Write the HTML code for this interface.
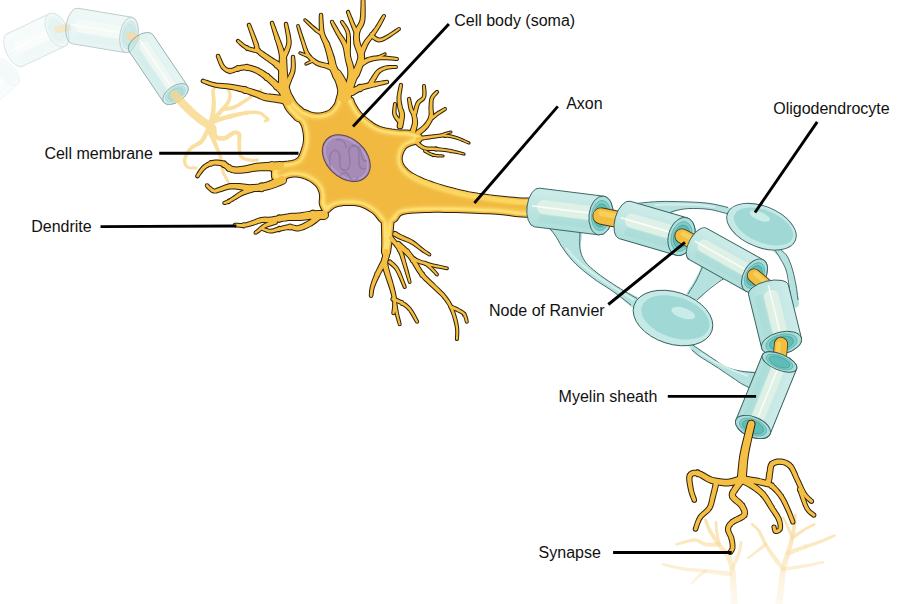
<!DOCTYPE html>
<html><head><meta charset="utf-8"><style>html,body{margin:0;padding:0;background:#fff;width:900px;height:604px;overflow:hidden}svg{display:block}text{font-family:"Liberation Sans",sans-serif}</style></head>
<body><svg width="900" height="604" viewBox="0 0 900 604" font-family="Liberation Sans, sans-serif" font-size="16" fill="#111">
<defs>
<filter id="ig" x="-5%" y="-5%" width="110%" height="110%">
<feMorphology in="SourceAlpha" operator="erode" radius="0.5" result="er"/>
<feGaussianBlur in="er" stdDeviation="1" result="b1"/>
<feGaussianBlur in="er" stdDeviation="3.2" result="b2"/>
<feComposite in="b1" in2="b2" operator="arithmetic" k1="0" k2="4.6" k3="-4.6" k4="0" result="band"/>
<feComposite in="band" in2="er" operator="in" result="edge"/>
<feFlood flood-color="#FEE070" result="c"/>
<feComposite in="c" in2="edge" operator="in" result="glow"/>
<feMerge><feMergeNode in="SourceGraphic"/><feMergeNode in="glow"/></feMerge>
</filter>
<filter id="sb" x="-5%" y="-5%" width="110%" height="110%"><feGaussianBlur stdDeviation="0.6"/></filter>
<filter id="bl" x="-5%" y="-5%" width="110%" height="110%"><feGaussianBlur stdDeviation="0.9"/></filter>
<linearGradient id="fbg" x1="0" y1="515" x2="0" y2="604" gradientUnits="userSpaceOnUse">
<stop offset="0" stop-color="#f8dc9e" stop-opacity="0.85"/><stop offset="0.5" stop-color="#f9e0aa" stop-opacity="0.6"/><stop offset="1" stop-color="#fcecd0" stop-opacity="0.35"/>
</linearGradient>
<linearGradient id="mg" x1="0" y1="-1" x2="0" y2="1" gradientUnits="objectBoundingBox">
<stop offset="0" stop-color="#cdeceb"/><stop offset="0.55" stop-color="#cbebe8"/><stop offset="1" stop-color="#b0dfdb"/>
</linearGradient>
</defs>
<g opacity="0.07"><g transform="translate(-22.0,98.0) rotate(-41.88)" opacity="1.0">
<path d="M0,-16 L38.9,-16 A8,16 0 0 1 38.9,16 L0,16 A8,16 0 0 1 0,-16Z" fill="url(#mg)" stroke="#345f5d" stroke-width="0.9"/>
<path d="M4.8,-6.7 L31.7,-6.7 L31.7,4.8 L4.8,4.8 A4.8,5.8 0 0 1 4.8,-6.7Z" fill="#e2f1e6" opacity="0.9"/>
<path d="M-4.0,-0.8 L34.1,-0.8" stroke="#ffffff" stroke-width="1.6" opacity="0.8"/>
<path d="M2.4,8.8 L34.1,8.8" stroke="#9dd6d2" stroke-width="6.4" opacity="0.35"/>
<ellipse cx="38.9" cy="0" rx="8" ry="16" fill="#a9dedb" stroke="#345f5d" stroke-width="0.9"/>
<ellipse cx="38.9" cy="0" rx="6.2" ry="12.5" fill="#7fcdc8" stroke="#4a9a96" stroke-width="0.5"/>
<ellipse cx="38.9" cy="0" rx="4.8" ry="9.6" fill="#5fbdb7" stroke="#3f8c88" stroke-width="0.5"/>

</g></g>
<g opacity="0.16"><g transform="translate(15.0,50.0) rotate(-25.46)" opacity="1.0">
<path d="M0,-18 L46.5,-18 A10,18 0 0 1 46.5,18 L0,18 A9,18 0 0 1 0,-18Z" fill="url(#mg)" stroke="#345f5d" stroke-width="0.9"/>
<path d="M5.4,-7.6 L37.5,-7.6 L37.5,5.4 L5.4,5.4 A5.4,6.5 0 0 1 5.4,-7.6Z" fill="#e2f1e6" opacity="0.9"/>
<path d="M-4.5,-0.9 L40.5,-0.9" stroke="#ffffff" stroke-width="1.6" opacity="0.8"/>
<path d="M2.7,9.9 L40.5,9.9" stroke="#9dd6d2" stroke-width="7.2" opacity="0.35"/>
<ellipse cx="46.5" cy="0" rx="10" ry="18" fill="#a9dedb" stroke="#345f5d" stroke-width="0.9"/>
<ellipse cx="46.5" cy="0" rx="7.8" ry="14.0" fill="#7fcdc8" stroke="#4a9a96" stroke-width="0.5"/>
<ellipse cx="46.5" cy="0" rx="6.0" ry="10.8" fill="#5fbdb7" stroke="#3f8c88" stroke-width="0.5"/>

</g></g>
<g opacity="0.8"><path d="M58,29.5 L67,27.5" stroke="#f3e6cc" stroke-width="7.6" stroke-linecap="round"/><path d="M58,29.5 L67,27.5" stroke="#f8e6c0" stroke-width="6" stroke-linecap="round"/></g>
<g opacity="0.32"><g transform="translate(75.0,26.0) rotate(9.46)" opacity="1.0">
<path d="M0,-18 L54.7,-18 A9,18 0 0 1 54.7,18 L0,18 A9,18 0 0 1 0,-18Z" fill="url(#mg)" stroke="#345f5d" stroke-width="0.9"/>
<path d="M5.4,-7.6 L46.6,-7.6 L46.6,5.4 L5.4,5.4 A5.4,6.5 0 0 1 5.4,-7.6Z" fill="#e2f1e6" opacity="0.9"/>
<path d="M-4.5,-0.9 L49.3,-0.9" stroke="#ffffff" stroke-width="1.6" opacity="0.8"/>
<path d="M2.7,9.9 L49.3,9.9" stroke="#9dd6d2" stroke-width="7.2" opacity="0.35"/>
<ellipse cx="54.7" cy="0" rx="9" ry="18" fill="#a9dedb" stroke="#345f5d" stroke-width="0.9"/>
<ellipse cx="54.7" cy="0" rx="7.0" ry="14.0" fill="#7fcdc8" stroke="#4a9a96" stroke-width="0.5"/>
<ellipse cx="54.7" cy="0" rx="5.4" ry="10.8" fill="#5fbdb7" stroke="#3f8c88" stroke-width="0.5"/>

</g></g>
<g opacity="0.9"><path d="M130,36 L136,38.5" stroke="#eed9b4" stroke-width="8.1" stroke-linecap="round"/><path d="M130,36 L136,38.5" stroke="#f6dcaa" stroke-width="6.5" stroke-linecap="round"/></g>
<g opacity="0.5"><g transform="translate(141.0,43.0) rotate(55.92)" opacity="1.0">
<path d="M0,-14.5 L61.6,-14.5 A8,14.5 0 0 1 61.6,14.5 L0,14.5 A8,14.5 0 0 1 0,-14.5Z" fill="url(#mg)" stroke="#345f5d" stroke-width="0.9"/>
<path d="M4.8,-6.1 L54.4,-6.1 L54.4,4.3 L4.8,4.3 A4.8,5.2 0 0 1 4.8,-6.1Z" fill="#e2f1e6" opacity="0.9"/>
<path d="M-4.0,-0.7 L56.8,-0.7" stroke="#ffffff" stroke-width="1.6" opacity="0.8"/>
<path d="M2.4,8.0 L56.8,8.0" stroke="#9dd6d2" stroke-width="5.8" opacity="0.35"/>
<ellipse cx="61.6" cy="0" rx="8" ry="14.5" fill="#a9dedb" stroke="#345f5d" stroke-width="0.9"/>
<ellipse cx="61.6" cy="0" rx="6.2" ry="11.3" fill="#7fcdc8" stroke="#4a9a96" stroke-width="0.5"/>
<ellipse cx="61.6" cy="0" rx="4.8" ry="8.7" fill="#5fbdb7" stroke="#3f8c88" stroke-width="0.5"/>

</g></g>
<g fill="#f8d889" opacity="0.8" filter="url(#sb)"><path d="M171.5,97.4L173.4,99.4L176.0,102.3L179.1,105.7L182.3,109.1L185.3,112.1L188.1,114.6L190.9,117.1L193.6,119.3L196.2,121.4L198.6,123.3L201.0,124.9L203.2,126.3L205.3,127.5L206.9,128.3L208.0,129.0A4.0,4.0 0 0 0 212.0,122.0L212.0,122.0L210.8,121.3L209.2,120.5L207.4,119.4L205.4,118.2L203.4,116.7L201.2,115.0L198.8,113.1L196.2,110.9L193.6,108.6L191.1,106.1L188.3,103.3L185.2,100.0L182.2,96.7L179.6,93.8L177.7,91.8A4.2,4.2 0 0 0 171.5,97.4ZM170.4,94.6a4.2,4.2 0 1,0 8.4,0a4.2,4.2 0 1,0 -8.4,0ZM184.1,109.1a4.1,4.1 0 1,0 8.2,0a4.1,4.1 0 1,0 -8.2,0ZM197.0,120.0a4.0,4.0 0 1,0 8.1,0a4.0,4.0 0 1,0 -8.1,0ZM206.0,125.5a4.0,4.0 0 1,0 8.0,0a4.0,4.0 0 1,0 -8.0,0Z"/><path d="M206.7,129.6L207.0,129.9L207.5,130.2L207.9,130.5L208.2,130.7L208.1,130.4L208.0,129.9L208.0,129.8L208.0,129.9L208.0,130.3L208.0,130.6A3.0,3.0 0 0 0 214.0,131.4L214.0,131.4L214.0,131.2L214.2,130.8L214.3,130.0L214.3,128.9L213.9,127.6L213.2,126.5L212.6,125.7L212.0,125.1L211.6,124.7L211.3,124.4A3.5,3.5 0 0 0 206.7,129.6ZM205.5,127.0a3.5,3.5 0 1,0 7.0,0a3.5,3.5 0 1,0 -7.0,0ZM207.8,129.0a3.2,3.2 0 1,0 6.4,0a3.2,3.2 0 1,0 -6.4,0ZM208.0,131.0a3.0,3.0 0 1,0 6.0,0a3.0,3.0 0 1,0 -6.0,0Z"/><path d="M212.5,125.7L212.8,124.5L213.3,122.8L213.8,120.8L214.4,118.6L214.8,116.5L215.1,114.3L215.4,112.0L215.6,109.8L215.7,107.6L215.8,105.6L215.9,103.9L215.8,102.4L215.8,100.9L215.7,99.5L215.6,98.1L215.4,96.5L215.1,94.9L214.9,93.5L214.7,92.2L214.7,91.3L214.9,90.4L215.4,89.4L215.9,88.4L216.5,87.5L216.9,86.8A1.6,1.6 0 0 0 214.1,85.2L214.1,85.2L213.7,85.8L213.1,86.7L212.4,87.8L211.7,89.2L211.3,90.7L211.2,92.4L211.3,93.9L211.5,95.5L211.7,97.0L211.8,98.3L211.8,99.7L211.8,101.0L211.8,102.3L211.7,103.8L211.6,105.4L211.4,107.2L211.2,109.3L210.9,111.5L210.6,113.6L210.2,115.5L209.7,117.5L209.1,119.5L208.5,121.4L207.9,123.1L207.5,124.3A2.6,2.6 0 0 0 212.5,125.7ZM207.4,125.0a2.6,2.6 0 1,0 5.2,0a2.6,2.6 0 1,0 -5.2,0ZM210.1,116.0a2.4,2.4 0 1,0 4.7,0a2.4,2.4 0 1,0 -4.7,0ZM211.6,105.5a2.1,2.1 0 1,0 4.2,0a2.1,2.1 0 1,0 -4.2,0ZM211.8,98.2a1.9,1.9 0 1,0 3.8,0a1.9,1.9 0 1,0 -3.8,0ZM211.3,91.0a1.7,1.7 0 1,0 3.5,0a1.7,1.7 0 1,0 -3.5,0ZM213.9,86.0a1.6,1.6 0 1,0 3.2,0a1.6,1.6 0 1,0 -3.2,0Z"/><path d="M212.8,123.6L214.4,121.7L216.8,119.0L219.6,115.9L222.2,112.9L224.3,110.4L225.9,108.6L227.1,107.0L228.2,105.6L229.1,104.2L229.9,102.7L230.6,101.1L231.1,99.4L231.5,97.7L231.7,96.1L231.7,94.5L231.5,92.9L230.9,91.4L230.3,90.1L229.7,89.1L229.4,88.4A1.5,1.5 0 0 0 226.6,89.6L226.6,89.6L227.0,90.4L227.5,91.4L228.0,92.6L228.3,93.7L228.5,94.7L228.4,95.8L228.2,97.1L227.8,98.4L227.3,99.8L226.7,101.1L226.0,102.3L225.2,103.4L224.1,104.6L222.9,106.0L221.3,107.8L219.1,110.1L216.4,113.0L213.5,116.0L211.0,118.6L209.2,120.4A2.4,2.4 0 0 0 212.8,123.6ZM208.6,122.0a2.4,2.4 0 1,0 4.8,0a2.4,2.4 0 1,0 -4.8,0ZM220.8,109.1a2.0,2.0 0 1,0 4.0,0a2.0,2.0 0 1,0 -4.0,0ZM226.5,101.9a1.8,1.8 0 1,0 3.6,0a1.8,1.8 0 1,0 -3.6,0ZM228.5,94.6a1.6,1.6 0 1,0 3.3,0a1.6,1.6 0 1,0 -3.3,0ZM226.5,89.0a1.5,1.5 0 1,0 3.0,0a1.5,1.5 0 1,0 -3.0,0Z"/><path d="M223.0,111.1L224.5,110.9L226.5,110.7L229.0,110.4L231.7,109.9L234.4,109.0L237.1,107.8L239.9,106.2L242.6,104.5L245.2,102.8L247.4,101.4L249.2,100.1L250.8,98.9L252.1,97.8L253.4,96.8L254.7,95.8L256.2,94.8L257.8,93.7L259.4,92.7L260.8,91.8L261.7,91.2A1.4,1.4 0 0 0 260.3,88.8L260.3,88.8L259.3,89.4L257.9,90.2L256.2,91.2L254.5,92.3L252.9,93.4L251.5,94.4L250.2,95.4L248.8,96.4L247.4,97.5L245.6,98.6L243.4,100.0L240.8,101.6L238.1,103.2L235.5,104.5L233.2,105.6L230.9,106.2L228.5,106.6L226.1,106.8L224.1,107.0L222.6,107.1A2.0,2.0 0 0 0 223.0,111.1ZM220.8,109.1a2.0,2.0 0 1,0 4.0,0a2.0,2.0 0 1,0 -4.0,0ZM232.0,107.3a1.8,1.8 0 1,0 3.7,0a1.8,1.8 0 1,0 -3.7,0ZM244.9,100.0a1.6,1.6 0 1,0 3.3,0a1.6,1.6 0 1,0 -3.3,0ZM252.3,94.6a1.5,1.5 0 1,0 3.0,0a1.5,1.5 0 1,0 -3.0,0ZM259.6,90.0a1.4,1.4 0 1,0 2.8,0a1.4,1.4 0 1,0 -2.8,0Z"/><path d="M212.1,125.2L212.9,124.8L213.9,124.2L215.1,123.6L216.5,122.9L218.2,122.2L220.2,121.5L222.5,120.8L225.0,120.0L227.8,119.3L230.6,118.5L233.7,117.7L237.0,116.8L240.4,115.9L243.7,115.2L246.7,114.6L249.5,114.3L252.3,114.1L254.8,114.1L257.1,114.2L259.0,114.4L260.2,114.8L261.2,115.3L262.0,116.0L262.8,116.8L263.7,117.6L264.7,118.3L265.5,118.9L266.2,119.5L266.6,119.8L266.5,119.5L266.8,118.8L266.5,119.0L265.8,119.2L265.1,119.5L264.5,119.7A1.4,1.4 0 0 0 265.5,122.3L265.5,122.3L265.9,122.2L266.7,121.9L267.7,121.6L268.7,121.0L269.5,119.5L269.0,118.1L268.3,117.3L267.4,116.6L266.5,115.9L265.7,115.2L264.9,114.5L264.1,113.7L263.0,112.7L261.5,111.8L259.6,111.2L257.4,110.8L254.9,110.6L252.2,110.6L249.3,110.7L246.3,111.0L243.0,111.4L239.6,112.0L236.1,112.8L232.7,113.6L229.6,114.3L226.7,115.0L223.9,115.7L221.2,116.4L218.8,117.1L216.6,117.8L214.7,118.5L213.0,119.2L211.7,119.9L210.6,120.4L209.9,120.8A2.5,2.5 0 0 0 212.1,125.2ZM208.5,123.0a2.5,2.5 0 1,0 5.0,0a2.5,2.5 0 1,0 -5.0,0ZM215.0,120.0a2.4,2.4 0 1,0 4.8,0a2.4,2.4 0 1,0 -4.8,0ZM227.9,116.4a2.2,2.2 0 1,0 4.3,0a2.2,2.2 0 1,0 -4.3,0ZM244.6,112.8a1.9,1.9 0 1,0 3.7,0a1.9,1.9 0 1,0 -3.7,0ZM257.7,112.8a1.6,1.6 0 1,0 3.3,0a1.6,1.6 0 1,0 -3.3,0ZM263.2,116.4a1.5,1.5 0 1,0 3.1,0a1.5,1.5 0 1,0 -3.1,0ZM266.5,119.5a1.5,1.5 0 1,0 2.9,0a1.5,1.5 0 1,0 -2.9,0ZM263.6,121.0a1.4,1.4 0 1,0 2.8,0a1.4,1.4 0 1,0 -2.8,0Z"/><path d="M209.7,128.6L210.4,128.6L211.1,128.7L211.4,128.7L211.5,128.6L211.4,128.5L211.6,129.2L211.7,131.0L211.9,133.3L212.4,135.8L213.7,138.1L215.8,139.6L218.0,140.4L220.4,140.8L222.7,140.8L225.2,140.5L227.5,139.5L229.7,138.1L231.7,136.6L233.3,135.4L234.5,134.8L235.4,134.7L236.2,134.6L236.7,134.7L237.0,134.9L237.3,135.3L237.5,136.4L237.5,138.3L237.4,140.6L237.2,143.2L237.3,145.7L237.5,148.0L237.6,150.4L237.9,153.0L238.5,155.4L239.6,157.6L241.4,159.2L243.6,160.2L245.8,160.9L247.9,161.3L249.8,161.7L251.7,161.9L253.5,161.9L255.2,161.8L256.5,161.7L257.5,161.6A1.5,1.5 0 0 0 257.3,158.6L257.3,158.6L256.3,158.6L255.0,158.7L253.5,158.8L251.9,158.8L250.4,158.5L248.6,158.1L246.7,157.7L244.8,157.1L243.3,156.3L242.4,155.4L241.8,154.2L241.4,152.4L241.3,150.2L241.2,147.8L241.1,145.5L241.1,143.3L241.3,140.9L241.5,138.4L241.5,136.1L241.1,133.9L240.1,132.1L238.5,131.0L236.8,130.5L235.0,130.4L233.1,130.8L231.1,131.7L229.1,133.1L227.2,134.5L225.4,135.6L224.0,136.1L222.6,136.2L220.8,136.1L219.2,135.8L217.9,135.3L217.3,134.9L217.0,134.3L216.8,132.7L216.7,130.7L216.6,128.5L216.0,126.3L214.6,124.6L212.9,123.8L211.5,123.5L210.7,123.5L210.3,123.4A2.6,2.6 0 0 0 209.7,128.6ZM207.4,126.0a2.6,2.6 0 1,0 5.2,0a2.6,2.6 0 1,0 -5.2,0ZM211.2,127.4a2.5,2.5 0 1,0 5.1,0a2.5,2.5 0 1,0 -5.1,0ZM213.1,136.5a2.4,2.4 0 1,0 4.8,0a2.4,2.4 0 1,0 -4.8,0ZM222.3,138.3a2.3,2.3 0 1,0 4.6,0a2.3,2.3 0 1,0 -4.6,0ZM231.7,132.8a2.1,2.1 0 1,0 4.3,0a2.1,2.1 0 1,0 -4.3,0ZM237.1,134.6a2.1,2.1 0 1,0 4.1,0a2.1,2.1 0 1,0 -4.1,0ZM237.3,145.6a1.9,1.9 0 1,0 3.8,0a1.9,1.9 0 1,0 -3.8,0ZM239.3,156.5a1.7,1.7 0 1,0 3.5,0a1.7,1.7 0 1,0 -3.5,0ZM248.5,160.1a1.6,1.6 0 1,0 3.2,0a1.6,1.6 0 1,0 -3.2,0ZM255.9,160.1a1.5,1.5 0 1,0 3.0,0a1.5,1.5 0 1,0 -3.0,0Z"/><path d="M206.8,126.1L206.5,126.8L206.1,127.8L205.6,129.0L205.1,130.3L204.4,131.8L203.5,133.5L202.6,135.4L201.7,137.3L200.6,139.0L199.5,140.4L198.2,141.5L196.5,142.5L194.6,143.5L192.5,144.6L190.7,145.9L189.1,147.4L187.8,149.0L186.6,150.7L185.6,152.3L184.8,153.9L184.1,155.5L183.5,157.2L183.1,158.9L182.9,160.6L183.0,162.2L183.4,163.8L184.0,165.3L185.0,166.7L186.1,167.8L187.5,168.8L189.3,169.3L191.3,169.5L193.2,169.5L194.9,169.4L196.0,169.4A1.4,1.4 0 0 0 196.0,166.6L196.0,166.6L194.9,166.6L193.2,166.6L191.5,166.5L189.9,166.4L188.9,166.0L188.1,165.5L187.4,164.7L186.9,163.8L186.4,162.8L186.2,161.8L186.2,160.8L186.4,159.6L186.8,158.2L187.3,156.9L188.0,155.5L188.8,154.1L189.7,152.7L190.7,151.4L191.9,150.0L193.1,148.9L194.6,147.9L196.4,147.0L198.4,146.1L200.5,144.9L202.5,143.4L204.1,141.5L205.4,139.5L206.6,137.4L207.6,135.5L208.4,133.8L209.2,132.3L209.9,130.9L210.5,129.6L210.9,128.6L211.2,127.9A2.4,2.4 0 0 0 206.8,126.1ZM206.6,127.0a2.4,2.4 0 1,0 4.8,0a2.4,2.4 0 1,0 -4.8,0ZM204.1,132.8a2.3,2.3 0 1,0 4.6,0a2.3,2.3 0 1,0 -4.6,0ZM198.9,141.9a2.1,2.1 0 1,0 4.2,0a2.1,2.1 0 1,0 -4.2,0ZM190.0,147.4a1.9,1.9 0 1,0 3.9,0a1.9,1.9 0 1,0 -3.9,0ZM184.6,154.7a1.8,1.8 0 1,0 3.5,0a1.8,1.8 0 1,0 -3.5,0ZM183.0,162.0a1.6,1.6 0 1,0 3.3,0a1.6,1.6 0 1,0 -3.3,0ZM186.7,167.4a1.5,1.5 0 1,0 3.1,0a1.5,1.5 0 1,0 -3.1,0ZM194.6,168.0a1.4,1.4 0 1,0 2.8,0a1.4,1.4 0 1,0 -2.8,0Z"/><path d="M208.0,134.0L208.6,135.1L209.4,136.6L210.4,138.4L211.3,140.2L212.1,141.9L212.8,143.4L213.5,145.0L214.2,146.6L214.9,148.2L215.6,149.9L216.4,151.7L217.2,153.4L218.0,155.0L218.7,156.8L219.3,158.7L219.7,160.9L220.0,163.4L220.2,166.1L220.6,168.9L221.3,171.6L222.3,174.2L223.7,176.8L225.0,179.2L226.2,181.3L227.1,182.7A1.4,1.4 0 0 0 229.5,181.3L229.5,181.3L228.7,179.8L227.6,177.8L226.3,175.4L225.2,173.0L224.3,170.6L223.8,168.3L223.6,165.8L223.4,163.1L223.1,160.4L222.7,157.9L222.1,155.7L221.4,153.7L220.6,151.8L219.9,150.1L219.2,148.5L218.5,146.8L217.9,145.1L217.3,143.5L216.6,141.8L215.9,140.1L215.1,138.3L214.1,136.4L213.3,134.6L212.5,133.1L212.0,132.0A2.2,2.2 0 0 0 208.0,134.0ZM207.8,133.0a2.2,2.2 0 1,0 4.4,0a2.2,2.2 0 1,0 -4.4,0ZM211.9,141.0a2.1,2.1 0 1,0 4.1,0a2.1,2.1 0 1,0 -4.1,0ZM215.5,149.2a1.9,1.9 0 1,0 3.9,0a1.9,1.9 0 1,0 -3.9,0ZM219.2,158.3a1.8,1.8 0 1,0 3.6,0a1.8,1.8 0 1,0 -3.6,0ZM221.2,171.1a1.6,1.6 0 1,0 3.2,0a1.6,1.6 0 1,0 -3.2,0ZM226.9,182.0a1.4,1.4 0 1,0 2.8,0a1.4,1.4 0 1,0 -2.8,0Z"/></g>
<g fill="url(#fbg)" opacity="1" filter="url(#sb)"><path d="M738.0,605.8L737.8,602.8L737.4,598.5L737.1,593.5L736.8,588.5L736.4,584.2L736.2,580.7L736.0,577.5L735.8,574.5L735.5,571.4L735.0,568.4L734.3,565.4L733.5,562.6L732.5,559.8L731.4,557.1L730.0,554.4L728.3,551.8L726.4,549.5L724.4,547.4L722.5,545.3L720.7,543.1L718.8,540.6L716.8,537.9L714.9,535.3L713.1,532.6L711.6,530.2L710.4,527.8L709.3,525.3L708.4,523.0L707.7,520.9L707.1,519.5A1.6,1.6 0 0 0 704.1,520.5L704.1,520.5L704.6,522.0L705.2,524.1L706.1,526.6L707.1,529.3L708.4,532.0L709.9,534.7L711.6,537.5L713.4,540.3L715.3,543.1L717.1,545.7L719.0,548.2L720.9,550.5L722.7,552.6L724.3,554.7L725.6,556.8L726.7,559.1L727.6,561.5L728.3,564.1L728.9,566.7L729.4,569.4L729.8,572.1L729.9,574.8L730.0,577.8L730.1,581.0L730.2,584.6L730.3,588.8L730.5,593.8L730.6,598.8L730.7,603.1L730.8,606.2A3.6,3.6 0 0 0 738.0,605.8ZM730.8,606.0a3.6,3.6 0 1,0 7.2,0a3.6,3.6 0 1,0 -7.2,0ZM730.2,584.4a3.1,3.1 0 1,0 6.3,0a3.1,3.1 0 1,0 -6.3,0ZM729.4,568.9a2.8,2.8 0 1,0 5.6,0a2.8,2.8 0 1,0 -5.6,0ZM725.3,555.6a2.5,2.5 0 1,0 5.0,0a2.5,2.5 0 1,0 -5.0,0ZM716.7,544.4a2.2,2.2 0 1,0 4.4,0a2.2,2.2 0 1,0 -4.4,0ZM708.1,531.1a1.9,1.9 0 1,0 3.7,0a1.9,1.9 0 1,0 -3.7,0ZM704.0,520.0a1.6,1.6 0 1,0 3.2,0a1.6,1.6 0 1,0 -3.2,0Z"/><path d="M734.0,569.7L734.9,567.5L736.3,564.3L737.8,560.7L739.3,557.0L740.4,553.8L741.1,551.0L741.7,548.3L742.0,545.8L742.2,543.8L742.4,542.4A1.3,1.3 0 0 0 739.8,542.0L739.8,542.0L739.5,543.4L739.2,545.4L738.8,547.7L738.2,550.2L737.4,552.8L736.2,555.8L734.6,559.3L732.9,562.8L731.4,565.9L730.4,568.1A2.0,2.0 0 0 0 734.0,569.7ZM730.2,568.9a2.0,2.0 0 1,0 4.0,0a2.0,2.0 0 1,0 -4.0,0ZM737.3,553.3a1.6,1.6 0 1,0 3.2,0a1.6,1.6 0 1,0 -3.2,0ZM739.8,542.2a1.3,1.3 0 1,0 2.6,0a1.3,1.3 0 1,0 -2.6,0Z"/><path d="M718.8,542.2L717.0,542.3L714.3,542.5L711.4,542.7L708.4,542.7L706.0,542.5L704.1,541.9L702.2,540.9L700.0,539.8L697.5,538.7L694.4,538.3L690.7,538.8L686.6,539.9L682.4,541.1L678.8,542.3L676.3,543.2A1.3,1.3 0 0 0 677.1,545.6L677.1,545.6L679.6,545.0L683.2,543.9L687.3,542.8L691.3,542.0L694.4,541.7L696.6,542.1L698.4,542.9L700.4,544.1L702.6,545.4L705.2,546.3L708.2,546.7L711.4,546.8L714.5,546.7L717.2,546.6L719.0,546.6A2.2,2.2 0 0 0 718.8,542.2ZM716.7,544.4a2.2,2.2 0 1,0 4.4,0a2.2,2.2 0 1,0 -4.4,0ZM703.7,544.4a1.9,1.9 0 1,0 3.9,0a1.9,1.9 0 1,0 -3.9,0ZM692.7,540.0a1.7,1.7 0 1,0 3.4,0a1.7,1.7 0 1,0 -3.4,0ZM675.4,544.4a1.3,1.3 0 1,0 2.6,0a1.3,1.3 0 1,0 -2.6,0Z"/><path d="M730.3,571.6L726.9,571.3L722.2,570.8L716.6,570.2L711.0,569.6L705.8,569.1L701.1,568.7L696.6,568.4L692.1,568.1L687.8,567.8L683.6,567.3L679.1,566.5L674.5,565.6L670.1,564.6L666.3,563.7L663.6,563.1A1.3,1.3 0 0 0 663.0,565.7L663.0,565.7L665.7,566.4L669.4,567.4L673.8,568.5L678.5,569.6L683.0,570.5L687.4,571.2L691.8,571.7L696.3,572.1L700.8,572.6L705.4,573.1L710.5,573.7L716.1,574.5L721.6,575.2L726.4,575.9L729.7,576.4A2.4,2.4 0 0 0 730.3,571.6ZM727.6,574.0a2.4,2.4 0 1,0 4.8,0a2.4,2.4 0 1,0 -4.8,0ZM703.6,571.1a2.0,2.0 0 1,0 4.0,0a2.0,2.0 0 1,0 -4.0,0ZM681.7,568.9a1.6,1.6 0 1,0 3.3,0a1.6,1.6 0 1,0 -3.3,0ZM662.0,564.4a1.3,1.3 0 1,0 2.6,0a1.3,1.3 0 1,0 -2.6,0Z"/><path d="M704.6,569.8L703.6,570.7L702.1,571.8L700.4,573.2L698.7,574.6L697.1,576.0L695.7,577.4L694.3,578.8L693.0,580.2L692.0,581.4L691.2,582.2A1.1,1.1 0 0 0 692.8,583.8L692.8,583.8L693.6,583.0L694.8,581.9L696.1,580.6L697.5,579.2L698.9,578.0L700.4,576.8L702.2,575.5L703.9,574.2L705.5,573.1L706.6,572.4A1.6,1.6 0 0 0 704.6,569.8ZM704.0,571.1a1.6,1.6 0 1,0 3.2,0a1.6,1.6 0 1,0 -3.2,0ZM696.7,577.0a1.3,1.3 0 1,0 2.7,0a1.3,1.3 0 1,0 -2.7,0ZM690.9,583.0a1.1,1.1 0 1,0 2.2,0a1.1,1.1 0 1,0 -2.2,0Z"/><path d="M720.7,544.1L720.3,542.2L719.7,539.6L719.1,536.5L718.6,533.5L718.1,530.9L717.8,528.7L717.6,526.6L717.5,524.7L717.3,523.1L717.2,521.9A1.2,1.2 0 0 0 714.8,522.1L714.8,522.1L714.8,523.2L714.9,524.9L714.9,526.8L715.1,529.0L715.3,531.3L715.6,533.9L716.0,537.0L716.5,540.1L716.9,542.8L717.1,544.7A1.8,1.8 0 0 0 720.7,544.1ZM717.1,544.4a1.8,1.8 0 1,0 3.6,0a1.8,1.8 0 1,0 -3.6,0ZM715.3,531.1a1.4,1.4 0 1,0 2.9,0a1.4,1.4 0 1,0 -2.9,0ZM714.8,522.0a1.2,1.2 0 1,0 2.4,0a1.2,1.2 0 1,0 -2.4,0Z"/><path d="M782.5,606.4L782.7,603.7L783.0,600.0L783.4,595.6L783.9,591.1L784.3,587.1L784.6,583.3L784.9,579.7L785.2,576.1L785.6,572.7L786.0,569.5L786.7,566.3L787.5,563.3L788.4,560.2L789.3,557.1L790.1,554.0L791.0,550.8L791.9,547.7L792.8,544.5L793.6,541.3L794.2,538.3L794.8,535.3L795.3,532.4L795.6,529.7L795.9,527.0L796.2,524.6L796.4,522.3L796.5,520.0L796.6,518.0L796.6,516.3L796.6,515.1A1.6,1.6 0 0 0 793.4,514.9L793.4,514.9L793.3,516.1L793.2,517.8L793.1,519.8L792.9,522.0L792.6,524.2L792.3,526.5L791.8,529.1L791.4,531.8L790.8,534.5L790.2,537.3L789.4,540.2L788.5,543.2L787.5,546.3L786.4,549.5L785.5,552.6L784.5,555.6L783.4,558.6L782.4,561.7L781.4,565.0L780.6,568.3L779.9,571.9L779.3,575.4L778.9,579.1L778.4,582.7L777.9,586.3L777.4,590.4L776.8,594.9L776.2,599.2L775.7,603.0L775.3,605.6A3.6,3.6 0 0 0 782.5,606.4ZM775.3,606.0a3.6,3.6 0 1,0 7.2,0a3.6,3.6 0 1,0 -7.2,0ZM777.9,586.7a3.2,3.2 0 1,0 6.4,0a3.2,3.2 0 1,0 -6.4,0ZM780.5,568.9a2.8,2.8 0 1,0 5.6,0a2.8,2.8 0 1,0 -5.6,0ZM785.4,553.3a2.4,2.4 0 1,0 4.9,0a2.4,2.4 0 1,0 -4.9,0ZM790.1,537.8a2.1,2.1 0 1,0 4.2,0a2.1,2.1 0 1,0 -4.2,0ZM792.6,524.4a1.8,1.8 0 1,0 3.6,0a1.8,1.8 0 1,0 -3.6,0ZM793.4,515.0a1.6,1.6 0 1,0 3.2,0a1.6,1.6 0 1,0 -3.2,0Z"/><path d="M785.2,567.4L783.9,565.9L782.1,563.9L780.1,561.5L778.0,559.0L776.1,556.6L774.3,554.1L772.4,551.5L770.6,548.8L768.8,546.1L767.2,543.5L765.7,540.9L764.3,538.1L762.9,535.3L761.6,532.6L760.1,530.3L758.6,528.3L756.9,526.6L755.3,525.2L754.0,524.2L753.1,523.4A1.3,1.3 0 0 0 751.3,525.4L751.3,525.4L752.2,526.2L753.5,527.3L754.9,528.6L756.4,530.2L757.7,531.9L758.8,534.1L760.0,536.6L761.3,539.5L762.6,542.4L764.0,545.3L765.6,548.1L767.4,550.9L769.1,553.7L770.9,556.4L772.7,559.0L774.6,561.7L776.6,564.3L778.6,566.8L780.3,568.9L781.4,570.4A2.4,2.4 0 0 0 785.2,567.4ZM780.9,568.9a2.4,2.4 0 1,0 4.8,0a2.4,2.4 0 1,0 -4.8,0ZM772.3,557.8a2.1,2.1 0 1,0 4.2,0a2.1,2.1 0 1,0 -4.2,0ZM763.8,544.4a1.8,1.8 0 1,0 3.6,0a1.8,1.8 0 1,0 -3.6,0ZM757.4,531.1a1.5,1.5 0 1,0 3.0,0a1.5,1.5 0 1,0 -3.0,0ZM750.9,524.4a1.3,1.3 0 1,0 2.6,0a1.3,1.3 0 1,0 -2.6,0Z"/><path d="M764.6,543.1L763.0,544.5L760.8,546.4L758.2,548.5L755.7,550.6L753.6,552.3L752.0,553.6L750.5,554.7L749.2,555.7L748.1,556.5L747.4,557.1A1.1,1.1 0 0 0 748.6,558.9L748.6,558.9L749.5,558.4L750.6,557.6L751.9,556.7L753.5,555.6L755.2,554.3L757.3,552.7L759.9,550.7L762.6,548.7L765.0,546.9L766.6,545.7A1.6,1.6 0 0 0 764.6,543.1ZM764.0,544.4a1.6,1.6 0 1,0 3.2,0a1.6,1.6 0 1,0 -3.2,0ZM753.1,553.3a1.3,1.3 0 1,0 2.6,0a1.3,1.3 0 1,0 -2.6,0ZM746.9,558.0a1.1,1.1 0 1,0 2.2,0a1.1,1.1 0 1,0 -2.2,0Z"/><path d="M788.6,555.4L791.0,554.4L794.6,553.0L798.6,551.4L802.7,549.8L806.2,548.5L809.1,547.4L811.7,546.5L814.2,545.7L816.7,544.8L819.5,543.7L822.7,542.3L826.3,540.8L829.8,539.2L832.8,537.8L834.9,536.8A1.3,1.3 0 0 0 833.9,534.4L833.9,534.4L831.7,535.3L828.6,536.6L825.1,538.0L821.5,539.5L818.3,540.7L815.6,541.6L813.1,542.4L810.6,543.2L807.9,544.0L805.0,544.9L801.4,546.2L797.3,547.6L793.1,549.1L789.5,550.4L787.0,551.2A2.2,2.2 0 0 0 788.6,555.4ZM785.6,553.3a2.2,2.2 0 1,0 4.4,0a2.2,2.2 0 1,0 -4.4,0ZM803.7,546.7a1.9,1.9 0 1,0 3.7,0a1.9,1.9 0 1,0 -3.7,0ZM817.3,542.2a1.6,1.6 0 1,0 3.2,0a1.6,1.6 0 1,0 -3.2,0ZM833.1,535.6a1.3,1.3 0 1,0 2.6,0a1.3,1.3 0 1,0 -2.6,0Z"/><path d="M793.2,539.3L795.1,537.9L797.7,536.0L800.8,533.9L803.8,531.8L806.3,530.1L808.5,528.9L810.5,527.8L812.3,526.8L813.8,526.1L814.9,525.5A1.2,1.2 0 0 0 813.9,523.3L813.9,523.3L812.7,523.8L811.2,524.5L809.3,525.4L807.1,526.4L804.9,527.7L802.2,529.3L799.1,531.3L795.9,533.3L793.1,535.1L791.2,536.3A1.8,1.8 0 0 0 793.2,539.3ZM790.4,537.8a1.8,1.8 0 1,0 3.6,0a1.8,1.8 0 1,0 -3.6,0ZM804.2,528.9a1.4,1.4 0 1,0 2.9,0a1.4,1.4 0 1,0 -2.9,0ZM813.2,524.4a1.2,1.2 0 1,0 2.4,0a1.2,1.2 0 1,0 -2.4,0Z"/><path d="M783.5,570.9L785.9,570.6L789.1,570.1L793.0,569.6L797.2,569.0L801.4,568.3L805.9,567.4L811.0,566.3L816.1,565.1L820.5,564.1L823.5,563.4A1.2,1.2 0 0 0 823.1,561.0L823.1,561.0L819.9,561.6L815.5,562.4L810.4,563.4L805.3,564.3L800.8,565.1L796.7,565.6L792.6,566.1L788.7,566.4L785.4,566.7L783.1,566.9A2.0,2.0 0 0 0 783.5,570.9ZM781.3,568.9a2.0,2.0 0 1,0 4.0,0a2.0,2.0 0 1,0 -4.0,0ZM799.5,566.7a1.6,1.6 0 1,0 3.3,0a1.6,1.6 0 1,0 -3.3,0ZM822.1,562.2a1.2,1.2 0 1,0 2.4,0a1.2,1.2 0 1,0 -2.4,0Z"/><path d="M793.7,537.2L793.0,535.7L792.2,533.5L791.1,531.0L790.0,528.4L789.0,526.2L788.0,524.1L786.9,522.0L785.8,520.1L784.9,518.4L784.3,517.3A1.1,1.1 0 0 0 782.3,518.3L782.3,518.3L782.9,519.5L783.7,521.2L784.7,523.1L785.7,525.2L786.6,527.2L787.5,529.5L788.4,532.0L789.4,534.6L790.2,536.8L790.7,538.4A1.6,1.6 0 0 0 793.7,537.2ZM790.6,537.8a1.6,1.6 0 1,0 3.2,0a1.6,1.6 0 1,0 -3.2,0ZM786.5,526.7a1.3,1.3 0 1,0 2.7,0a1.3,1.3 0 1,0 -2.7,0ZM782.2,517.8a1.1,1.1 0 1,0 2.2,0a1.1,1.1 0 1,0 -2.2,0Z"/></g>
<path d="M301.0,152.0 L301.7,150.0 L302.4,147.7 L303.2,145.2 L303.7,142.6 L304.0,140.0 L304.0,137.3 L303.8,134.4 L303.3,131.4 L302.7,128.6 L302.0,126.0 L300.8,123.7 L299.3,121.5 L297.7,119.5 L296.4,117.7 L296.0,116.0 L296.6,114.4 L297.8,112.9 L299.5,111.6 L301.3,110.6 L303.0,110.0 L304.5,110.0 L306.1,110.5 L307.8,111.2 L309.4,112.0 L311.0,112.5 L312.6,112.9 L314.1,113.2 L315.7,113.5 L317.3,113.6 L319.0,113.5 L320.9,113.2 L323.0,112.8 L325.1,112.2 L327.2,111.5 L329.0,110.5 L330.6,109.3 L332.0,107.8 L333.3,106.1 L334.6,104.5 L336.0,103.0 L337.5,101.6 L339.1,100.2 L340.8,98.8 L342.4,97.7 L344.0,97.0 L345.7,96.7 L347.4,96.7 L349.2,96.9 L350.7,97.4 L352.0,98.0 L352.9,98.8 L353.4,99.9 L353.8,101.1 L354.3,102.5 L355.0,104.0 L356.0,105.6 L357.0,107.4 L358.2,109.3 L359.6,111.2 L361.0,113.0 L362.6,114.7 L364.3,116.4 L366.2,118.0 L368.1,119.5 L370.0,121.0 L371.9,122.4 L373.7,123.7 L375.6,124.9 L377.7,126.0 L380.0,127.0 L382.7,127.8 L385.6,128.5 L388.8,129.1 L391.9,129.6 L395.0,130.0 L398.1,130.3 L401.2,130.4 L404.3,130.5 L407.3,130.6 L410.0,131.0 L412.6,131.6 L415.3,132.2 L417.7,133.0 L419.6,134.0 L421.0,135.0 L421.8,136.2 L422.0,137.7 L421.8,139.2 L421.2,140.7 L420.0,142.0 L418.0,143.1 L415.3,144.0 L412.2,144.8 L409.3,145.8 L407.0,147.0 L405.4,148.6 L404.1,150.4 L403.2,152.3 L402.5,154.2 L402.0,156.0 L401.7,157.7 L401.7,159.3 L402.0,160.9 L402.4,162.5 L403.0,164.0 L403.8,165.5 L404.8,166.9 L406.1,168.3 L407.5,169.7 L409.0,171.0 L410.7,172.3 L412.5,173.5 L414.4,174.6 L416.6,175.8 L419.0,177.0 L421.6,178.2 L424.4,179.4 L427.5,180.6 L430.7,181.8 L434.0,183.0 L437.5,184.1 L441.3,185.3 L445.1,186.4 L449.1,187.5 L453.0,188.5 L456.8,189.5 L460.6,190.4 L464.4,191.3 L468.5,192.2 L473.0,193.0 L478.0,193.8 L483.5,194.5 L489.2,195.3 L494.8,195.9 L500.0,196.5 L504.8,197.0 L509.4,197.4 L513.9,197.8 L518.1,198.2 L522.0,198.5 L525.8,198.6 L529.6,198.5 L533.0,198.5 L535.9,198.8 L538.0,200.0 L539.3,202.4 L539.9,205.7 L539.9,209.3 L539.3,212.6 L538.0,215.0 L535.9,216.2 L533.0,216.8 L529.6,216.8 L525.8,216.7 L522.0,216.5 L518.0,216.2 L513.5,215.7 L508.9,215.1 L504.4,214.5 L500.0,214.0 L496.0,213.7 L492.3,213.5 L488.6,213.3 L484.6,213.2 L480.0,213.0 L474.6,212.8 L468.5,212.6 L462.1,212.3 L455.8,212.1 L450.0,212.0 L444.6,211.9 L439.5,211.8 L434.5,211.8 L429.7,211.9 L425.0,212.0 L420.2,212.2 L415.3,212.4 L410.6,212.7 L406.4,213.2 L403.0,214.0 L400.7,215.1 L399.2,216.6 L398.2,218.2 L397.2,219.8 L396.0,221.0 L394.4,221.9 L392.8,222.7 L391.2,223.4 L389.6,223.8 L388.0,224.0 L386.6,224.0 L385.2,223.9 L383.8,223.5 L382.4,222.9 L381.0,222.0 L379.5,220.6 L378.1,218.8 L376.6,216.8 L374.9,214.8 L373.0,213.0 L370.7,211.4 L368.2,209.8 L365.5,208.3 L362.7,207.0 L360.0,206.0 L357.2,205.4 L354.3,205.0 L351.4,204.9 L348.6,204.9 L346.0,205.0 L343.6,205.1 L341.3,205.4 L339.1,205.8 L337.0,206.3 L335.0,207.0 L333.0,208.2 L331.1,209.8 L329.3,211.4 L327.6,212.6 L326.0,213.0 L324.5,212.3 L323.1,210.9 L321.8,209.0 L320.8,207.0 L320.0,205.0 L319.7,203.1 L319.7,201.0 L319.9,199.0 L320.1,196.9 L320.0,195.0 L319.7,193.2 L319.2,191.6 L318.6,190.0 L317.9,188.4 L317.0,187.0 L315.9,185.6 L314.6,184.4 L313.2,183.2 L311.7,182.0 L310.0,181.0 L308.2,180.0 L306.2,179.1 L304.1,178.2 L302.0,177.5 L300.0,177.0 L298.0,176.7 L296.0,176.5 L293.9,176.5 L291.9,176.7 L290.0,177.0 L288.1,177.6 L286.3,178.6 L284.5,179.6 L282.7,180.5 L281.0,181.0 L279.2,181.1 L277.4,180.9 L275.6,180.4 L274.1,179.8 L273.0,179.0 L272.3,177.9 L272.0,176.5 L271.8,174.9 L271.9,173.4 L272.0,172.0 L272.1,170.9 L272.3,169.8 L272.6,168.9 L273.2,167.9 L274.0,167.0 L275.2,166.0 L276.7,165.0 L278.4,164.1 L280.2,163.2 L282.0,162.5 L283.9,162.0 L286.0,161.8 L288.2,161.6 L290.2,161.3 L292.0,161.0 L293.5,160.5 L294.8,160.1 L296.0,159.5 L297.1,158.8 L298.0,158.0 L298.8,157.1 L299.4,156.1 L299.9,155.0 L300.4,153.6Z" fill="#2e210b" stroke="#2e210b" stroke-width="2.00" stroke-linejoin="round"/>
<g fill="#2e210b"><path d="M305.2,109.5L304.0,108.4L302.3,107.0L300.5,105.5L298.8,104.0L297.6,102.7L296.6,101.5L295.5,99.8L294.5,98.0L293.5,96.3L292.8,95.0A6.5,6.5 0 0 0 281.2,101.0L281.2,101.0L281.7,102.2L282.5,104.0L283.6,106.3L284.8,108.8L286.4,111.3L288.3,113.6L290.3,115.8L292.2,117.8L293.8,119.4L294.8,120.5A7.6,7.6 0 0 0 305.2,109.5ZM292.4,115.0a7.6,7.6 0 1,0 15.2,0a7.6,7.6 0 1,0 -15.2,0ZM285.0,107.0a7.0,7.0 0 1,0 14.0,0a7.0,7.0 0 1,0 -14.0,0ZM280.5,98.0a6.5,6.5 0 1,0 13.0,0a6.5,6.5 0 1,0 -13.0,0Z"/><path d="M293.6,98.1L293.1,96.7L292.3,94.7L291.5,92.4L290.7,90.3L290.1,88.5L289.8,87.3L289.5,86.5L289.4,85.8L289.2,85.0L289.0,83.6L288.7,81.6L288.5,79.3L288.3,76.8L288.0,74.2L287.9,71.9L287.7,69.8L287.6,67.7L287.5,65.6L287.4,63.7L287.3,62.0L287.3,60.4L287.2,59.0L287.1,57.8L287.1,56.8L287.0,56.0A4.0,4.0 0 0 0 279.0,56.0L279.0,56.0L278.9,56.8L278.9,57.8L278.8,59.0L278.7,60.4L278.7,62.0L278.6,63.7L278.4,65.6L278.3,67.7L278.2,69.8L278.1,72.1L278.1,74.5L278.0,77.1L278.0,79.8L278.0,82.3L278.0,84.4L278.1,86.1L278.2,87.4L278.3,88.7L278.5,90.0L278.9,91.5L279.3,93.5L279.9,95.9L280.5,98.4L281.1,100.4L281.4,101.9A6.4,6.4 0 0 0 293.6,98.1ZM281.1,100.0a6.4,6.4 0 1,0 12.8,0a6.4,6.4 0 1,0 -12.8,0ZM278.7,90.0a5.8,5.8 0 1,0 11.7,0a5.8,5.8 0 1,0 -11.7,0ZM278.0,84.0a5.5,5.5 0 1,0 11.0,0a5.5,5.5 0 1,0 -11.0,0ZM278.1,72.0a4.9,4.9 0 1,0 9.7,0a4.9,4.9 0 1,0 -9.7,0ZM278.7,62.0a4.3,4.3 0 1,0 8.6,0a4.3,4.3 0 1,0 -8.6,0ZM279.0,56.0a4.0,4.0 0 1,0 8.0,0a4.0,4.0 0 1,0 -8.0,0Z"/><path d="M286.7,95.5L285.3,95.3L283.4,95.1L281.2,94.8L278.9,94.5L276.6,94.2L274.3,94.0L272.0,93.8L269.8,93.6L267.7,93.4L265.9,93.1L264.5,92.7L263.2,92.3L261.9,91.8L260.2,91.1L258.3,90.4L256.1,89.7L253.7,89.0L251.2,88.2L248.6,87.4L246.0,86.7L243.4,86.0L240.9,85.5L238.2,84.9L235.5,84.4L232.5,83.9L229.1,83.6L225.5,83.3L221.9,83.1L218.5,82.8L215.5,82.4L212.8,81.8L210.1,81.0L207.6,80.1L205.4,79.4L203.8,78.8A2.3,2.3 0 0 0 202.2,83.2L202.2,83.2L203.7,83.8L205.8,84.7L208.4,85.7L211.4,86.7L214.5,87.6L217.8,88.2L221.4,88.7L225.0,89.1L228.4,89.6L231.5,90.1L234.3,90.6L236.8,91.2L239.3,91.9L241.7,92.6L244.0,93.3L246.5,94.1L248.9,95.0L251.3,95.9L253.6,96.8L255.7,97.6L257.4,98.3L258.8,98.9L260.3,99.6L262.0,100.3L264.1,100.9L266.3,101.4L268.7,101.8L271.1,102.2L273.3,102.5L275.4,102.8L277.6,103.2L279.9,103.6L282.1,103.9L284.0,104.3L285.3,104.5A4.6,4.6 0 0 0 286.7,95.5ZM281.4,100.0a4.6,4.6 0 1,0 9.2,0a4.6,4.6 0 1,0 -9.2,0ZM271.7,98.5a4.3,4.3 0 1,0 8.7,0a4.3,4.3 0 1,0 -8.7,0ZM261.0,97.0a4.0,4.0 0 1,0 8.1,0a4.0,4.0 0 1,0 -8.1,0ZM253.2,94.0a3.8,3.8 0 1,0 7.6,0a3.8,3.8 0 1,0 -7.6,0ZM241.5,90.0a3.5,3.5 0 1,0 6.9,0a3.5,3.5 0 1,0 -6.9,0ZM228.9,87.0a3.1,3.1 0 1,0 6.2,0a3.1,3.1 0 1,0 -6.2,0ZM212.4,85.0a2.6,2.6 0 1,0 5.3,0a2.6,2.6 0 1,0 -5.3,0ZM200.7,81.0a2.3,2.3 0 1,0 4.6,0a2.3,2.3 0 1,0 -4.6,0Z"/><path d="M287.0,90.1L286.1,89.2L284.8,87.9L283.2,86.4L281.5,84.8L279.7,83.1L277.9,81.4L275.8,79.6L273.7,77.7L271.5,75.8L269.3,74.1L267.1,72.6L265.0,71.1L262.9,69.8L260.7,68.5L258.5,67.4L256.2,66.5L254.0,65.7L251.8,65.1L249.5,64.6L247.3,64.4L245.1,64.3L243.0,64.5L241.0,64.8L239.1,65.2L237.3,65.6L235.3,66.3L233.5,67.1L232.1,67.7L231.0,68.1L230.1,68.2L229.2,68.1L228.1,67.8L227.1,67.2L226.0,66.4L225.1,65.5L224.0,63.9L222.9,61.6L221.8,59.1L220.8,56.7L220.1,55.1A2.3,2.3 0 0 0 215.9,56.9L215.9,56.9L216.5,58.5L217.3,60.8L218.4,63.6L219.6,66.3L220.9,68.5L222.5,70.3L224.1,71.6L225.9,72.7L227.8,73.4L229.9,73.8L232.1,73.6L234.1,73.1L235.8,72.3L237.3,71.7L238.7,71.4L240.3,71.1L242.0,70.8L243.6,70.6L245.2,70.5L246.7,70.6L248.3,70.9L250.1,71.4L251.9,72.0L253.7,72.7L255.5,73.6L257.3,74.5L259.1,75.7L261.0,77.0L262.9,78.4L264.7,79.9L266.6,81.5L268.6,83.3L270.6,85.2L272.5,87.1L274.3,88.9L275.9,90.5L277.5,92.1L278.9,93.7L280.1,95.0L281.0,95.9A4.2,4.2 0 0 0 287.0,90.1ZM279.8,93.0a4.2,4.2 0 1,0 8.4,0a4.2,4.2 0 1,0 -8.4,0ZM273.0,86.0a4.0,4.0 0 1,0 7.9,0a4.0,4.0 0 1,0 -7.9,0ZM263.3,77.0a3.7,3.7 0 1,0 7.3,0a3.7,3.7 0 1,0 -7.3,0ZM253.6,70.5a3.4,3.4 0 1,0 6.8,0a3.4,3.4 0 1,0 -6.8,0ZM243.8,67.5a3.2,3.2 0 1,0 6.3,0a3.2,3.2 0 1,0 -6.3,0ZM235.0,68.5a3.0,3.0 0 1,0 5.9,0a3.0,3.0 0 1,0 -5.9,0ZM227.2,71.0a2.8,2.8 0 1,0 5.5,0a2.8,2.8 0 1,0 -5.5,0ZM220.4,67.0a2.6,2.6 0 1,0 5.2,0a2.6,2.6 0 1,0 -5.2,0ZM215.7,56.0a2.3,2.3 0 1,0 4.6,0a2.3,2.3 0 1,0 -4.6,0Z"/><path d="M285.9,68.5L285.1,67.7L284.0,66.5L282.7,65.0L281.1,63.4L279.3,61.8L277.3,60.3L275.2,58.9L273.0,57.5L270.9,56.2L268.9,54.9L266.9,53.5L264.8,52.1L262.9,50.8L261.3,49.7L260.2,48.6L259.8,48.0L259.7,47.9L259.6,47.1L259.3,45.5L258.6,43.1L257.3,39.8L255.6,35.5L253.8,31.0L252.2,27.0L251.1,24.2A2.2,2.2 0 0 0 246.9,25.8L246.9,25.8L247.9,28.6L249.3,32.7L250.9,37.3L252.3,41.6L253.4,44.9L253.9,46.7L254.0,47.9L254.1,49.1L254.7,50.7L255.8,52.4L257.3,54.1L259.2,55.7L261.2,57.2L263.2,58.7L265.1,60.1L267.1,61.6L269.3,63.1L271.3,64.6L273.2,65.9L274.7,67.2L276.0,68.5L277.3,69.9L278.4,71.3L279.4,72.5L280.1,73.5A3.8,3.8 0 0 0 285.9,68.5ZM279.2,71.0a3.8,3.8 0 1,0 7.6,0a3.8,3.8 0 1,0 -7.6,0ZM273.4,64.5a3.6,3.6 0 1,0 7.1,0a3.6,3.6 0 1,0 -7.1,0ZM263.8,57.5a3.2,3.2 0 1,0 6.5,0a3.2,3.2 0 1,0 -6.5,0ZM255.1,50.5a2.9,2.9 0 1,0 5.9,0a2.9,2.9 0 1,0 -5.9,0ZM253.3,44.0a2.7,2.7 0 1,0 5.5,0a2.7,2.7 0 1,0 -5.5,0ZM246.8,25.0a2.2,2.2 0 1,0 4.4,0a2.2,2.2 0 1,0 -4.4,0Z"/><path d="M258.6,48.5L257.0,48.2L254.8,47.8L252.4,47.3L250.0,46.6L248.1,45.9L246.2,44.8L244.2,43.4L242.3,41.8L240.6,40.4L239.4,39.4A2.1,2.1 0 0 0 236.6,42.6L236.6,42.6L237.8,43.6L239.4,45.2L241.4,46.9L243.6,48.6L245.9,50.1L248.5,51.2L251.2,52.0L253.8,52.7L255.9,53.1L257.4,53.5A2.6,2.6 0 0 0 258.6,48.5ZM255.4,51.0a2.6,2.6 0 1,0 5.2,0a2.6,2.6 0 1,0 -5.2,0ZM244.7,48.0a2.4,2.4 0 1,0 4.7,0a2.4,2.4 0 1,0 -4.7,0ZM235.9,41.0a2.1,2.1 0 1,0 4.2,0a2.1,2.1 0 1,0 -4.2,0Z"/><path d="M286.5,59.4L286.2,58.1L285.8,56.2L285.4,54.0L284.8,51.6L284.1,49.2L283.3,46.8L282.5,44.5L281.6,42.1L280.6,39.7L279.6,37.1L278.5,34.1L277.2,30.7L276.0,27.3L274.9,24.4L274.1,22.3A2.2,2.2 0 0 0 269.9,23.7L269.9,23.7L270.5,25.8L271.4,28.8L272.4,32.3L273.5,35.8L274.4,38.9L275.2,41.6L276.0,44.1L276.7,46.5L277.3,48.7L277.9,50.8L278.3,53.0L278.7,55.3L279.0,57.4L279.3,59.3L279.5,60.6A3.6,3.6 0 0 0 286.5,59.4ZM279.4,60.0a3.6,3.6 0 1,0 7.2,0a3.6,3.6 0 1,0 -7.2,0ZM277.8,50.0a3.2,3.2 0 1,0 6.5,0a3.2,3.2 0 1,0 -6.5,0ZM274.2,38.0a2.8,2.8 0 1,0 5.5,0a2.8,2.8 0 1,0 -5.5,0ZM269.8,23.0a2.2,2.2 0 1,0 4.4,0a2.2,2.2 0 1,0 -4.4,0Z"/><path d="M285.8,59.5L286.3,58.4L287.1,56.9L288.1,55.0L289.0,53.0L289.7,51.1L290.3,49.4L290.9,47.7L291.4,45.8L291.7,43.6L291.7,40.9L291.2,37.5L290.5,33.5L289.6,29.5L288.7,26.0L288.2,23.6A2.2,2.2 0 0 0 283.8,24.4L283.8,24.4L284.2,26.9L284.9,30.4L285.6,34.4L286.1,38.2L286.3,41.1L286.2,43.1L285.9,44.6L285.5,46.0L284.9,47.4L284.3,48.9L283.5,50.6L282.6,52.3L281.7,53.9L280.8,55.4L280.2,56.5A3.2,3.2 0 0 0 285.8,59.5ZM279.8,58.0a3.2,3.2 0 1,0 6.4,0a3.2,3.2 0 1,0 -6.4,0ZM284.1,50.0a2.9,2.9 0 1,0 5.9,0a2.9,2.9 0 1,0 -5.9,0ZM286.3,41.0a2.7,2.7 0 1,0 5.4,0a2.7,2.7 0 1,0 -5.4,0ZM283.8,24.0a2.2,2.2 0 1,0 4.4,0a2.2,2.2 0 1,0 -4.4,0Z"/><path d="M288.2,91.3L288.6,89.9L289.3,87.9L290.2,85.7L291.0,83.3L291.8,81.2L292.5,79.3L293.4,77.4L294.3,75.3L295.1,73.0L295.6,70.4L295.8,67.5L295.8,64.4L295.6,61.3L295.4,58.7L295.2,56.9A2.2,2.2 0 0 0 290.8,57.1L290.8,57.1L290.8,58.9L290.8,61.5L290.8,64.4L290.7,67.3L290.4,69.6L289.9,71.4L289.1,73.1L288.2,74.9L287.2,76.8L286.2,78.8L285.3,81.0L284.3,83.3L283.3,85.5L282.5,87.4L281.8,88.7A3.4,3.4 0 0 0 288.2,91.3ZM281.6,90.0a3.4,3.4 0 1,0 6.8,0a3.4,3.4 0 1,0 -6.8,0ZM286.0,80.0a3.0,3.0 0 1,0 6.1,0a3.0,3.0 0 1,0 -6.1,0ZM290.3,70.0a2.7,2.7 0 1,0 5.3,0a2.7,2.7 0 1,0 -5.3,0ZM290.8,57.0a2.2,2.2 0 1,0 4.4,0a2.2,2.2 0 1,0 -4.4,0Z"/><path d="M350.1,107.5L350.3,105.2L350.5,103.0L350.7,100.8L350.9,98.5L351.1,96.3A7.2,7.2 0 0 0 336.9,93.7L336.9,93.7L336.3,95.9L335.7,98.0L335.1,100.2L334.5,102.4L333.9,104.5A8.2,8.2 0 0 0 350.1,107.5ZM333.8,106.0a8.2,8.2 0 1,0 16.4,0a8.2,8.2 0 1,0 -16.4,0ZM336.8,95.0a7.2,7.2 0 1,0 14.4,0a7.2,7.2 0 1,0 -14.4,0Z"/><path d="M351.0,96.7L350.8,95.9L350.7,94.5L350.5,92.8L350.2,90.8L349.8,88.8L349.2,86.9L348.6,85.1L347.9,83.3L347.1,81.6L346.3,79.8L345.3,77.9L344.2,76.0L343.1,74.2L342.1,72.7L341.4,71.7A5.0,5.0 0 0 0 332.6,76.3L332.6,76.3L333.0,77.5L333.7,79.1L334.5,80.9L335.2,82.6L335.7,84.2L336.1,85.7L336.5,87.2L336.8,88.6L337.1,90.0L337.2,91.2L337.2,92.3L337.2,93.6L337.2,95.0L337.1,96.3L337.0,97.3A7.0,7.0 0 0 0 351.0,96.7ZM337.0,97.0a7.0,7.0 0 1,0 14.0,0a7.0,7.0 0 1,0 -14.0,0ZM337.1,90.0a6.4,6.4 0 1,0 12.8,0a6.4,6.4 0 1,0 -12.8,0ZM335.3,82.0a5.7,5.7 0 1,0 11.5,0a5.7,5.7 0 1,0 -11.5,0ZM332.0,74.0a5.0,5.0 0 1,0 10.0,0a5.0,5.0 0 1,0 -10.0,0Z"/><path d="M341.2,74.0L340.5,72.8L339.6,71.1L338.6,69.2L337.7,67.3L337.0,65.7L336.5,64.3L336.2,62.8L335.8,61.2L335.4,59.2L334.8,57.0L334.0,54.6L333.1,52.0L332.2,49.3L331.2,46.5L330.1,43.8L329.0,41.3L327.7,39.0L326.6,36.9L325.6,34.8L324.8,32.4L324.3,29.2L323.9,25.2L323.6,21.1L323.4,17.5L323.2,14.9A2.2,2.2 0 0 0 318.8,15.1L318.8,15.1L318.7,17.6L318.7,21.3L318.7,25.5L318.8,29.8L319.2,33.6L319.9,36.7L321.0,39.5L322.0,41.8L323.0,44.0L323.9,46.2L324.6,48.7L325.4,51.4L326.1,54.1L326.7,56.7L327.2,59.0L327.6,60.9L327.9,62.6L328.1,64.4L328.5,66.3L329.0,68.3L329.8,70.6L330.7,72.8L331.6,75.0L332.3,76.7L332.8,78.0A4.6,4.6 0 0 0 341.2,74.0ZM332.4,76.0a4.6,4.6 0 1,0 9.2,0a4.6,4.6 0 1,0 -9.2,0ZM328.8,67.0a4.2,4.2 0 1,0 8.5,0a4.2,4.2 0 1,0 -8.5,0ZM327.1,58.0a3.9,3.9 0 1,0 7.8,0a3.9,3.9 0 1,0 -7.8,0ZM323.6,45.0a3.4,3.4 0 1,0 6.7,0a3.4,3.4 0 1,0 -6.7,0ZM319.1,33.0a2.9,2.9 0 1,0 5.8,0a2.9,2.9 0 1,0 -5.8,0ZM318.8,15.0a2.2,2.2 0 1,0 4.4,0a2.2,2.2 0 1,0 -4.4,0Z"/><path d="M335.3,66.2L334.4,65.8L333.1,65.2L331.6,64.6L329.8,63.9L327.9,63.2L325.9,62.7L323.8,62.2L321.8,61.8L320.0,61.3L318.3,60.6L316.6,59.6L314.8,58.3L313.0,56.9L311.5,55.3L310.1,53.6L308.9,51.7L308.0,49.5L307.0,46.9L306.1,44.2L305.1,41.3L304.0,38.1L302.8,34.4L301.6,30.8L300.6,27.7L299.8,25.4A1.9,1.9 0 0 0 296.2,26.6L296.2,26.6L296.8,28.8L297.7,32.0L298.8,35.7L299.9,39.4L300.9,42.7L301.8,45.6L302.6,48.4L303.5,51.2L304.5,53.8L305.9,56.4L307.6,58.7L309.5,60.7L311.5,62.5L313.6,64.0L315.7,65.4L318.0,66.5L320.3,67.3L322.5,67.8L324.5,68.3L326.1,68.8L327.6,69.4L329.2,70.1L330.6,70.8L331.8,71.4L332.7,71.8A3.1,3.1 0 0 0 335.3,66.2ZM330.9,69.0a3.1,3.1 0 1,0 6.2,0a3.1,3.1 0 1,0 -6.2,0ZM324.1,66.0a2.9,2.9 0 1,0 5.9,0a2.9,2.9 0 1,0 -5.9,0ZM314.3,63.0a2.7,2.7 0 1,0 5.5,0a2.7,2.7 0 1,0 -5.5,0ZM305.5,55.0a2.5,2.5 0 1,0 5.0,0a2.5,2.5 0 1,0 -5.0,0ZM300.8,42.0a2.2,2.2 0 1,0 4.5,0a2.2,2.2 0 1,0 -4.5,0ZM296.1,26.0a1.9,1.9 0 1,0 3.8,0a1.9,1.9 0 1,0 -3.8,0Z"/><path d="M323.2,31.9L322.5,31.5L321.5,31.0L320.3,30.3L318.9,29.4L317.4,28.3L315.4,26.6L312.8,24.4L310.2,22.1L307.9,20.1L306.2,18.7A1.8,1.8 0 0 0 303.8,21.3L303.8,21.3L305.3,22.8L307.5,25.0L310.1,27.5L312.5,29.8L314.6,31.7L316.3,33.1L317.8,34.1L319.1,35.0L320.1,35.6L320.8,36.1A2.4,2.4 0 0 0 323.2,31.9ZM319.6,34.0a2.4,2.4 0 1,0 4.8,0a2.4,2.4 0 1,0 -4.8,0ZM313.8,30.0a2.2,2.2 0 1,0 4.4,0a2.2,2.2 0 1,0 -4.4,0ZM303.2,20.0a1.8,1.8 0 1,0 3.6,0a1.8,1.8 0 1,0 -3.6,0Z"/><path d="M310.8,55.1L308.8,54.3L306.7,53.6L304.7,52.9L302.7,52.1L300.6,51.4A1.7,1.7 0 0 0 299.4,54.6L299.4,54.6L301.3,55.5L303.3,56.3L305.3,57.2L307.2,58.1L309.2,58.9A2.1,2.1 0 0 0 310.8,55.1ZM307.9,57.0a2.1,2.1 0 1,0 4.2,0a2.1,2.1 0 1,0 -4.2,0ZM298.3,53.0a1.7,1.7 0 1,0 3.4,0a1.7,1.7 0 1,0 -3.4,0Z"/><path d="M311.1,59.2L309.9,59.9L308.8,60.5L307.6,61.2L306.4,61.8L305.2,62.5A1.7,1.7 0 0 0 306.8,65.5L306.8,65.5L308.0,65.0L309.2,64.4L310.4,63.9L311.7,63.3L312.9,62.8A2.0,2.0 0 0 0 311.1,59.2ZM310.0,61.0a2.0,2.0 0 1,0 4.0,0a2.0,2.0 0 1,0 -4.0,0ZM304.3,64.0a1.7,1.7 0 1,0 3.4,0a1.7,1.7 0 1,0 -3.4,0Z"/><path d="M350.4,95.5L350.9,93.5L351.8,90.7L352.9,87.3L353.9,83.9L354.5,80.9L354.9,78.4L355.2,76.2L355.2,74.0L355.1,71.8L354.8,69.5L354.3,67.0L353.6,64.5L352.8,62.0L352.0,59.6L351.3,57.2L350.8,54.8L350.2,52.2L349.6,49.5L348.8,46.7L347.8,43.9L346.4,41.2L344.9,38.6L343.3,36.2L341.7,33.9L340.2,31.7L338.8,29.3L337.4,26.8L336.0,24.4L334.8,22.4L333.9,21.0A2.2,2.2 0 0 0 330.1,23.0L330.1,23.0L330.8,24.6L331.8,26.7L333.1,29.2L334.4,31.8L335.8,34.3L337.1,36.7L338.6,39.2L340.0,41.6L341.2,43.9L342.2,46.1L342.9,48.4L343.4,50.8L343.8,53.4L344.2,56.1L344.7,58.8L345.3,61.4L345.9,64.0L346.5,66.3L347.0,68.5L347.2,70.5L347.3,72.3L347.3,73.9L347.2,75.5L346.9,77.1L346.5,79.1L345.7,81.6L344.7,84.6L343.5,87.8L342.4,90.5L341.6,92.5A4.6,4.6 0 0 0 350.4,95.5ZM341.4,94.0a4.6,4.6 0 1,0 9.2,0a4.6,4.6 0 1,0 -9.2,0ZM346.4,80.0a4.1,4.1 0 1,0 8.3,0a4.1,4.1 0 1,0 -8.3,0ZM347.2,70.0a3.8,3.8 0 1,0 7.7,0a3.8,3.8 0 1,0 -7.7,0ZM344.6,58.0a3.4,3.4 0 1,0 6.9,0a3.4,3.4 0 1,0 -6.9,0ZM342.0,45.0a3.0,3.0 0 1,0 6.1,0a3.0,3.0 0 1,0 -6.1,0ZM335.4,33.0a2.6,2.6 0 1,0 5.2,0a2.6,2.6 0 1,0 -5.2,0ZM329.8,22.0a2.2,2.2 0 1,0 4.4,0a2.2,2.2 0 1,0 -4.4,0Z"/><path d="M350.8,55.1L350.8,52.7L350.9,49.1L351.0,45.1L351.0,41.1L351.0,37.9L350.8,35.6L350.6,33.8L350.2,32.2L349.8,30.7L349.1,29.1L348.1,27.2L346.9,25.2L345.6,23.4L344.5,21.9L343.7,20.8A2.1,2.1 0 0 0 340.3,23.2L340.3,23.2L341.0,24.3L342.0,25.9L343.1,27.6L344.2,29.4L344.9,30.9L345.4,32.2L345.7,33.3L345.8,34.5L346.0,36.0L346.0,38.1L346.0,41.1L345.8,44.9L345.6,48.9L345.4,52.4L345.2,54.9A2.8,2.8 0 0 0 350.8,55.1ZM345.2,55.0a2.8,2.8 0 1,0 5.6,0a2.8,2.8 0 1,0 -5.6,0ZM346.0,38.0a2.5,2.5 0 1,0 4.9,0a2.5,2.5 0 1,0 -4.9,0ZM344.7,30.0a2.3,2.3 0 1,0 4.6,0a2.3,2.3 0 1,0 -4.6,0ZM339.9,22.0a2.1,2.1 0 1,0 4.2,0a2.1,2.1 0 1,0 -4.2,0Z"/><path d="M351.8,97.4L352.4,95.1L353.3,91.7L354.4,87.9L355.4,84.3L356.3,81.7L356.9,80.1L357.5,79.1L358.1,78.1L359.0,76.7L359.9,74.9L360.8,72.9L361.7,70.8L362.5,68.5L363.3,66.3L363.9,64.2L364.4,62.4L364.8,60.7L365.0,58.8L365.1,56.7L364.8,54.3L364.1,51.7L363.1,49.1L362.0,46.6L361.1,44.3L360.5,42.3L360.1,40.3L359.9,38.3L359.8,36.4L359.9,34.5L360.2,32.9L360.7,31.3L361.5,29.6L362.7,27.7L363.9,25.4L364.9,22.8L365.4,20.2L365.6,17.5L365.7,14.9L365.7,12.4L365.7,10.1L365.7,7.6L365.6,5.0L365.6,2.5L365.5,0.4L365.4,-1.0A2.4,2.4 0 0 0 360.6,-1.0L360.6,-1.0L360.6,0.5L360.5,2.6L360.5,5.0L360.4,7.5L360.3,9.9L360.2,12.3L360.1,14.7L359.9,17.1L359.6,19.3L359.1,21.2L358.4,22.8L357.4,24.5L356.1,26.4L354.8,28.6L353.8,31.1L353.3,33.7L353.1,36.2L353.0,38.6L353.2,41.1L353.5,43.7L354.2,46.5L355.1,49.2L356.1,51.8L356.8,54.0L357.2,55.7L357.2,56.9L357.2,58.0L356.9,59.0L356.6,60.3L356.1,61.8L355.5,63.6L354.7,65.5L353.8,67.5L352.9,69.4L352.1,71.1L351.4,72.2L350.8,73.1L349.9,74.3L348.8,76.0L347.7,78.3L346.6,81.4L345.3,85.1L344.1,88.9L343.0,92.3L342.2,94.6A5.0,5.0 0 0 0 351.8,97.4ZM342.0,96.0a5.0,5.0 0 1,0 10.0,0a5.0,5.0 0 1,0 -10.0,0ZM347.4,80.0a4.6,4.6 0 1,0 9.1,0a4.6,4.6 0 1,0 -9.1,0ZM351.6,73.0a4.4,4.4 0 1,0 8.7,0a4.4,4.4 0 1,0 -8.7,0ZM355.9,63.0a4.1,4.1 0 1,0 8.2,0a4.1,4.1 0 1,0 -8.2,0ZM357.1,55.0a3.9,3.9 0 1,0 7.8,0a3.9,3.9 0 1,0 -7.8,0ZM353.4,43.0a3.6,3.6 0 1,0 7.1,0a3.6,3.6 0 1,0 -7.1,0ZM353.7,32.0a3.3,3.3 0 1,0 6.6,0a3.3,3.3 0 1,0 -6.6,0ZM359.0,22.0a3.0,3.0 0 1,0 6.0,0a3.0,3.0 0 1,0 -6.0,0ZM360.3,10.0a2.7,2.7 0 1,0 5.4,0a2.7,2.7 0 1,0 -5.4,0ZM360.6,-1.0a2.4,2.4 0 1,0 4.8,0a2.4,2.4 0 1,0 -4.8,0Z"/><path d="M359.5,32.8L359.0,31.7L358.2,30.1L357.3,28.2L356.3,26.2L355.3,24.0L354.2,21.6L353.0,18.6L351.8,15.7L350.7,13.1L350.0,11.3A2.1,2.1 0 0 0 346.0,12.7L346.0,12.7L346.7,14.6L347.6,17.3L348.6,20.3L349.7,23.3L350.7,26.0L351.6,28.2L352.5,30.4L353.3,32.4L354.0,34.0L354.5,35.2A2.8,2.8 0 0 0 359.5,32.8ZM354.2,34.0a2.8,2.8 0 1,0 5.6,0a2.8,2.8 0 1,0 -5.6,0ZM350.5,25.0a2.5,2.5 0 1,0 5.0,0a2.5,2.5 0 1,0 -5.0,0ZM345.9,12.0a2.1,2.1 0 1,0 4.2,0a2.1,2.1 0 1,0 -4.2,0Z"/><path d="M364.1,55.3L364.7,53.8L365.6,51.5L366.6,49.0L367.7,46.6L368.6,44.5L369.6,42.9L370.7,41.3L371.9,39.8L373.0,38.2L374.2,36.7L375.2,35.2L376.1,34.0L377.0,32.6L378.0,31.1L379.1,29.3L380.5,27.0L382.0,24.2L383.6,21.3L384.9,18.8L385.8,17.0A2.1,2.1 0 0 0 382.2,15.0L382.2,15.0L381.1,16.6L379.6,19.1L378.0,21.8L376.3,24.5L374.9,26.7L373.8,28.3L372.8,29.6L371.8,30.8L370.9,32.0L369.8,33.3L368.6,34.7L367.4,36.2L366.1,37.7L364.7,39.5L363.4,41.5L362.1,43.8L360.8,46.4L359.6,49.0L358.6,51.2L357.9,52.7A3.4,3.4 0 0 0 364.1,55.3ZM357.6,54.0a3.4,3.4 0 1,0 6.8,0a3.4,3.4 0 1,0 -6.8,0ZM363.0,43.0a3.0,3.0 0 1,0 6.1,0a3.0,3.0 0 1,0 -6.1,0ZM369.2,35.0a2.8,2.8 0 1,0 5.5,0a2.8,2.8 0 1,0 -5.5,0ZM374.5,28.0a2.5,2.5 0 1,0 5.0,0a2.5,2.5 0 1,0 -5.0,0ZM381.9,16.0a2.1,2.1 0 1,0 4.2,0a2.1,2.1 0 1,0 -4.2,0Z"/><path d="M370.5,38.1L371.4,38.7L372.8,39.7L374.5,40.9L376.5,41.9L378.7,42.4L380.8,42.3L382.7,41.8L384.5,41.0L386.2,40.1L388.1,39.0L390.5,37.5L393.3,35.6L396.1,33.6L398.5,31.9L400.1,30.6A2.0,2.0 0 0 0 397.9,27.4L397.9,27.4L396.1,28.5L393.7,30.1L390.9,32.0L388.1,33.7L385.9,35.0L384.0,36.0L382.5,36.8L381.2,37.3L380.1,37.5L379.3,37.6L378.3,37.3L377.1,36.6L375.7,35.6L374.5,34.6L373.5,33.9A2.6,2.6 0 0 0 370.5,38.1ZM369.4,36.0a2.6,2.6 0 1,0 5.2,0a2.6,2.6 0 1,0 -5.2,0ZM376.6,40.0a2.4,2.4 0 1,0 4.9,0a2.4,2.4 0 1,0 -4.9,0ZM384.7,37.0a2.3,2.3 0 1,0 4.6,0a2.3,2.3 0 1,0 -4.6,0ZM397.0,29.0a2.0,2.0 0 1,0 4.0,0a2.0,2.0 0 1,0 -4.0,0Z"/><path d="M362.7,66.7L363.6,66.1L364.9,65.2L366.3,64.3L367.7,63.4L369.1,62.7L370.5,62.2L372.1,61.7L373.8,61.3L375.5,60.9L377.3,60.6L379.1,60.4L380.9,60.3L382.9,60.3L384.9,60.3L386.9,60.3L389.0,60.4L391.3,60.6L393.5,60.7L395.4,60.9L396.8,61.0A2.0,2.0 0 0 0 397.2,57.0L397.2,57.0L395.9,56.8L394.0,56.5L391.7,56.2L389.3,55.9L387.1,55.7L385.1,55.5L383.0,55.4L380.9,55.3L378.8,55.3L376.7,55.4L374.7,55.6L372.7,55.8L370.7,56.2L368.8,56.7L366.9,57.3L365.0,58.1L363.2,59.0L361.5,60.0L360.2,60.8L359.3,61.3A3.2,3.2 0 0 0 362.7,66.7ZM357.8,64.0a3.2,3.2 0 1,0 6.4,0a3.2,3.2 0 1,0 -6.4,0ZM365.1,60.0a2.9,2.9 0 1,0 5.9,0a2.9,2.9 0 1,0 -5.9,0ZM374.4,58.0a2.6,2.6 0 1,0 5.3,0a2.6,2.6 0 1,0 -5.3,0ZM384.7,58.0a2.3,2.3 0 1,0 4.6,0a2.3,2.3 0 1,0 -4.6,0ZM395.0,59.0a2.0,2.0 0 1,0 4.0,0a2.0,2.0 0 1,0 -4.0,0Z"/><path d="M377.9,59.8L379.5,58.9L381.0,58.1L382.6,57.2L384.2,56.4L385.8,55.5A1.7,1.7 0 0 0 384.2,52.5L384.2,52.5L382.6,53.2L381.0,54.0L379.4,54.7L377.7,55.5L376.1,56.2A2.0,2.0 0 0 0 377.9,59.8ZM375.0,58.0a2.0,2.0 0 1,0 4.0,0a2.0,2.0 0 1,0 -4.0,0ZM383.3,54.0a1.7,1.7 0 1,0 3.4,0a1.7,1.7 0 1,0 -3.4,0Z"/><path d="M353.9,95.5L354.9,94.9L356.4,94.0L358.2,93.0L359.9,92.0L361.4,91.3L362.6,90.8L363.7,90.3L364.9,89.9L366.2,89.6L367.7,89.1L369.4,88.6L371.4,88.1L373.4,87.6L375.5,87.2L377.5,86.6L379.7,86.1L382.0,85.6L384.2,85.0L386.1,84.5L387.4,84.2A2.2,2.2 0 0 0 386.6,79.8L386.6,79.8L385.2,80.0L383.2,80.3L381.0,80.7L378.6,81.0L376.5,81.4L374.4,81.6L372.3,82.0L370.2,82.3L368.2,82.6L366.3,82.9L364.7,83.2L363.2,83.5L361.8,83.8L360.3,84.2L358.6,84.7L356.8,85.4L354.8,86.3L352.9,87.2L351.3,88.0L350.1,88.5A4.0,4.0 0 0 0 353.9,95.5ZM348.0,92.0a4.0,4.0 0 1,0 8.0,0a4.0,4.0 0 1,0 -8.0,0ZM356.4,88.0a3.6,3.6 0 1,0 7.1,0a3.6,3.6 0 1,0 -7.1,0ZM363.8,86.0a3.2,3.2 0 1,0 6.4,0a3.2,3.2 0 1,0 -6.4,0ZM374.3,84.0a2.7,2.7 0 1,0 5.4,0a2.7,2.7 0 1,0 -5.4,0ZM384.8,82.0a2.2,2.2 0 1,0 4.4,0a2.2,2.2 0 1,0 -4.4,0Z"/><path d="M372.8,86.6L373.3,85.6L374.0,84.2L374.8,82.6L375.6,81.0L376.5,79.5L377.3,78.0L378.2,76.5L379.0,75.1L379.8,74.0L380.7,73.0L381.7,72.2L383.0,71.5L384.4,70.8L386.0,70.2L387.5,69.8L389.1,69.4L391.1,69.2L393.0,69.1L394.8,69.1L396.0,69.0A2.0,2.0 0 0 0 396.0,65.0L396.0,65.0L394.7,65.0L393.0,64.9L390.9,64.9L388.6,65.0L386.5,65.2L384.6,65.7L382.7,66.2L380.9,66.9L379.1,67.8L377.3,69.0L375.8,70.4L374.5,72.0L373.4,73.6L372.4,75.1L371.5,76.5L370.5,78.0L369.5,79.6L368.6,81.2L367.8,82.5L367.2,83.4A3.2,3.2 0 0 0 372.8,86.6ZM366.8,85.0a3.2,3.2 0 1,0 6.4,0a3.2,3.2 0 1,0 -6.4,0ZM371.1,78.0a2.9,2.9 0 1,0 5.8,0a2.9,2.9 0 1,0 -5.8,0ZM376.4,71.0a2.6,2.6 0 1,0 5.2,0a2.6,2.6 0 1,0 -5.2,0ZM384.7,67.5a2.3,2.3 0 1,0 4.6,0a2.3,2.3 0 1,0 -4.6,0ZM394.0,67.0a2.0,2.0 0 1,0 4.0,0a2.0,2.0 0 1,0 -4.0,0Z"/><path d="M403.3,126.7L403.6,125.2L404.0,123.0L404.5,120.3L404.9,117.6L405.1,115.0L404.8,112.7L404.3,110.8L403.7,109.3L403.1,107.9L402.7,106.4L402.4,104.7L402.0,102.9L401.7,101.0L401.5,99.1L401.5,97.1L401.6,94.8L402.0,92.2L402.4,89.5L402.8,87.1L403.1,85.4A2.1,2.1 0 0 0 398.9,84.6L398.9,84.6L398.5,86.2L398.0,88.6L397.4,91.4L396.9,94.2L396.5,96.9L396.5,99.2L396.5,101.5L396.7,103.6L397.0,105.6L397.3,107.6L397.7,109.5L398.2,111.1L398.6,112.5L398.9,113.7L398.9,115.0L398.7,116.8L398.3,119.1L397.7,121.5L397.1,123.7L396.7,125.3A3.4,3.4 0 0 0 403.3,126.7ZM396.6,126.0a3.4,3.4 0 1,0 6.8,0a3.4,3.4 0 1,0 -6.8,0ZM398.9,115.0a3.1,3.1 0 1,0 6.1,0a3.1,3.1 0 1,0 -6.1,0ZM397.2,107.0a2.8,2.8 0 1,0 5.6,0a2.8,2.8 0 1,0 -5.6,0ZM396.5,97.0a2.5,2.5 0 1,0 5.0,0a2.5,2.5 0 1,0 -5.0,0ZM398.9,85.0a2.1,2.1 0 1,0 4.2,0a2.1,2.1 0 1,0 -4.2,0Z"/><path d="M401.1,119.4L400.3,118.5L399.2,117.3L398.2,116.0L397.3,114.6L396.8,113.5L396.5,112.0L396.6,109.9L396.7,107.7L396.9,105.7L397.0,104.2A2.0,2.0 0 0 0 393.0,103.8L393.0,103.8L392.8,105.2L392.5,107.2L392.2,109.6L392.0,112.1L392.2,114.5L393.0,116.8L394.1,118.7L395.3,120.4L396.3,121.7L396.9,122.6A2.6,2.6 0 0 0 401.1,119.4ZM396.4,121.0a2.6,2.6 0 1,0 5.2,0a2.6,2.6 0 1,0 -5.2,0ZM392.2,114.0a2.3,2.3 0 1,0 4.7,0a2.3,2.3 0 1,0 -4.7,0ZM393.0,104.0a2.0,2.0 0 1,0 4.0,0a2.0,2.0 0 1,0 -4.0,0Z"/><path d="M416.3,132.0L416.5,130.9L416.9,129.3L417.4,127.4L417.8,125.3L418.1,123.2L418.0,121.3L417.8,119.4L417.5,117.6L417.1,115.9L416.6,114.2L416.0,112.6L415.2,111.3L414.5,110.3L413.9,109.3L413.4,108.2L412.9,106.6L412.3,104.4L411.8,102.1L411.4,100.0L411.1,98.6A2.1,2.1 0 0 0 406.9,99.4L406.9,99.4L407.1,100.8L407.4,102.9L407.7,105.3L408.1,107.6L408.6,109.8L409.3,111.5L410.0,112.9L410.6,114.0L411.1,114.9L411.4,115.8L411.6,117.1L411.8,118.5L412.0,120.0L412.0,121.4L411.9,122.8L411.7,124.1L411.2,125.8L410.7,127.4L410.1,128.9L409.7,130.0A3.4,3.4 0 0 0 416.3,132.0ZM409.6,131.0a3.4,3.4 0 1,0 6.8,0a3.4,3.4 0 1,0 -6.8,0ZM411.9,123.0a3.1,3.1 0 1,0 6.2,0a3.1,3.1 0 1,0 -6.2,0ZM411.2,115.0a2.8,2.8 0 1,0 5.5,0a2.8,2.8 0 1,0 -5.5,0ZM408.5,109.0a2.5,2.5 0 1,0 5.0,0a2.5,2.5 0 1,0 -5.0,0ZM406.9,99.0a2.1,2.1 0 1,0 4.2,0a2.1,2.1 0 1,0 -4.2,0Z"/><path d="M417.5,113.6L417.8,112.2L418.3,110.1L418.8,107.9L419.4,105.8L420.1,104.2L420.8,103.3L421.9,102.4L423.3,101.4L424.9,99.9L426.1,97.7L426.6,95.1L426.6,92.4L426.4,89.7L426.1,87.4L426.0,85.9A2.0,2.0 0 0 0 422.0,86.1L422.0,86.1L422.1,87.7L422.2,90.0L422.3,92.5L422.2,94.7L421.9,96.3L421.4,97.0L420.5,97.8L419.1,98.7L417.4,99.9L415.9,101.8L414.9,104.1L414.1,106.5L413.4,108.9L412.9,111.0L412.5,112.4A2.6,2.6 0 0 0 417.5,113.6ZM412.4,113.0a2.6,2.6 0 1,0 5.2,0a2.6,2.6 0 1,0 -5.2,0ZM415.6,103.0a2.4,2.4 0 1,0 4.8,0a2.4,2.4 0 1,0 -4.8,0ZM421.8,97.0a2.2,2.2 0 1,0 4.4,0a2.2,2.2 0 1,0 -4.4,0ZM422.0,86.0a2.0,2.0 0 1,0 4.0,0a2.0,2.0 0 1,0 -4.0,0Z"/><path d="M420.1,135.6L421.2,134.6L422.8,133.3L424.7,131.7L426.6,129.9L428.3,128.0L429.7,126.1L430.9,124.1L432.1,122.1L433.0,119.9L433.7,117.7L434.0,115.3L434.0,112.9L433.8,110.8L433.6,108.8L433.5,107.0L433.5,105.2L433.6,103.3L433.6,101.6L433.8,100.1L434.1,98.9L434.7,97.8L435.6,96.6L436.7,95.4L437.8,94.3L438.5,93.5A2.1,2.1 0 0 0 435.5,90.5L435.5,90.5L434.7,91.3L433.6,92.3L432.3,93.6L431.0,95.3L429.9,97.1L429.2,99.1L428.9,101.1L428.7,103.1L428.6,105.0L428.5,107.0L428.4,109.1L428.6,111.2L428.6,113.1L428.6,114.8L428.3,116.3L427.7,117.9L426.9,119.4L426.0,121.0L424.9,122.6L423.7,124.0L422.3,125.4L420.6,126.9L418.8,128.3L417.1,129.5L415.9,130.4A3.3,3.3 0 0 0 420.1,135.6ZM414.7,133.0a3.3,3.3 0 1,0 6.6,0a3.3,3.3 0 1,0 -6.6,0ZM423.0,126.0a3.0,3.0 0 1,0 6.1,0a3.0,3.0 0 1,0 -6.1,0ZM428.2,117.0a2.8,2.8 0 1,0 5.5,0a2.8,2.8 0 1,0 -5.5,0ZM428.5,107.0a2.5,2.5 0 1,0 5.0,0a2.5,2.5 0 1,0 -5.0,0ZM429.7,98.0a2.3,2.3 0 1,0 4.6,0a2.3,2.3 0 1,0 -4.6,0ZM434.9,92.0a2.1,2.1 0 1,0 4.2,0a2.1,2.1 0 1,0 -4.2,0Z"/><path d="M433.5,119.8L434.2,119.3L435.0,118.5L436.0,117.7L437.1,116.7L438.3,115.8L439.7,114.8L441.5,113.7L443.3,112.5L444.9,111.4L446.0,110.7A2.0,2.0 0 0 0 444.0,107.3L444.0,107.3L442.8,107.9L441.1,108.9L439.2,110.0L437.4,111.1L435.7,112.2L434.4,113.1L433.1,114.1L432.0,114.9L431.1,115.7L430.5,116.2A2.4,2.4 0 0 0 433.5,119.8ZM429.6,118.0a2.4,2.4 0 1,0 4.8,0a2.4,2.4 0 1,0 -4.8,0ZM434.8,114.0a2.2,2.2 0 1,0 4.5,0a2.2,2.2 0 1,0 -4.5,0ZM443.0,109.0a2.0,2.0 0 1,0 4.0,0a2.0,2.0 0 1,0 -4.0,0Z"/><path d="M417.4,141.6L418.2,141.4L419.2,141.2L420.4,141.0L421.8,140.7L423.4,140.5L425.2,140.1L427.4,139.8L429.7,139.4L432.0,139.1L434.3,138.8L436.5,138.4L438.6,138.1L440.7,137.8L442.8,137.6L444.9,137.6L447.1,137.7L449.4,138.1L451.7,138.5L454.1,139.1L456.4,139.8L458.9,140.6L461.7,141.7L464.4,142.8L466.7,143.8L468.4,144.5A1.6,1.6 0 0 0 469.6,141.5L469.6,141.5L468.0,140.8L465.8,139.7L463.1,138.5L460.2,137.2L457.6,136.2L455.1,135.5L452.6,134.8L450.1,134.2L447.6,133.7L445.1,133.4L442.7,133.4L440.3,133.5L438.1,133.7L435.9,134.0L433.7,134.2L431.4,134.5L429.0,134.7L426.7,135.0L424.5,135.3L422.6,135.5L421.0,135.8L419.5,136.0L418.3,136.2L417.3,136.3L416.6,136.4A2.6,2.6 0 0 0 417.4,141.6ZM414.4,139.0a2.6,2.6 0 1,0 5.2,0a2.6,2.6 0 1,0 -5.2,0ZM420.5,138.0a2.5,2.5 0 1,0 5.0,0a2.5,2.5 0 1,0 -5.0,0ZM431.7,136.5a2.3,2.3 0 1,0 4.6,0a2.3,2.3 0 1,0 -4.6,0ZM442.9,135.5a2.1,2.1 0 1,0 4.1,0a2.1,2.1 0 1,0 -4.1,0ZM455.2,138.0a1.8,1.8 0 1,0 3.7,0a1.8,1.8 0 1,0 -3.7,0ZM467.4,143.0a1.6,1.6 0 1,0 3.2,0a1.6,1.6 0 1,0 -3.2,0Z"/><path d="M440.9,137.6L441.4,137.3L442.0,136.9L442.8,136.4L443.6,136.0L444.6,135.6L445.8,135.1L447.4,134.7L449.0,134.2L450.4,133.8L451.4,133.4A1.5,1.5 0 0 0 450.6,130.6L450.6,130.6L449.6,130.8L448.1,131.1L446.5,131.6L444.8,132.0L443.4,132.4L442.2,132.9L441.2,133.4L440.3,133.8L439.6,134.2L439.1,134.4A1.8,1.8 0 0 0 440.9,137.6ZM438.2,136.0a1.8,1.8 0 1,0 3.6,0a1.8,1.8 0 1,0 -3.6,0ZM442.3,134.0a1.7,1.7 0 1,0 3.4,0a1.7,1.7 0 1,0 -3.4,0ZM449.5,132.0a1.5,1.5 0 1,0 3.0,0a1.5,1.5 0 1,0 -3.0,0Z"/><path d="M414.3,144.0L415.3,144.8L416.8,146.1L418.6,147.6L420.8,149.1L423.2,150.3L425.7,150.8L428.2,151.0L430.7,151.0L433.2,151.0L435.8,151.2L438.6,151.4L441.6,151.7L444.7,152.0L447.8,152.4L450.7,152.8L453.6,153.4L456.6,154.0L459.4,154.6L461.9,155.2L463.6,155.6A1.6,1.6 0 0 0 464.4,152.4L464.4,152.4L462.7,152.0L460.2,151.3L457.4,150.6L454.3,149.8L451.3,149.2L448.4,148.6L445.3,148.1L442.1,147.7L439.1,147.2L436.2,146.8L433.4,146.6L430.8,146.5L428.5,146.4L426.5,146.2L424.8,145.7L423.3,144.9L421.7,143.7L420.1,142.3L418.7,141.0L417.7,140.0A2.6,2.6 0 0 0 414.3,144.0ZM413.4,142.0a2.6,2.6 0 1,0 5.2,0a2.6,2.6 0 1,0 -5.2,0ZM421.6,148.0a2.4,2.4 0 1,0 4.8,0a2.4,2.4 0 1,0 -4.8,0ZM433.8,149.0a2.2,2.2 0 1,0 4.3,0a2.2,2.2 0 1,0 -4.3,0ZM449.1,151.0a1.9,1.9 0 1,0 3.7,0a1.9,1.9 0 1,0 -3.7,0ZM462.4,154.0a1.6,1.6 0 1,0 3.2,0a1.6,1.6 0 1,0 -3.2,0Z"/><path d="M424.1,152.7L425.1,153.2L426.6,154.1L428.4,155.0L430.4,156.0L432.5,156.7L434.8,157.1L437.2,157.4L439.5,157.5L441.5,157.5L442.9,157.6A1.6,1.6 0 0 0 443.1,154.4L443.1,154.4L441.7,154.3L439.7,154.2L437.5,154.0L435.3,153.7L433.5,153.3L431.8,152.7L430.1,151.8L428.4,150.9L427.0,150.0L425.9,149.3A1.9,1.9 0 0 0 424.1,152.7ZM423.1,151.0a1.9,1.9 0 1,0 3.8,0a1.9,1.9 0 1,0 -3.8,0ZM431.2,155.0a1.8,1.8 0 1,0 3.5,0a1.8,1.8 0 1,0 -3.5,0ZM441.4,156.0a1.6,1.6 0 1,0 3.2,0a1.6,1.6 0 1,0 -3.2,0Z"/><path d="M279.7,161.0L278.8,161.1L277.5,161.2L275.8,161.3L273.9,161.5L271.8,161.6L269.2,161.8L266.2,162.0L262.9,162.2L259.6,162.5L256.5,162.8L253.7,163.3L251.0,163.9L248.6,164.5L246.5,165.1L244.4,165.5L242.4,165.8L240.3,166.1L238.4,166.3L236.7,166.4L235.3,166.4L234.2,166.3L233.3,166.1L232.5,165.8L231.6,165.4L230.7,165.0L230.0,164.6L229.2,164.0L228.2,163.1L227.0,162.2L225.5,161.3L224.0,160.7L222.6,160.3L221.2,159.9L219.7,159.7L218.2,159.6L216.7,159.6L215.2,159.6L213.5,159.8L211.8,160.1L210.1,160.7L208.4,161.4L206.6,162.3L204.9,163.4L203.2,164.6L201.6,166.0L200.1,167.8L198.6,169.8L197.3,171.8L196.3,173.5L195.6,174.7A2.3,2.3 0 0 0 199.4,177.3L199.4,177.3L200.2,176.1L201.4,174.5L202.7,172.7L204.0,171.0L205.2,169.8L206.4,168.8L207.8,167.9L209.2,167.2L210.6,166.6L211.9,166.1L213.1,165.8L214.2,165.7L215.4,165.6L216.6,165.7L217.8,165.8L218.9,165.9L219.9,166.1L220.8,166.4L221.7,166.7L222.5,167.1L223.1,167.5L223.8,168.2L224.8,169.0L225.9,170.1L227.3,171.0L228.5,171.7L229.8,172.3L231.2,172.9L232.8,173.3L234.7,173.6L236.7,173.8L238.8,173.8L241.0,173.7L243.2,173.5L245.6,173.3L248.0,173.0L250.4,172.5L252.8,172.1L255.1,171.7L257.5,171.4L260.2,171.2L263.3,171.2L266.5,171.2L269.6,171.2L272.2,171.2L274.4,171.1L276.3,171.0L278.0,171.0L279.3,171.0L280.3,171.0A5.0,5.0 0 0 0 279.7,161.0ZM275.0,166.0a5.0,5.0 0 1,0 10.0,0a5.0,5.0 0 1,0 -10.0,0ZM267.2,166.4a4.8,4.8 0 1,0 9.5,0a4.8,4.8 0 1,0 -9.5,0ZM252.7,167.1a4.3,4.3 0 1,0 8.6,0a4.3,4.3 0 1,0 -8.6,0ZM241.1,169.4a3.9,3.9 0 1,0 7.9,0a3.9,3.9 0 1,0 -7.9,0ZM231.4,170.0a3.6,3.6 0 1,0 7.3,0a3.6,3.6 0 1,0 -7.3,0ZM225.5,168.0a3.5,3.5 0 1,0 6.9,0a3.5,3.5 0 1,0 -6.9,0ZM220.7,164.2a3.3,3.3 0 1,0 6.5,0a3.3,3.3 0 1,0 -6.5,0ZM214.9,162.7a3.1,3.1 0 1,0 6.2,0a3.1,3.1 0 1,0 -6.2,0ZM208.1,163.4a2.9,2.9 0 1,0 5.7,0a2.9,2.9 0 1,0 -5.7,0ZM200.8,167.9a2.6,2.6 0 1,0 5.2,0a2.6,2.6 0 1,0 -5.2,0ZM195.2,176.0a2.3,2.3 0 1,0 4.6,0a2.3,2.3 0 1,0 -4.6,0Z"/><path d="M280.0,175.4L278.6,176.1L276.8,177.0L274.6,178.1L272.4,179.1L270.4,180.0L268.5,180.7L266.6,181.4L264.6,182.1L262.7,182.6L260.8,183.1L258.7,183.5L256.5,183.8L254.2,184.0L251.9,184.1L249.8,184.2L247.8,184.1L245.9,183.8L243.8,183.5L241.6,183.2L239.3,183.0L237.2,182.9L235.0,182.9L232.9,182.9L230.7,183.1L228.5,183.4L226.3,184.0L224.2,184.7L222.3,185.5L220.6,186.2L219.1,186.8L217.7,187.3L216.4,187.8L215.5,188.2L214.8,188.4L214.4,188.4L214.0,188.3L213.4,188.0L212.6,187.4L211.8,186.8L211.0,186.2L210.4,185.7L209.9,185.2L209.5,184.8L209.1,184.3L208.7,184.0A2.3,2.3 0 0 0 205.3,187.0L205.3,187.0L205.5,187.3L205.9,187.8L206.4,188.5L207.1,189.2L207.8,189.8L208.6,190.5L209.4,191.3L210.5,192.2L211.9,193.0L213.6,193.6L215.3,193.6L216.8,193.4L218.2,193.0L219.5,192.6L220.9,192.2L222.6,191.7L224.4,191.0L226.2,190.4L227.9,189.9L229.5,189.6L231.2,189.5L232.9,189.5L234.8,189.6L236.7,189.8L238.7,190.0L240.6,190.3L242.5,190.7L244.6,191.1L246.9,191.6L249.4,191.8L251.9,192.0L254.5,192.0L257.1,191.9L259.7,191.8L262.2,191.5L264.6,191.1L267.0,190.6L269.3,190.0L271.4,189.3L273.6,188.6L276.0,187.8L278.4,186.8L280.7,185.9L282.7,185.1L284.0,184.6A5.0,5.0 0 0 0 280.0,175.4ZM277.0,180.0a5.0,5.0 0 1,0 10.0,0a5.0,5.0 0 1,0 -10.0,0ZM267.4,184.3a4.6,4.6 0 1,0 9.3,0a4.6,4.6 0 1,0 -9.3,0ZM257.2,187.3a4.3,4.3 0 1,0 8.5,0a4.3,4.3 0 1,0 -8.5,0ZM245.8,188.0a3.8,3.8 0 1,0 7.7,0a3.8,3.8 0 1,0 -7.7,0ZM235.5,186.5a3.5,3.5 0 1,0 7.0,0a3.5,3.5 0 1,0 -7.0,0ZM225.9,186.5a3.1,3.1 0 1,0 6.3,0a3.1,3.1 0 1,0 -6.3,0ZM217.2,189.5a2.8,2.8 0 1,0 5.6,0a2.8,2.8 0 1,0 -5.6,0ZM211.4,191.0a2.6,2.6 0 1,0 5.2,0a2.6,2.6 0 1,0 -5.2,0ZM207.0,188.0a2.4,2.4 0 1,0 4.8,0a2.4,2.4 0 1,0 -4.8,0ZM204.7,185.5a2.3,2.3 0 1,0 4.6,0a2.3,2.3 0 1,0 -4.6,0Z"/><path d="M250.9,186.5L249.6,187.0L247.6,187.8L245.3,188.7L242.9,189.7L240.8,190.6L239.0,191.7L237.4,192.7L235.9,193.7L234.6,194.7L233.3,195.6L232.1,196.4L230.8,197.3L229.7,198.1L228.6,198.8L227.7,199.4L226.8,199.8L225.9,200.2L225.0,200.5L224.2,200.8L223.7,201.0A2.1,2.1 0 0 0 224.9,205.0L224.9,205.0L225.5,204.9L226.3,204.6L227.3,204.3L228.5,203.9L229.7,203.4L230.9,202.8L232.2,202.1L233.4,201.4L234.7,200.6L236.1,199.8L237.5,199.0L238.9,198.1L240.3,197.3L241.7,196.5L243.2,195.8L245.1,195.0L247.3,194.3L249.6,193.6L251.6,192.9L253.1,192.5A3.2,3.2 0 0 0 250.9,186.5ZM248.8,189.5a3.2,3.2 0 1,0 6.4,0a3.2,3.2 0 1,0 -6.4,0ZM239.2,193.2a2.8,2.8 0 1,0 5.6,0a2.8,2.8 0 1,0 -5.6,0ZM232.2,197.7a2.5,2.5 0 1,0 5.0,0a2.5,2.5 0 1,0 -5.0,0ZM226.4,201.4a2.3,2.3 0 1,0 4.5,0a2.3,2.3 0 1,0 -4.5,0ZM222.2,203.0a2.1,2.1 0 1,0 4.2,0a2.1,2.1 0 1,0 -4.2,0Z"/><path d="M324.1,210.0L322.7,210.0L320.6,210.1L318.1,210.1L315.4,210.2L312.7,210.3L309.9,210.7L307.2,211.2L304.4,211.7L301.9,212.1L299.6,212.4L297.7,212.6L295.8,212.7L293.9,212.8L291.8,212.8L289.7,213.0L287.4,213.4L285.1,213.8L282.9,214.2L280.8,214.6L278.8,215.0L276.9,215.4L275.1,215.7L273.4,216.1L271.8,216.4L270.3,216.6L268.7,216.7L267.1,216.7L265.2,216.6L263.2,216.7L261.0,216.9L258.9,217.5L256.9,218.2L255.1,219.0L253.4,219.7L251.7,220.3L250.0,220.9L248.3,221.5L246.6,222.0L245.0,222.5L243.4,222.8L241.8,222.9L239.9,222.9L238.0,222.8L236.4,222.7L235.2,222.7A2.3,2.3 0 0 0 234.8,227.3L234.8,227.3L236.0,227.4L237.7,227.6L239.7,227.8L241.8,227.9L244.0,227.8L246.0,227.6L247.9,227.2L249.8,226.7L251.6,226.2L253.5,225.7L255.4,225.1L257.2,224.5L259.0,223.8L260.6,223.4L262.0,223.1L263.4,223.0L265.0,223.1L266.7,223.2L268.7,223.4L270.7,223.4L272.7,223.2L274.6,223.0L276.4,222.7L278.1,222.5L280.0,222.2L282.0,221.9L284.2,221.6L286.3,221.4L288.4,221.1L290.3,221.0L292.1,220.9L293.9,221.0L295.8,221.0L298.0,221.0L300.4,221.0L303.0,220.7L305.7,220.4L308.4,220.1L311.0,219.8L313.3,219.7L315.6,219.6L318.0,219.7L320.4,219.8L322.4,219.9L323.9,220.0A5.0,5.0 0 0 0 324.1,210.0ZM319.0,215.0a5.0,5.0 0 1,0 10.0,0a5.0,5.0 0 1,0 -10.0,0ZM308.3,215.0a4.7,4.7 0 1,0 9.3,0a4.7,4.7 0 1,0 -9.3,0ZM295.7,216.7a4.3,4.3 0 1,0 8.6,0a4.3,4.3 0 1,0 -8.6,0ZM286.0,217.0a4.0,4.0 0 1,0 8.0,0a4.0,4.0 0 1,0 -8.0,0ZM275.7,218.6a3.7,3.7 0 1,0 7.3,0a3.7,3.7 0 1,0 -7.3,0ZM267.1,220.0a3.4,3.4 0 1,0 6.8,0a3.4,3.4 0 1,0 -6.8,0ZM258.4,220.0a3.1,3.1 0 1,0 6.2,0a3.1,3.1 0 1,0 -6.2,0ZM249.8,223.0a2.8,2.8 0 1,0 5.7,0a2.8,2.8 0 1,0 -5.7,0ZM241.1,225.3a2.6,2.6 0 1,0 5.1,0a2.6,2.6 0 1,0 -5.1,0ZM232.7,225.0a2.3,2.3 0 1,0 4.6,0a2.3,2.3 0 1,0 -4.6,0Z"/><path d="M274.0,219.2L272.5,219.8L270.4,220.6L267.9,221.6L265.5,222.7L263.3,223.7L261.6,224.8L260.2,226.0L259.0,227.1L258.0,228.0L257.2,228.7L256.4,229.3L255.8,229.9L255.2,230.3L254.7,230.7L254.4,231.0A2.1,2.1 0 0 0 256.8,234.4L256.8,234.4L257.2,234.2L257.7,233.8L258.3,233.4L259.1,232.9L260.0,232.3L261.0,231.5L262.1,230.6L263.2,229.8L264.4,229.0L265.7,228.3L267.5,227.5L269.8,226.7L272.3,225.9L274.5,225.3L276.0,224.8A3.0,3.0 0 0 0 274.0,219.2ZM272.0,222.0a3.0,3.0 0 1,0 6.0,0a3.0,3.0 0 1,0 -6.0,0ZM262.0,226.0a2.5,2.5 0 1,0 5.1,0a2.5,2.5 0 1,0 -5.1,0ZM256.4,230.5a2.2,2.2 0 1,0 4.5,0a2.2,2.2 0 1,0 -4.5,0ZM253.5,232.7a2.1,2.1 0 1,0 4.2,0a2.1,2.1 0 1,0 -4.2,0Z"/><path d="M315.5,214.1L314.5,215.1L313.1,216.3L311.6,217.7L309.9,219.1L308.2,220.3L306.2,221.4L304.0,222.6L301.7,223.7L299.5,224.6L297.8,225.2L296.7,225.3L295.6,225.1L294.2,224.7L292.3,224.2L290.0,224.0L287.6,224.3L285.3,224.8L283.0,225.3L280.8,225.9L278.8,226.4L276.8,227.0L274.9,227.6L273.2,228.2L271.8,228.6L270.5,228.8L269.2,228.7L267.7,228.3L266.2,227.8L264.8,227.3L263.8,226.9A2.2,2.2 0 0 0 262.2,231.1L262.2,231.1L263.2,231.5L264.6,232.1L266.3,232.8L268.3,233.3L270.5,233.6L272.6,233.5L274.5,233.0L276.4,232.5L278.2,232.0L280.0,231.6L282.1,231.2L284.2,230.7L286.4,230.3L288.4,230.1L290.0,230.0L291.2,230.1L292.4,230.5L294.1,231.1L296.3,231.5L298.8,231.4L301.5,230.8L304.2,229.9L306.9,228.8L309.4,227.5L311.8,226.3L314.0,224.9L316.1,223.4L318.0,221.9L319.4,220.7L320.5,219.9A3.8,3.8 0 0 0 315.5,214.1ZM314.2,217.0a3.8,3.8 0 1,0 7.6,0a3.8,3.8 0 1,0 -7.6,0ZM306.5,223.3a3.5,3.5 0 1,0 7.0,0a3.5,3.5 0 1,0 -7.0,0ZM295.1,228.3a3.2,3.2 0 1,0 6.4,0a3.2,3.2 0 1,0 -6.4,0ZM287.0,227.0a3.0,3.0 0 1,0 5.9,0a3.0,3.0 0 1,0 -5.9,0ZM276.7,229.0a2.7,2.7 0 1,0 5.3,0a2.7,2.7 0 1,0 -5.3,0ZM268.1,231.2a2.4,2.4 0 1,0 4.8,0a2.4,2.4 0 1,0 -4.8,0ZM260.8,229.0a2.2,2.2 0 1,0 4.4,0a2.2,2.2 0 1,0 -4.4,0Z"/><path d="M380.5,211.7L380.6,213.6L380.7,216.3L380.8,219.5L380.8,222.7L380.9,225.8L381.0,228.6L381.1,231.5L381.1,234.3L381.2,237.1L381.3,239.7L381.2,242.3L381.2,245.1L381.1,247.7L381.0,249.9L381.0,251.6A5.0,5.0 0 0 0 391.0,252.4L391.0,252.4L391.3,250.9L391.6,248.6L392.0,246.0L392.4,243.1L392.7,240.3L393.1,237.6L393.3,234.8L393.6,231.9L393.9,229.0L394.1,226.2L394.4,223.2L394.7,220.0L395.0,216.8L395.3,214.2L395.5,212.3A7.5,7.5 0 0 0 380.5,211.7ZM380.5,212.0a7.5,7.5 0 1,0 15.0,0a7.5,7.5 0 1,0 -15.0,0ZM380.9,226.0a6.6,6.6 0 1,0 13.3,0a6.6,6.6 0 1,0 -13.3,0ZM381.2,240.0a5.8,5.8 0 1,0 11.5,0a5.8,5.8 0 1,0 -11.5,0ZM381.0,252.0a5.0,5.0 0 1,0 10.0,0a5.0,5.0 0 1,0 -10.0,0Z"/><path d="M382.1,251.8L382.1,252.8L382.1,254.1L382.1,255.5L381.9,257.0L381.4,258.7L380.5,261.0L379.1,263.8L377.5,267.0L375.9,270.2L374.5,273.2L373.4,276.0L372.3,278.7L371.4,281.3L370.6,283.8L369.9,286.2L369.4,288.5L369.1,290.7L368.9,292.7L368.9,294.3L368.8,295.4A2.3,2.3 0 0 0 373.4,295.8L373.4,295.8L373.6,294.7L373.8,293.2L374.0,291.4L374.4,289.5L374.9,287.6L375.7,285.6L376.6,283.3L377.6,280.9L378.8,278.4L380.1,275.8L381.5,273.1L383.3,270.1L385.1,267.0L386.8,264.1L388.2,261.3L389.0,258.7L389.5,256.4L389.7,254.5L389.8,253.1L389.9,252.2A3.9,3.9 0 0 0 382.1,251.8ZM382.1,252.0a3.9,3.9 0 1,0 7.8,0a3.9,3.9 0 1,0 -7.8,0ZM381.2,260.0a3.6,3.6 0 1,0 7.2,0a3.6,3.6 0 1,0 -7.2,0ZM374.2,274.5a3.1,3.1 0 1,0 6.1,0a3.1,3.1 0 1,0 -6.1,0ZM369.8,286.9a2.6,2.6 0 1,0 5.2,0a2.6,2.6 0 1,0 -5.2,0ZM368.8,295.6a2.3,2.3 0 1,0 4.6,0a2.3,2.3 0 1,0 -4.6,0Z"/><path d="M382.4,255.0L382.3,255.8L381.8,257.2L381.3,259.3L381.2,262.2L381.6,265.6L382.8,270.0L384.5,275.2L386.4,280.7L388.2,285.9L389.6,290.2L390.5,293.4L391.2,295.9L391.7,298.0L392.0,300.0L392.2,302.0L392.2,304.3L392.1,306.7L391.8,309.1L391.5,311.2L391.3,312.7A2.2,2.2 0 0 0 395.7,313.3L395.7,313.3L396.0,311.9L396.4,309.8L396.8,307.3L397.1,304.5L397.2,301.8L397.1,299.4L396.8,297.1L396.4,294.7L395.8,292.0L395.0,288.6L393.8,284.2L392.3,278.8L390.6,273.3L389.2,268.2L388.4,264.4L388.2,262.0L388.4,260.4L388.7,259.3L389.2,258.1L389.6,257.0A3.7,3.7 0 0 0 382.4,255.0ZM382.3,256.0a3.7,3.7 0 1,0 7.4,0a3.7,3.7 0 1,0 -7.4,0ZM381.5,265.0a3.5,3.5 0 1,0 6.9,0a3.5,3.5 0 1,0 -6.9,0ZM389.5,289.4a2.8,2.8 0 1,0 5.6,0a2.8,2.8 0 1,0 -5.6,0ZM392.2,301.9a2.5,2.5 0 1,0 5.0,0a2.5,2.5 0 1,0 -5.0,0ZM391.3,313.0a2.2,2.2 0 1,0 4.4,0a2.2,2.2 0 1,0 -4.4,0Z"/><path d="M392.0,301.4L393.3,301.9L395.1,302.6L397.1,303.3L399.0,304.2L400.8,305.1L402.3,306.1L403.8,307.0L405.2,308.0L406.5,309.2L407.9,310.7L409.4,312.8L411.1,315.5L412.8,318.4L414.2,321.0L415.3,322.7A2.1,2.1 0 0 0 418.9,320.7L418.9,320.7L418.0,318.9L416.6,316.3L415.0,313.3L413.2,310.3L411.5,307.9L409.9,306.0L408.2,304.4L406.6,303.1L404.9,302.0L403.2,300.9L401.2,299.8L399.1,298.7L397.0,297.8L395.2,297.1L394.0,296.6A2.6,2.6 0 0 0 392.0,301.4ZM390.4,299.0a2.6,2.6 0 1,0 5.2,0a2.6,2.6 0 1,0 -5.2,0ZM399.5,303.0a2.5,2.5 0 1,0 4.9,0a2.5,2.5 0 1,0 -4.9,0ZM407.4,309.3a2.3,2.3 0 1,0 4.6,0a2.3,2.3 0 1,0 -4.6,0ZM415.0,321.7a2.1,2.1 0 1,0 4.2,0a2.1,2.1 0 1,0 -4.2,0Z"/><path d="M392.6,304.5L392.9,305.8L393.3,307.7L393.8,309.9L394.3,312.3L394.9,314.5L395.4,316.7L396.1,319.1L396.8,321.4L397.4,323.3L397.8,324.7A2.0,2.0 0 0 0 401.6,323.7L401.6,323.7L401.3,322.3L400.8,320.3L400.2,318.0L399.6,315.7L399.1,313.5L398.7,311.4L398.3,309.1L397.9,306.8L397.6,304.9L397.4,303.5A2.4,2.4 0 0 0 392.6,304.5ZM392.6,304.0a2.4,2.4 0 1,0 4.8,0a2.4,2.4 0 1,0 -4.8,0ZM394.8,314.0a2.2,2.2 0 1,0 4.4,0a2.2,2.2 0 1,0 -4.4,0ZM397.7,324.2a2.0,2.0 0 1,0 4.0,0a2.0,2.0 0 1,0 -4.0,0Z"/><path d="M388.1,264.0L389.2,264.8L390.6,265.9L392.2,267.2L393.7,268.8L395.2,270.7L396.7,273.6L398.5,277.5L400.2,281.5L401.7,285.1L402.8,287.7A2.0,2.0 0 0 0 406.6,286.1L406.6,286.1L405.6,283.6L404.2,279.9L402.6,275.7L400.9,271.6L399.2,268.3L397.5,265.7L395.6,263.7L393.8,262.1L392.4,260.9L391.5,260.0A2.6,2.6 0 0 0 388.1,264.0ZM387.2,262.0a2.6,2.6 0 1,0 5.2,0a2.6,2.6 0 1,0 -5.2,0ZM394.8,269.5a2.4,2.4 0 1,0 4.8,0a2.4,2.4 0 1,0 -4.8,0ZM402.7,286.9a2.0,2.0 0 1,0 4.0,0a2.0,2.0 0 1,0 -4.0,0Z"/><path d="M388.7,239.9L390.0,241.4L391.8,243.5L393.8,245.9L395.8,248.5L397.3,250.9L398.5,253.4L399.6,256.1L400.5,259.0L401.5,262.1L402.5,265.3L403.6,268.8L404.9,272.8L406.1,276.7L407.1,280.1L407.9,282.5A1.9,1.9 0 0 0 411.5,281.5L411.5,281.5L410.9,279.1L410.0,275.6L409.0,271.6L407.9,267.6L406.9,263.9L406.0,260.7L405.2,257.6L404.4,254.5L403.3,251.5L402.1,248.5L400.3,245.5L398.3,242.5L396.3,239.9L394.5,237.7L393.3,236.1A3.0,3.0 0 0 0 388.7,239.9ZM388.0,238.0a3.0,3.0 0 1,0 6.0,0a3.0,3.0 0 1,0 -6.0,0ZM397.0,249.7a2.7,2.7 0 1,0 5.3,0a2.7,2.7 0 1,0 -5.3,0ZM402.4,264.6a2.3,2.3 0 1,0 4.6,0a2.3,2.3 0 1,0 -4.6,0ZM407.8,282.0a1.9,1.9 0 1,0 3.8,0a1.9,1.9 0 1,0 -3.8,0Z"/><path d="M393.5,236.6L394.3,237.0L395.3,237.5L396.6,238.2L398.1,238.9L399.8,239.7L401.8,240.6L404.1,241.4L406.5,242.3L408.7,243.3L410.8,244.3L412.8,245.6L414.9,247.0L416.9,248.5L418.9,250.1L420.8,251.4L422.7,252.7L424.5,253.8L426.1,254.8L427.5,255.6L428.5,256.2A1.9,1.9 0 0 0 430.5,253.0L430.5,253.0L429.6,252.3L428.3,251.4L426.7,250.4L425.0,249.2L423.4,248.0L421.6,246.6L419.8,245.0L417.7,243.3L415.6,241.6L413.4,240.1L411.0,238.7L408.5,237.5L406.1,236.5L404.0,235.5L402.2,234.7L400.7,233.9L399.3,233.1L398.1,232.4L397.2,231.8L396.5,231.4A3.0,3.0 0 0 0 393.5,236.6ZM392.0,234.0a3.0,3.0 0 1,0 6.0,0a3.0,3.0 0 1,0 -6.0,0ZM398.2,237.2a2.8,2.8 0 1,0 5.6,0a2.8,2.8 0 1,0 -5.6,0ZM409.6,242.2a2.5,2.5 0 1,0 5.0,0a2.5,2.5 0 1,0 -5.0,0ZM420.0,249.7a2.1,2.1 0 1,0 4.3,0a2.1,2.1 0 1,0 -4.3,0ZM427.6,254.6a1.9,1.9 0 1,0 3.8,0a1.9,1.9 0 1,0 -3.8,0Z"/><path d="M398.0,248.0L398.6,248.6L399.4,249.4L400.5,250.4L401.7,251.6L403.1,252.9L404.6,254.4L406.4,256.2L408.4,258.1L410.8,260.1L413.4,261.7L416.3,263.1L419.3,264.2L422.5,265.1L425.7,265.9L429.0,266.7L432.6,267.6L436.7,268.4L440.7,269.1L444.1,269.7L446.5,270.2A1.9,1.9 0 0 0 447.3,266.4L447.3,266.4L444.9,265.9L441.5,265.2L437.5,264.3L433.6,263.4L430.0,262.5L426.9,261.6L423.8,260.7L420.8,259.7L418.1,258.6L415.8,257.5L413.8,256.1L411.9,254.4L410.1,252.5L408.4,250.7L406.9,249.1L405.5,247.8L404.4,246.6L403.4,245.6L402.6,244.7L402.0,244.0A2.8,2.8 0 0 0 398.0,248.0ZM397.2,246.0a2.8,2.8 0 1,0 5.6,0a2.8,2.8 0 1,0 -5.6,0ZM402.3,251.0a2.7,2.7 0 1,0 5.4,0a2.7,2.7 0 1,0 -5.4,0ZM412.1,259.6a2.5,2.5 0 1,0 4.9,0a2.5,2.5 0 1,0 -4.9,0ZM427.3,264.6a2.2,2.2 0 1,0 4.4,0a2.2,2.2 0 1,0 -4.4,0ZM445.0,268.3a1.9,1.9 0 1,0 3.8,0a1.9,1.9 0 1,0 -3.8,0Z"/><path d="M423.6,264.8L424.4,265.4L425.6,266.3L426.9,267.3L428.3,268.4L429.5,269.5L430.8,270.7L432.2,272.2L433.6,273.6L434.7,274.9L435.6,275.8A1.9,1.9 0 0 0 438.4,273.2L438.4,273.2L437.6,272.3L436.5,271.0L435.2,269.4L433.8,267.9L432.5,266.5L431.1,265.2L429.7,264.0L428.4,262.8L427.2,261.9L426.4,261.2A2.3,2.3 0 0 0 423.6,264.8ZM422.7,263.0a2.3,2.3 0 1,0 4.6,0a2.3,2.3 0 1,0 -4.6,0ZM428.9,268.0a2.1,2.1 0 1,0 4.2,0a2.1,2.1 0 1,0 -4.2,0ZM435.1,274.5a1.9,1.9 0 1,0 3.8,0a1.9,1.9 0 1,0 -3.8,0Z"/><path d="M395.9,246.5L397.2,247.6L399.0,249.1L401.1,250.8L403.1,252.6L404.7,254.2L406.0,255.5L407.0,256.8L408.0,258.1L409.1,259.7L410.4,261.7L412.0,264.1L413.8,267.1L415.7,270.2L417.8,273.4L419.8,276.2L421.9,278.6L423.9,280.7L425.9,282.6L428.0,284.4L430.1,286.4L432.6,288.8L435.3,291.2L437.9,293.7L440.4,296.1L442.6,298.5L444.3,300.8L445.9,302.9L447.3,305.1L448.5,307.5L449.7,310.2L451.0,313.3L452.2,316.8L453.2,320.4L454.1,323.9L454.8,327.0L455.1,329.8L455.2,332.6L455.1,335.2L455.0,337.4L454.9,339.0A2.0,2.0 0 0 0 458.9,339.2L458.9,339.2L459.0,337.6L459.2,335.4L459.3,332.6L459.3,329.6L459.0,326.4L458.4,323.0L457.5,319.3L456.5,315.5L455.3,311.8L454.1,308.4L452.8,305.5L451.5,302.8L450.0,300.3L448.3,297.8L446.4,295.3L444.1,292.6L441.5,290.0L438.9,287.4L436.2,284.9L433.9,282.6L431.7,280.4L429.7,278.5L427.8,276.7L426.1,274.9L424.4,272.8L422.6,270.2L420.8,267.2L418.9,264.0L417.2,261.0L415.6,258.3L414.2,256.3L413.1,254.5L411.9,253.0L410.7,251.5L409.3,249.8L407.4,247.9L405.3,246.0L403.2,244.2L401.4,242.6L400.1,241.5A3.3,3.3 0 0 0 395.9,246.5ZM394.7,244.0a3.3,3.3 0 1,0 6.6,0a3.3,3.3 0 1,0 -6.6,0ZM403.8,252.0a3.2,3.2 0 1,0 6.3,0a3.2,3.2 0 1,0 -6.3,0ZM409.9,260.0a3.1,3.1 0 1,0 6.1,0a3.1,3.1 0 1,0 -6.1,0ZM419.2,274.5a2.9,2.9 0 1,0 5.7,0a2.9,2.9 0 1,0 -5.7,0ZM429.3,284.5a2.7,2.7 0 1,0 5.4,0a2.7,2.7 0 1,0 -5.4,0ZM442.0,296.9a2.5,2.5 0 1,0 5.0,0a2.5,2.5 0 1,0 -5.0,0ZM449.6,309.3a2.3,2.3 0 1,0 4.7,0a2.3,2.3 0 1,0 -4.7,0ZM454.8,326.7a2.1,2.1 0 1,0 4.3,0a2.1,2.1 0 1,0 -4.3,0ZM454.9,339.1a2.0,2.0 0 1,0 4.0,0a2.0,2.0 0 1,0 -4.0,0Z"/><path d="M450.1,309.3L451.1,309.7L452.4,310.2L454.0,310.8L455.5,311.4L456.9,312.1L458.3,312.8L459.6,313.4L460.8,314.1L461.8,314.9L462.5,315.6L463.1,316.6L463.7,318.0L464.2,319.6L464.5,321.1L464.9,322.2A2.0,2.0 0 0 0 468.7,321.2L468.7,321.2L468.5,320.2L468.2,318.6L467.7,316.8L467.0,314.8L466.1,313.0L464.8,311.6L463.4,310.5L461.9,309.5L460.5,308.7L459.1,307.9L457.5,307.1L455.8,306.3L454.2,305.7L452.9,305.1L451.9,304.7A2.5,2.5 0 0 0 450.1,309.3ZM448.5,307.0a2.5,2.5 0 1,0 5.0,0a2.5,2.5 0 1,0 -5.0,0ZM455.7,310.0a2.3,2.3 0 1,0 4.7,0a2.3,2.3 0 1,0 -4.7,0ZM462.1,314.3a2.2,2.2 0 1,0 4.3,0a2.2,2.2 0 1,0 -4.3,0ZM464.8,321.7a2.0,2.0 0 1,0 4.0,0a2.0,2.0 0 1,0 -4.0,0Z"/></g>
<g fill="#F1B93F" filter="url(#ig)"><path d="M301.0,152.0 L301.7,150.0 L302.4,147.7 L303.2,145.2 L303.7,142.6 L304.0,140.0 L304.0,137.3 L303.8,134.4 L303.3,131.4 L302.7,128.6 L302.0,126.0 L300.8,123.7 L299.3,121.5 L297.7,119.5 L296.4,117.7 L296.0,116.0 L296.6,114.4 L297.8,112.9 L299.5,111.6 L301.3,110.6 L303.0,110.0 L304.5,110.0 L306.1,110.5 L307.8,111.2 L309.4,112.0 L311.0,112.5 L312.6,112.9 L314.1,113.2 L315.7,113.5 L317.3,113.6 L319.0,113.5 L320.9,113.2 L323.0,112.8 L325.1,112.2 L327.2,111.5 L329.0,110.5 L330.6,109.3 L332.0,107.8 L333.3,106.1 L334.6,104.5 L336.0,103.0 L337.5,101.6 L339.1,100.2 L340.8,98.8 L342.4,97.7 L344.0,97.0 L345.7,96.7 L347.4,96.7 L349.2,96.9 L350.7,97.4 L352.0,98.0 L352.9,98.8 L353.4,99.9 L353.8,101.1 L354.3,102.5 L355.0,104.0 L356.0,105.6 L357.0,107.4 L358.2,109.3 L359.6,111.2 L361.0,113.0 L362.6,114.7 L364.3,116.4 L366.2,118.0 L368.1,119.5 L370.0,121.0 L371.9,122.4 L373.7,123.7 L375.6,124.9 L377.7,126.0 L380.0,127.0 L382.7,127.8 L385.6,128.5 L388.8,129.1 L391.9,129.6 L395.0,130.0 L398.1,130.3 L401.2,130.4 L404.3,130.5 L407.3,130.6 L410.0,131.0 L412.6,131.6 L415.3,132.2 L417.7,133.0 L419.6,134.0 L421.0,135.0 L421.8,136.2 L422.0,137.7 L421.8,139.2 L421.2,140.7 L420.0,142.0 L418.0,143.1 L415.3,144.0 L412.2,144.8 L409.3,145.8 L407.0,147.0 L405.4,148.6 L404.1,150.4 L403.2,152.3 L402.5,154.2 L402.0,156.0 L401.7,157.7 L401.7,159.3 L402.0,160.9 L402.4,162.5 L403.0,164.0 L403.8,165.5 L404.8,166.9 L406.1,168.3 L407.5,169.7 L409.0,171.0 L410.7,172.3 L412.5,173.5 L414.4,174.6 L416.6,175.8 L419.0,177.0 L421.6,178.2 L424.4,179.4 L427.5,180.6 L430.7,181.8 L434.0,183.0 L437.5,184.1 L441.3,185.3 L445.1,186.4 L449.1,187.5 L453.0,188.5 L456.8,189.5 L460.6,190.4 L464.4,191.3 L468.5,192.2 L473.0,193.0 L478.0,193.8 L483.5,194.5 L489.2,195.3 L494.8,195.9 L500.0,196.5 L504.8,197.0 L509.4,197.4 L513.9,197.8 L518.1,198.2 L522.0,198.5 L525.8,198.6 L529.6,198.5 L533.0,198.5 L535.9,198.8 L538.0,200.0 L539.3,202.4 L539.9,205.7 L539.9,209.3 L539.3,212.6 L538.0,215.0 L535.9,216.2 L533.0,216.8 L529.6,216.8 L525.8,216.7 L522.0,216.5 L518.0,216.2 L513.5,215.7 L508.9,215.1 L504.4,214.5 L500.0,214.0 L496.0,213.7 L492.3,213.5 L488.6,213.3 L484.6,213.2 L480.0,213.0 L474.6,212.8 L468.5,212.6 L462.1,212.3 L455.8,212.1 L450.0,212.0 L444.6,211.9 L439.5,211.8 L434.5,211.8 L429.7,211.9 L425.0,212.0 L420.2,212.2 L415.3,212.4 L410.6,212.7 L406.4,213.2 L403.0,214.0 L400.7,215.1 L399.2,216.6 L398.2,218.2 L397.2,219.8 L396.0,221.0 L394.4,221.9 L392.8,222.7 L391.2,223.4 L389.6,223.8 L388.0,224.0 L386.6,224.0 L385.2,223.9 L383.8,223.5 L382.4,222.9 L381.0,222.0 L379.5,220.6 L378.1,218.8 L376.6,216.8 L374.9,214.8 L373.0,213.0 L370.7,211.4 L368.2,209.8 L365.5,208.3 L362.7,207.0 L360.0,206.0 L357.2,205.4 L354.3,205.0 L351.4,204.9 L348.6,204.9 L346.0,205.0 L343.6,205.1 L341.3,205.4 L339.1,205.8 L337.0,206.3 L335.0,207.0 L333.0,208.2 L331.1,209.8 L329.3,211.4 L327.6,212.6 L326.0,213.0 L324.5,212.3 L323.1,210.9 L321.8,209.0 L320.8,207.0 L320.0,205.0 L319.7,203.1 L319.7,201.0 L319.9,199.0 L320.1,196.9 L320.0,195.0 L319.7,193.2 L319.2,191.6 L318.6,190.0 L317.9,188.4 L317.0,187.0 L315.9,185.6 L314.6,184.4 L313.2,183.2 L311.7,182.0 L310.0,181.0 L308.2,180.0 L306.2,179.1 L304.1,178.2 L302.0,177.5 L300.0,177.0 L298.0,176.7 L296.0,176.5 L293.9,176.5 L291.9,176.7 L290.0,177.0 L288.1,177.6 L286.3,178.6 L284.5,179.6 L282.7,180.5 L281.0,181.0 L279.2,181.1 L277.4,180.9 L275.6,180.4 L274.1,179.8 L273.0,179.0 L272.3,177.9 L272.0,176.5 L271.8,174.9 L271.9,173.4 L272.0,172.0 L272.1,170.9 L272.3,169.8 L272.6,168.9 L273.2,167.9 L274.0,167.0 L275.2,166.0 L276.7,165.0 L278.4,164.1 L280.2,163.2 L282.0,162.5 L283.9,162.0 L286.0,161.8 L288.2,161.6 L290.2,161.3 L292.0,161.0 L293.5,160.5 L294.8,160.1 L296.0,159.5 L297.1,158.8 L298.0,158.0 L298.8,157.1 L299.4,156.1 L299.9,155.0 L300.4,153.6Z"/><path d="M304.5,110.2L303.3,109.2L301.6,107.8L299.8,106.2L298.1,104.6L296.8,103.3L295.8,102.0L294.7,100.3L293.6,98.4L292.6,96.7L291.9,95.5A5.5,5.5 0 0 0 282.1,100.5L282.1,100.5L282.6,101.7L283.4,103.6L284.4,105.8L285.7,108.2L287.2,110.7L289.0,113.0L291.0,115.1L292.9,117.1L294.4,118.7L295.5,119.8A6.6,6.6 0 0 0 304.5,110.2ZM293.4,115.0a6.6,6.6 0 1,0 13.2,0a6.6,6.6 0 1,0 -13.2,0ZM286.0,107.0a6.0,6.0 0 1,0 12.0,0a6.0,6.0 0 1,0 -12.0,0ZM281.5,98.0a5.5,5.5 0 1,0 11.0,0a5.5,5.5 0 1,0 -11.0,0Z"/><path d="M349.1,107.3L349.3,105.1L349.5,102.8L349.7,100.6L349.9,98.3L350.1,96.1A6.2,6.2 0 0 0 337.9,93.9L337.9,93.9L337.3,96.1L336.7,98.2L336.1,100.4L335.5,102.5L334.9,104.7A7.2,7.2 0 0 0 349.1,107.3ZM334.8,106.0a7.2,7.2 0 1,0 14.4,0a7.2,7.2 0 1,0 -14.4,0ZM337.8,95.0a6.2,6.2 0 1,0 12.4,0a6.2,6.2 0 1,0 -12.4,0Z"/><path d="M381.5,211.8L381.6,213.7L381.7,216.4L381.8,219.5L381.8,222.8L381.9,225.8L382.0,228.7L382.1,231.5L382.1,234.4L382.2,237.1L382.3,239.7L382.2,242.4L382.2,245.1L382.1,247.8L382.0,250.0L382.0,251.6A4.0,4.0 0 0 0 390.0,252.4L390.0,252.4L390.3,250.8L390.6,248.5L391.0,245.9L391.4,243.1L391.7,240.3L392.1,237.5L392.3,234.7L392.6,231.9L392.9,229.0L393.1,226.2L393.4,223.2L393.7,219.9L394.0,216.8L394.3,214.1L394.5,212.2A6.5,6.5 0 0 0 381.5,211.8ZM381.5,212.0a6.5,6.5 0 1,0 13.0,0a6.5,6.5 0 1,0 -13.0,0ZM381.9,226.0a5.6,5.6 0 1,0 11.3,0a5.6,5.6 0 1,0 -11.3,0ZM382.2,240.0a4.8,4.8 0 1,0 9.5,0a4.8,4.8 0 1,0 -9.5,0ZM382.0,252.0a4.0,4.0 0 1,0 8.0,0a4.0,4.0 0 1,0 -8.0,0Z"/></g>
<g fill="#F4BF42"><path d="M292.7,98.4L292.1,97.0L291.4,95.0L290.5,92.7L289.8,90.5L289.2,88.8L288.8,87.5L288.5,86.7L288.4,86.0L288.2,85.1L288.0,83.7L287.7,81.7L287.5,79.3L287.3,76.8L287.1,74.3L286.9,71.9L286.7,69.8L286.6,67.7L286.5,65.6L286.4,63.7L286.3,62.0L286.3,60.4L286.2,59.0L286.1,57.8L286.1,56.8L286.0,56.0A3.0,3.0 0 0 0 280.0,56.0L280.0,56.0L279.9,56.8L279.9,57.8L279.8,59.0L279.7,60.4L279.7,62.0L279.6,63.7L279.4,65.6L279.3,67.7L279.2,69.8L279.1,72.1L279.1,74.5L279.0,77.1L279.0,79.7L279.0,82.2L279.0,84.3L279.1,86.0L279.2,87.3L279.3,88.5L279.5,89.7L279.8,91.2L280.3,93.3L280.9,95.7L281.5,98.1L282.0,100.1L282.3,101.6A5.4,5.4 0 0 0 292.7,98.4ZM282.1,100.0a5.4,5.4 0 1,0 10.8,0a5.4,5.4 0 1,0 -10.8,0ZM279.7,90.0a4.8,4.8 0 1,0 9.7,0a4.8,4.8 0 1,0 -9.7,0ZM279.0,84.0a4.5,4.5 0 1,0 9.0,0a4.5,4.5 0 1,0 -9.0,0ZM279.1,72.0a3.9,3.9 0 1,0 7.7,0a3.9,3.9 0 1,0 -7.7,0ZM279.7,62.0a3.3,3.3 0 1,0 6.6,0a3.3,3.3 0 1,0 -6.6,0ZM280.0,56.0a3.0,3.0 0 1,0 6.0,0a3.0,3.0 0 1,0 -6.0,0Z"/><path d="M286.5,96.4L285.2,96.3L283.3,96.1L281.1,95.8L278.7,95.5L276.4,95.2L274.2,95.0L271.9,94.8L269.6,94.6L267.5,94.3L265.7,94.1L264.2,93.7L262.9,93.2L261.5,92.7L259.9,92.0L258.0,91.4L255.8,90.7L253.4,89.9L250.9,89.1L248.3,88.3L245.7,87.6L243.1,87.0L240.6,86.4L238.0,85.9L235.3,85.4L232.3,84.9L229.0,84.6L225.4,84.3L221.8,84.1L218.4,83.8L215.3,83.4L212.5,82.8L209.8,81.9L207.2,81.1L205.0,80.3L203.5,79.8A1.3,1.3 0 0 0 202.5,82.2L202.5,82.2L204.1,82.9L206.2,83.8L208.8,84.8L211.7,85.8L214.7,86.6L217.9,87.2L221.5,87.7L225.1,88.1L228.5,88.6L231.7,89.1L234.5,89.7L237.0,90.3L239.5,90.9L241.9,91.6L244.3,92.4L246.8,93.2L249.2,94.0L251.7,94.9L254.0,95.8L256.0,96.6L257.7,97.3L259.2,98.0L260.7,98.7L262.4,99.4L264.3,99.9L266.5,100.4L268.8,100.8L271.2,101.2L273.4,101.5L275.6,101.8L277.7,102.2L280.0,102.6L282.2,103.0L284.1,103.3L285.5,103.6A3.6,3.6 0 0 0 286.5,96.4ZM282.4,100.0a3.6,3.6 0 1,0 7.2,0a3.6,3.6 0 1,0 -7.2,0ZM272.7,98.5a3.3,3.3 0 1,0 6.7,0a3.3,3.3 0 1,0 -6.7,0ZM262.0,97.0a3.0,3.0 0 1,0 6.1,0a3.0,3.0 0 1,0 -6.1,0ZM254.2,94.0a2.8,2.8 0 1,0 5.6,0a2.8,2.8 0 1,0 -5.6,0ZM242.5,90.0a2.5,2.5 0 1,0 4.9,0a2.5,2.5 0 1,0 -4.9,0ZM229.9,87.0a2.1,2.1 0 1,0 4.2,0a2.1,2.1 0 1,0 -4.2,0ZM213.4,85.0a1.6,1.6 0 1,0 3.3,0a1.6,1.6 0 1,0 -3.3,0ZM201.7,81.0a1.3,1.3 0 1,0 2.6,0a1.3,1.3 0 1,0 -2.6,0Z"/><path d="M286.3,90.8L285.4,89.9L284.1,88.6L282.5,87.1L280.8,85.5L279.1,83.8L277.2,82.2L275.2,80.3L273.0,78.4L270.8,76.6L268.7,74.9L266.6,73.4L264.5,71.9L262.3,70.6L260.2,69.4L258.0,68.3L255.9,67.4L253.7,66.7L251.5,66.1L249.3,65.6L247.2,65.4L245.1,65.3L243.1,65.5L241.1,65.8L239.3,66.2L237.5,66.6L235.7,67.2L233.9,68.0L232.4,68.7L231.2,69.1L230.1,69.2L229.0,69.1L227.7,68.7L226.5,68.0L225.4,67.2L224.3,66.1L223.1,64.4L222.0,62.0L220.9,59.4L219.9,57.1L219.2,55.5A1.3,1.3 0 0 0 216.8,56.5L216.8,56.5L217.4,58.1L218.2,60.5L219.3,63.2L220.5,65.8L221.7,67.9L223.2,69.5L224.7,70.8L226.3,71.7L228.1,72.4L229.9,72.8L231.9,72.7L233.7,72.1L235.4,71.4L237.0,70.8L238.5,70.4L240.1,70.1L241.8,69.8L243.5,69.6L245.1,69.5L246.8,69.6L248.5,70.0L250.3,70.4L252.2,71.0L254.1,71.8L256.0,72.7L257.8,73.7L259.7,74.8L261.5,76.2L263.4,77.6L265.3,79.1L267.3,80.8L269.3,82.6L271.3,84.5L273.2,86.4L274.9,88.2L276.6,89.8L278.2,91.4L279.6,93.0L280.8,94.3L281.7,95.2A3.2,3.2 0 0 0 286.3,90.8ZM280.8,93.0a3.2,3.2 0 1,0 6.4,0a3.2,3.2 0 1,0 -6.4,0ZM274.0,86.0a3.0,3.0 0 1,0 5.9,0a3.0,3.0 0 1,0 -5.9,0ZM264.3,77.0a2.7,2.7 0 1,0 5.3,0a2.7,2.7 0 1,0 -5.3,0ZM254.6,70.5a2.4,2.4 0 1,0 4.8,0a2.4,2.4 0 1,0 -4.8,0ZM244.8,67.5a2.2,2.2 0 1,0 4.3,0a2.2,2.2 0 1,0 -4.3,0ZM236.0,68.5a2.0,2.0 0 1,0 3.9,0a2.0,2.0 0 1,0 -3.9,0ZM228.2,71.0a1.8,1.8 0 1,0 3.5,0a1.8,1.8 0 1,0 -3.5,0ZM221.4,67.0a1.6,1.6 0 1,0 3.2,0a1.6,1.6 0 1,0 -3.2,0ZM216.7,56.0a1.3,1.3 0 1,0 2.6,0a1.3,1.3 0 1,0 -2.6,0Z"/><path d="M285.1,69.2L284.4,68.4L283.3,67.1L281.9,65.7L280.4,64.1L278.7,62.5L276.7,61.1L274.6,59.7L272.4,58.4L270.3,57.0L268.3,55.7L266.3,54.3L264.2,53.0L262.3,51.6L260.7,50.4L259.5,49.3L258.9,48.5L258.7,48.1L258.6,47.2L258.3,45.7L257.7,43.4L256.3,40.1L254.7,35.9L252.9,31.3L251.3,27.3L250.1,24.6A1.2,1.2 0 0 0 247.9,25.4L247.9,25.4L248.8,28.2L250.2,32.3L251.8,36.9L253.3,41.3L254.3,44.6L254.9,46.5L255.0,47.7L255.1,48.9L255.6,50.2L256.5,51.7L258.0,53.3L259.8,54.9L261.8,56.4L263.8,57.9L265.7,59.3L267.7,60.8L269.8,62.3L271.9,63.7L273.8,65.1L275.3,66.5L276.7,67.8L278.0,69.2L279.2,70.6L280.1,71.9L280.9,72.8A2.8,2.8 0 0 0 285.1,69.2ZM280.2,71.0a2.8,2.8 0 1,0 5.6,0a2.8,2.8 0 1,0 -5.6,0ZM274.4,64.5a2.6,2.6 0 1,0 5.1,0a2.6,2.6 0 1,0 -5.1,0ZM264.8,57.5a2.2,2.2 0 1,0 4.5,0a2.2,2.2 0 1,0 -4.5,0ZM256.1,50.5a1.9,1.9 0 1,0 3.9,0a1.9,1.9 0 1,0 -3.9,0ZM254.3,44.0a1.7,1.7 0 1,0 3.5,0a1.7,1.7 0 1,0 -3.5,0ZM247.8,25.0a1.2,1.2 0 1,0 2.4,0a1.2,1.2 0 1,0 -2.4,0Z"/><path d="M258.4,49.4L256.8,49.1L254.6,48.7L252.1,48.2L249.7,47.6L247.6,46.8L245.7,45.7L243.6,44.2L241.6,42.6L239.9,41.1L238.7,40.2A1.1,1.1 0 0 0 237.3,41.8L237.3,41.8L238.4,42.9L240.1,44.4L242.0,46.1L244.2,47.8L246.4,49.2L248.8,50.2L251.4,51.0L254.0,51.7L256.1,52.2L257.6,52.6A1.6,1.6 0 0 0 258.4,49.4ZM256.4,51.0a1.6,1.6 0 1,0 3.2,0a1.6,1.6 0 1,0 -3.2,0ZM245.7,48.0a1.4,1.4 0 1,0 2.7,0a1.4,1.4 0 1,0 -2.7,0ZM236.9,41.0a1.1,1.1 0 1,0 2.2,0a1.1,1.1 0 1,0 -2.2,0Z"/><path d="M285.6,59.5L285.2,58.2L284.9,56.4L284.4,54.2L283.8,51.8L283.2,49.4L282.4,47.1L281.5,44.8L280.6,42.5L279.7,40.0L278.7,37.4L277.6,34.4L276.3,31.0L275.0,27.6L273.9,24.7L273.1,22.6A1.2,1.2 0 0 0 270.9,23.4L270.9,23.4L271.4,25.5L272.3,28.5L273.4,32.0L274.4,35.5L275.3,38.6L276.1,41.2L276.9,43.8L277.7,46.1L278.3,48.4L278.8,50.6L279.3,52.8L279.7,55.1L280.0,57.2L280.3,59.1L280.4,60.5A2.6,2.6 0 0 0 285.6,59.5ZM280.4,60.0a2.6,2.6 0 1,0 5.2,0a2.6,2.6 0 1,0 -5.2,0ZM278.8,50.0a2.2,2.2 0 1,0 4.5,0a2.2,2.2 0 1,0 -4.5,0ZM275.2,38.0a1.8,1.8 0 1,0 3.5,0a1.8,1.8 0 1,0 -3.5,0ZM270.8,23.0a1.2,1.2 0 1,0 2.4,0a1.2,1.2 0 1,0 -2.4,0Z"/><path d="M284.9,59.0L285.5,58.0L286.3,56.4L287.2,54.6L288.1,52.6L288.8,50.7L289.4,49.1L289.9,47.4L290.4,45.6L290.7,43.5L290.7,40.9L290.2,37.6L289.5,33.7L288.6,29.7L287.8,26.2L287.2,23.8A1.2,1.2 0 0 0 284.8,24.2L284.8,24.2L285.2,26.7L285.9,30.2L286.5,34.2L287.1,38.1L287.3,41.1L287.2,43.2L286.9,44.8L286.4,46.3L285.8,47.7L285.2,49.3L284.4,51.0L283.5,52.7L282.6,54.4L281.7,55.9L281.1,57.0A2.2,2.2 0 0 0 284.9,59.0ZM280.8,58.0a2.2,2.2 0 1,0 4.4,0a2.2,2.2 0 1,0 -4.4,0ZM285.1,50.0a1.9,1.9 0 1,0 3.9,0a1.9,1.9 0 1,0 -3.9,0ZM287.3,41.0a1.7,1.7 0 1,0 3.4,0a1.7,1.7 0 1,0 -3.4,0ZM284.8,24.0a1.2,1.2 0 1,0 2.4,0a1.2,1.2 0 1,0 -2.4,0Z"/><path d="M287.2,90.9L287.7,89.5L288.4,87.6L289.2,85.3L290.1,82.9L290.9,80.8L291.6,78.9L292.5,77.0L293.3,74.9L294.1,72.7L294.6,70.3L294.8,67.5L294.8,64.4L294.6,61.4L294.4,58.8L294.2,57.0A1.2,1.2 0 0 0 291.8,57.0L291.8,57.0L291.8,58.9L291.8,61.5L291.8,64.4L291.7,67.3L291.4,69.7L290.8,71.7L290.0,73.5L289.1,75.3L288.1,77.2L287.1,79.2L286.2,81.4L285.2,83.7L284.2,85.9L283.4,87.8L282.8,89.1A2.4,2.4 0 0 0 287.2,90.9ZM282.6,90.0a2.4,2.4 0 1,0 4.8,0a2.4,2.4 0 1,0 -4.8,0ZM287.0,80.0a2.0,2.0 0 1,0 4.1,0a2.0,2.0 0 1,0 -4.1,0ZM291.3,70.0a1.7,1.7 0 1,0 3.3,0a1.7,1.7 0 1,0 -3.3,0ZM291.8,57.0a1.2,1.2 0 1,0 2.4,0a1.2,1.2 0 1,0 -2.4,0Z"/><path d="M350.0,96.8L349.8,95.9L349.7,94.6L349.5,92.9L349.2,90.9L348.8,89.0L348.3,87.2L347.7,85.4L347.0,83.7L346.2,81.9L345.4,80.2L344.4,78.3L343.3,76.4L342.2,74.6L341.2,73.2L340.5,72.1A4.0,4.0 0 0 0 333.5,75.9L333.5,75.9L333.9,77.0L334.6,78.6L335.4,80.4L336.1,82.2L336.6,83.8L337.1,85.3L337.5,86.8L337.8,88.3L338.0,89.7L338.2,91.0L338.2,92.2L338.2,93.6L338.2,94.9L338.1,96.2L338.0,97.2A6.0,6.0 0 0 0 350.0,96.8ZM338.0,97.0a6.0,6.0 0 1,0 12.0,0a6.0,6.0 0 1,0 -12.0,0ZM338.1,90.0a5.4,5.4 0 1,0 10.8,0a5.4,5.4 0 1,0 -10.8,0ZM336.3,82.0a4.7,4.7 0 1,0 9.5,0a4.7,4.7 0 1,0 -9.5,0ZM333.0,74.0a4.0,4.0 0 1,0 8.0,0a4.0,4.0 0 1,0 -8.0,0Z"/><path d="M340.3,74.5L339.6,73.3L338.7,71.6L337.7,69.6L336.8,67.7L336.1,66.0L335.6,64.5L335.2,63.0L334.8,61.3L334.4,59.4L333.8,57.3L333.0,54.9L332.2,52.3L331.2,49.6L330.2,46.8L329.2,44.2L328.1,41.7L326.8,39.4L325.6,37.3L324.6,35.1L323.8,32.6L323.3,29.3L322.9,25.3L322.6,21.2L322.4,17.5L322.2,15.0A1.2,1.2 0 0 0 319.8,15.0L319.8,15.0L319.7,17.6L319.7,21.2L319.7,25.4L319.8,29.7L320.2,33.4L320.9,36.4L321.9,39.0L322.9,41.4L323.9,43.6L324.8,45.8L325.6,48.4L326.3,51.1L327.0,53.8L327.7,56.4L328.2,58.7L328.6,60.7L328.9,62.4L329.1,64.2L329.4,66.0L329.9,68.0L330.7,70.2L331.6,72.4L332.5,74.5L333.2,76.3L333.7,77.5A3.6,3.6 0 0 0 340.3,74.5ZM333.4,76.0a3.6,3.6 0 1,0 7.2,0a3.6,3.6 0 1,0 -7.2,0ZM329.8,67.0a3.2,3.2 0 1,0 6.5,0a3.2,3.2 0 1,0 -6.5,0ZM328.1,58.0a2.9,2.9 0 1,0 5.8,0a2.9,2.9 0 1,0 -5.8,0ZM324.6,45.0a2.4,2.4 0 1,0 4.7,0a2.4,2.4 0 1,0 -4.7,0ZM320.1,33.0a1.9,1.9 0 1,0 3.8,0a1.9,1.9 0 1,0 -3.8,0ZM319.8,15.0a1.2,1.2 0 1,0 2.4,0a1.2,1.2 0 1,0 -2.4,0Z"/><path d="M334.9,67.1L334.0,66.7L332.7,66.2L331.2,65.5L329.4,64.8L327.6,64.1L325.6,63.6L323.6,63.2L321.5,62.8L319.6,62.3L317.8,61.5L316.0,60.4L314.2,59.1L312.4,57.6L310.7,56.0L309.3,54.2L308.0,52.1L307.0,49.8L306.1,47.2L305.2,44.5L304.2,41.6L303.0,38.4L301.8,34.7L300.6,31.1L299.6,27.9L298.9,25.7A0.9,0.9 0 0 0 297.1,26.3L297.1,26.3L297.8,28.5L298.7,31.7L299.7,35.4L300.8,39.1L301.8,42.4L302.7,45.3L303.5,48.1L304.4,50.8L305.4,53.4L306.7,55.8L308.3,58.0L310.2,60.0L312.1,61.7L314.1,63.2L316.2,64.5L318.3,65.6L320.6,66.3L322.8,66.9L324.7,67.3L326.4,67.9L328.0,68.5L329.6,69.2L331.0,69.9L332.2,70.5L333.1,70.9A2.1,2.1 0 0 0 334.9,67.1ZM331.9,69.0a2.1,2.1 0 1,0 4.2,0a2.1,2.1 0 1,0 -4.2,0ZM325.1,66.0a1.9,1.9 0 1,0 3.9,0a1.9,1.9 0 1,0 -3.9,0ZM315.3,63.0a1.7,1.7 0 1,0 3.5,0a1.7,1.7 0 1,0 -3.5,0ZM306.5,55.0a1.5,1.5 0 1,0 3.0,0a1.5,1.5 0 1,0 -3.0,0ZM301.8,42.0a1.2,1.2 0 1,0 2.5,0a1.2,1.2 0 1,0 -2.5,0ZM297.1,26.0a0.9,0.9 0 1,0 1.8,0a0.9,0.9 0 1,0 -1.8,0Z"/><path d="M322.7,32.8L322.0,32.4L321.0,31.8L319.7,31.1L318.3,30.2L316.8,29.1L314.7,27.4L312.1,25.2L309.5,22.9L307.2,20.8L305.5,19.4A0.8,0.8 0 0 0 304.5,20.6L304.5,20.6L306.0,22.1L308.2,24.3L310.7,26.7L313.2,29.1L315.2,30.9L316.9,32.3L318.3,33.3L319.6,34.1L320.6,34.7L321.3,35.2A1.4,1.4 0 0 0 322.7,32.8ZM320.6,34.0a1.4,1.4 0 1,0 2.8,0a1.4,1.4 0 1,0 -2.8,0ZM314.8,30.0a1.2,1.2 0 1,0 2.4,0a1.2,1.2 0 1,0 -2.4,0ZM304.2,20.0a0.8,0.8 0 1,0 1.6,0a0.8,0.8 0 1,0 -1.6,0Z"/><path d="M310.4,56.0L308.4,55.3L306.3,54.5L304.3,53.8L302.3,53.1L300.3,52.4A0.7,0.7 0 0 0 299.7,53.6L299.7,53.6L301.7,54.5L303.7,55.4L305.7,56.3L307.6,57.1L309.6,58.0A1.1,1.1 0 0 0 310.4,56.0ZM308.9,57.0a1.1,1.1 0 1,0 2.2,0a1.1,1.1 0 1,0 -2.2,0ZM299.3,53.0a0.7,0.7 0 1,0 1.4,0a0.7,0.7 0 1,0 -1.4,0Z"/><path d="M311.6,60.1L310.4,60.8L309.2,61.4L308.0,62.1L306.9,62.7L305.7,63.4A0.7,0.7 0 0 0 306.3,64.6L306.3,64.6L307.5,64.1L308.8,63.5L310.0,63.0L311.2,62.4L312.4,61.9A1.0,1.0 0 0 0 311.6,60.1ZM311.0,61.0a1.0,1.0 0 1,0 2.0,0a1.0,1.0 0 1,0 -2.0,0ZM305.3,64.0a0.7,0.7 0 1,0 1.4,0a0.7,0.7 0 1,0 -1.4,0Z"/><path d="M349.4,95.2L350.0,93.2L350.9,90.3L351.9,87.0L352.9,83.7L353.6,80.7L354.0,78.3L354.2,76.1L354.2,74.0L354.1,71.9L353.8,69.6L353.3,67.2L352.6,64.7L351.9,62.3L351.1,59.8L350.4,57.4L349.8,55.0L349.2,52.4L348.6,49.7L347.9,47.0L346.9,44.2L345.6,41.6L344.0,39.1L342.4,36.7L340.8,34.4L339.4,32.2L338.0,29.8L336.5,27.3L335.1,24.9L333.9,22.9L333.1,21.4A1.2,1.2 0 0 0 330.9,22.6L330.9,22.6L331.7,24.1L332.7,26.2L334.0,28.7L335.3,31.3L336.6,33.8L338.0,36.2L339.4,38.6L340.9,41.0L342.1,43.4L343.1,45.8L343.8,48.1L344.3,50.6L344.8,53.2L345.1,55.9L345.6,58.6L346.2,61.2L346.9,63.7L347.5,66.1L347.9,68.3L348.2,70.4L348.3,72.2L348.3,73.9L348.2,75.5L347.9,77.3L347.4,79.3L346.7,81.9L345.6,84.9L344.4,88.1L343.4,90.9L342.6,92.8A3.6,3.6 0 0 0 349.4,95.2ZM342.4,94.0a3.6,3.6 0 1,0 7.2,0a3.6,3.6 0 1,0 -7.2,0ZM347.4,80.0a3.1,3.1 0 1,0 6.3,0a3.1,3.1 0 1,0 -6.3,0ZM348.2,70.0a2.8,2.8 0 1,0 5.7,0a2.8,2.8 0 1,0 -5.7,0ZM345.6,58.0a2.4,2.4 0 1,0 4.9,0a2.4,2.4 0 1,0 -4.9,0ZM343.0,45.0a2.0,2.0 0 1,0 4.1,0a2.0,2.0 0 1,0 -4.1,0ZM336.4,33.0a1.6,1.6 0 1,0 3.2,0a1.6,1.6 0 1,0 -3.2,0ZM330.8,22.0a1.2,1.2 0 1,0 2.4,0a1.2,1.2 0 1,0 -2.4,0Z"/><path d="M349.8,55.1L349.8,52.6L349.9,49.1L350.0,45.0L350.0,41.1L350.0,38.0L349.8,35.7L349.6,34.0L349.3,32.4L348.8,31.0L348.2,29.5L347.2,27.7L346.0,25.8L344.8,24.0L343.7,22.4L342.9,21.4A1.1,1.1 0 0 0 341.1,22.6L341.1,22.6L341.8,23.7L342.8,25.3L344.0,27.1L345.0,28.9L345.8,30.5L346.3,31.9L346.6,33.1L346.8,34.3L347.0,35.9L347.0,38.0L347.0,41.1L346.8,44.9L346.6,48.9L346.4,52.5L346.2,54.9A1.8,1.8 0 0 0 349.8,55.1ZM346.2,55.0a1.8,1.8 0 1,0 3.6,0a1.8,1.8 0 1,0 -3.6,0ZM347.0,38.0a1.5,1.5 0 1,0 2.9,0a1.5,1.5 0 1,0 -2.9,0ZM345.7,30.0a1.3,1.3 0 1,0 2.6,0a1.3,1.3 0 1,0 -2.6,0ZM340.9,22.0a1.1,1.1 0 1,0 2.2,0a1.1,1.1 0 1,0 -2.2,0Z"/><path d="M350.8,97.1L351.4,94.8L352.4,91.4L353.4,87.6L354.5,84.0L355.3,81.3L356.0,79.7L356.6,78.6L357.3,77.5L358.1,76.2L359.0,74.5L359.9,72.5L360.7,70.4L361.6,68.2L362.4,65.9L363.0,63.9L363.4,62.1L363.8,60.5L364.1,58.7L364.1,56.7L363.8,54.5L363.1,52.0L362.1,49.4L361.1,47.0L360.1,44.6L359.5,42.5L359.1,40.4L358.9,38.4L358.8,36.4L358.9,34.4L359.2,32.6L359.8,30.9L360.7,29.1L361.9,27.2L363.0,25.0L363.9,22.6L364.4,20.0L364.6,17.4L364.7,14.9L364.7,12.4L364.7,10.0L364.7,7.6L364.6,5.0L364.6,2.5L364.5,0.5L364.4,-1.0A1.4,1.4 0 0 0 361.6,-1.0L361.6,-1.0L361.6,0.5L361.5,2.6L361.5,5.0L361.4,7.5L361.3,10.0L361.2,12.3L361.1,14.8L360.9,17.1L360.6,19.4L360.1,21.4L359.3,23.2L358.2,25.0L357.0,26.9L355.7,29.0L354.8,31.4L354.3,33.8L354.1,36.2L354.0,38.6L354.2,41.0L354.5,43.5L355.1,46.2L356.0,48.9L357.0,51.4L357.8,53.7L358.2,55.5L358.2,56.9L358.2,58.1L357.9,59.2L357.5,60.5L357.0,62.1L356.4,63.9L355.6,65.8L354.7,67.8L353.8,69.8L353.0,71.5L352.3,72.7L351.6,73.6L350.7,74.8L349.7,76.5L348.7,78.7L347.5,81.7L346.3,85.4L345.0,89.2L343.9,92.6L343.2,94.9A4.0,4.0 0 0 0 350.8,97.1ZM343.0,96.0a4.0,4.0 0 1,0 8.0,0a4.0,4.0 0 1,0 -8.0,0ZM348.4,80.0a3.6,3.6 0 1,0 7.1,0a3.6,3.6 0 1,0 -7.1,0ZM352.6,73.0a3.4,3.4 0 1,0 6.7,0a3.4,3.4 0 1,0 -6.7,0ZM356.9,63.0a3.1,3.1 0 1,0 6.2,0a3.1,3.1 0 1,0 -6.2,0ZM358.1,55.0a2.9,2.9 0 1,0 5.8,0a2.9,2.9 0 1,0 -5.8,0ZM354.4,43.0a2.6,2.6 0 1,0 5.1,0a2.6,2.6 0 1,0 -5.1,0ZM354.7,32.0a2.3,2.3 0 1,0 4.6,0a2.3,2.3 0 1,0 -4.6,0ZM360.0,22.0a2.0,2.0 0 1,0 4.0,0a2.0,2.0 0 1,0 -4.0,0ZM361.3,10.0a1.7,1.7 0 1,0 3.4,0a1.7,1.7 0 1,0 -3.4,0ZM361.6,-1.0a1.4,1.4 0 1,0 2.8,0a1.4,1.4 0 1,0 -2.8,0Z"/><path d="M358.6,33.3L358.1,32.1L357.3,30.5L356.3,28.7L355.4,26.6L354.4,24.4L353.3,21.9L352.1,19.0L350.9,16.0L349.8,13.4L349.0,11.6A1.1,1.1 0 0 0 347.0,12.4L347.0,12.4L347.6,14.3L348.5,16.9L349.6,19.9L350.7,23.0L351.6,25.6L352.5,27.8L353.4,30.0L354.2,31.9L354.9,33.6L355.4,34.7A1.8,1.8 0 0 0 358.6,33.3ZM355.2,34.0a1.8,1.8 0 1,0 3.6,0a1.8,1.8 0 1,0 -3.6,0ZM351.5,25.0a1.5,1.5 0 1,0 3.0,0a1.5,1.5 0 1,0 -3.0,0ZM346.9,12.0a1.1,1.1 0 1,0 2.2,0a1.1,1.1 0 1,0 -2.2,0Z"/><path d="M363.2,54.9L363.8,53.4L364.7,51.1L365.7,48.6L366.8,46.1L367.8,44.0L368.8,42.3L369.9,40.7L371.1,39.2L372.3,37.6L373.4,36.1L374.4,34.6L375.3,33.4L376.2,32.0L377.2,30.6L378.3,28.8L379.6,26.5L381.2,23.7L382.7,20.8L384.0,18.3L385.0,16.5A1.1,1.1 0 0 0 383.0,15.5L383.0,15.5L382.0,17.1L380.5,19.5L378.8,22.3L377.2,25.0L375.7,27.2L374.6,28.8L373.6,30.2L372.6,31.4L371.7,32.6L370.6,33.9L369.4,35.4L368.2,36.8L366.8,38.4L365.5,40.1L364.2,42.0L363.0,44.3L361.7,46.8L360.5,49.4L359.5,51.5L358.8,53.1A2.4,2.4 0 0 0 363.2,54.9ZM358.6,54.0a2.4,2.4 0 1,0 4.8,0a2.4,2.4 0 1,0 -4.8,0ZM364.0,43.0a2.0,2.0 0 1,0 4.1,0a2.0,2.0 0 1,0 -4.1,0ZM370.2,35.0a1.8,1.8 0 1,0 3.5,0a1.8,1.8 0 1,0 -3.5,0ZM375.5,28.0a1.5,1.5 0 1,0 3.0,0a1.5,1.5 0 1,0 -3.0,0ZM382.9,16.0a1.1,1.1 0 1,0 2.2,0a1.1,1.1 0 1,0 -2.2,0Z"/><path d="M371.1,37.3L372.0,37.9L373.3,38.9L375.0,40.0L376.9,41.0L378.8,41.4L380.7,41.3L382.4,40.8L384.0,40.1L385.7,39.2L387.6,38.1L390.0,36.6L392.7,34.7L395.5,32.8L397.9,31.0L399.6,29.8A1.0,1.0 0 0 0 398.4,28.2L398.4,28.2L396.7,29.3L394.2,30.9L391.4,32.8L388.7,34.6L386.4,35.9L384.5,36.9L382.9,37.7L381.5,38.2L380.3,38.5L379.2,38.6L378.0,38.2L376.6,37.4L375.1,36.4L373.9,35.4L372.9,34.7A1.6,1.6 0 0 0 371.1,37.3ZM370.4,36.0a1.6,1.6 0 1,0 3.2,0a1.6,1.6 0 1,0 -3.2,0ZM377.6,40.0a1.4,1.4 0 1,0 2.9,0a1.4,1.4 0 1,0 -2.9,0ZM385.7,37.0a1.3,1.3 0 1,0 2.6,0a1.3,1.3 0 1,0 -2.6,0ZM398.0,29.0a1.0,1.0 0 1,0 2.0,0a1.0,1.0 0 1,0 -2.0,0Z"/><path d="M362.2,65.9L363.1,65.2L364.3,64.4L365.8,63.4L367.3,62.5L368.7,61.8L370.2,61.2L371.8,60.7L373.6,60.3L375.4,59.9L377.2,59.6L379.0,59.4L380.9,59.3L382.9,59.3L384.9,59.3L386.9,59.3L389.1,59.4L391.4,59.6L393.6,59.7L395.5,59.9L396.9,60.0A1.0,1.0 0 0 0 397.1,58.0L397.1,58.0L395.8,57.8L393.8,57.5L391.6,57.2L389.3,56.9L387.1,56.7L385.0,56.5L383.0,56.4L380.9,56.3L378.9,56.3L376.8,56.4L374.9,56.6L372.9,56.8L371.0,57.2L369.1,57.6L367.3,58.2L365.5,59.0L363.7,59.9L362.1,60.8L360.8,61.6L359.8,62.1A2.2,2.2 0 0 0 362.2,65.9ZM358.8,64.0a2.2,2.2 0 1,0 4.4,0a2.2,2.2 0 1,0 -4.4,0ZM366.1,60.0a1.9,1.9 0 1,0 3.9,0a1.9,1.9 0 1,0 -3.9,0ZM375.4,58.0a1.6,1.6 0 1,0 3.3,0a1.6,1.6 0 1,0 -3.3,0ZM385.7,58.0a1.3,1.3 0 1,0 2.6,0a1.3,1.3 0 1,0 -2.6,0ZM396.0,59.0a1.0,1.0 0 1,0 2.0,0a1.0,1.0 0 1,0 -2.0,0Z"/><path d="M377.4,58.9L379.0,58.0L380.6,57.2L382.2,56.3L383.7,55.5L385.3,54.6A0.7,0.7 0 0 0 384.7,53.4L384.7,53.4L383.1,54.1L381.4,54.9L379.8,55.6L378.2,56.4L376.6,57.1A1.0,1.0 0 0 0 377.4,58.9ZM376.0,58.0a1.0,1.0 0 1,0 2.0,0a1.0,1.0 0 1,0 -2.0,0ZM384.3,54.0a0.7,0.7 0 1,0 1.4,0a0.7,0.7 0 1,0 -1.4,0Z"/><path d="M353.4,94.7L354.5,94.0L356.0,93.1L357.7,92.1L359.5,91.1L361.0,90.4L362.2,89.8L363.4,89.4L364.6,89.0L365.9,88.6L367.5,88.1L369.2,87.7L371.2,87.2L373.2,86.7L375.3,86.2L377.3,85.7L379.5,85.1L381.8,84.6L384.0,84.0L385.9,83.5L387.2,83.2A1.2,1.2 0 0 0 386.8,80.8L386.8,80.8L385.4,81.0L383.4,81.3L381.2,81.6L378.8,82.0L376.7,82.3L374.6,82.6L372.5,82.9L370.4,83.2L368.4,83.5L366.5,83.9L364.9,84.2L363.5,84.4L362.0,84.7L360.6,85.1L359.0,85.6L357.2,86.3L355.3,87.2L353.4,88.1L351.7,88.8L350.6,89.3A3.0,3.0 0 0 0 353.4,94.7ZM349.0,92.0a3.0,3.0 0 1,0 6.0,0a3.0,3.0 0 1,0 -6.0,0ZM357.4,88.0a2.6,2.6 0 1,0 5.1,0a2.6,2.6 0 1,0 -5.1,0ZM364.8,86.0a2.2,2.2 0 1,0 4.4,0a2.2,2.2 0 1,0 -4.4,0ZM375.3,84.0a1.7,1.7 0 1,0 3.4,0a1.7,1.7 0 1,0 -3.4,0ZM385.8,82.0a1.2,1.2 0 1,0 2.4,0a1.2,1.2 0 1,0 -2.4,0Z"/><path d="M371.9,86.1L372.4,85.1L373.1,83.7L373.9,82.1L374.8,80.5L375.6,79.0L376.5,77.5L377.3,76.0L378.2,74.5L379.0,73.3L380.0,72.2L381.2,71.4L382.6,70.6L384.1,69.9L385.7,69.3L387.3,68.8L389.0,68.4L391.0,68.2L393.0,68.1L394.8,68.1L396.0,68.0A1.0,1.0 0 0 0 396.0,66.0L396.0,66.0L394.8,66.0L393.0,65.9L390.9,65.9L388.7,66.0L386.7,66.2L384.9,66.6L383.1,67.2L381.3,67.9L379.6,68.7L378.0,69.8L376.5,71.1L375.3,72.5L374.3,74.1L373.3,75.6L372.4,77.0L371.4,78.5L370.4,80.1L369.4,81.7L368.7,83.0L368.1,83.9A2.2,2.2 0 0 0 371.9,86.1ZM367.8,85.0a2.2,2.2 0 1,0 4.4,0a2.2,2.2 0 1,0 -4.4,0ZM372.1,78.0a1.9,1.9 0 1,0 3.8,0a1.9,1.9 0 1,0 -3.8,0ZM377.4,71.0a1.6,1.6 0 1,0 3.2,0a1.6,1.6 0 1,0 -3.2,0ZM385.7,67.5a1.3,1.3 0 1,0 2.6,0a1.3,1.3 0 1,0 -2.6,0ZM395.0,67.0a1.0,1.0 0 1,0 2.0,0a1.0,1.0 0 1,0 -2.0,0Z"/><path d="M402.3,126.5L402.6,125.0L403.1,122.7L403.5,120.1L403.9,117.5L404.1,115.0L403.8,112.9L403.3,111.1L402.7,109.6L402.2,108.2L401.8,106.6L401.4,104.9L401.0,103.0L400.7,101.1L400.5,99.1L400.5,97.1L400.6,94.7L401.0,92.0L401.4,89.3L401.8,86.9L402.1,85.2A1.1,1.1 0 0 0 399.9,84.8L399.9,84.8L399.5,86.4L399.0,88.8L398.4,91.5L397.8,94.4L397.5,96.9L397.5,99.2L397.5,101.4L397.7,103.5L398.0,105.4L398.2,107.4L398.6,109.2L399.1,110.8L399.6,112.2L399.9,113.6L399.9,115.0L399.7,116.9L399.2,119.3L398.6,121.8L398.1,123.9L397.7,125.5A2.4,2.4 0 0 0 402.3,126.5ZM397.6,126.0a2.4,2.4 0 1,0 4.8,0a2.4,2.4 0 1,0 -4.8,0ZM399.9,115.0a2.1,2.1 0 1,0 4.1,0a2.1,2.1 0 1,0 -4.1,0ZM398.2,107.0a1.8,1.8 0 1,0 3.6,0a1.8,1.8 0 1,0 -3.6,0ZM397.5,97.0a1.5,1.5 0 1,0 3.0,0a1.5,1.5 0 1,0 -3.0,0ZM399.9,85.0a1.1,1.1 0 1,0 2.2,0a1.1,1.1 0 1,0 -2.2,0Z"/><path d="M400.3,120.0L399.5,119.1L398.5,117.9L397.3,116.5L396.4,115.1L395.8,113.7L395.5,112.0L395.6,109.8L395.7,107.6L395.9,105.5L396.0,104.1A1.0,1.0 0 0 0 394.0,103.9L394.0,103.9L393.8,105.3L393.5,107.3L393.2,109.7L393.0,112.1L393.2,114.3L393.9,116.3L395.0,118.2L396.1,119.8L397.1,121.1L397.7,122.0A1.6,1.6 0 0 0 400.3,120.0ZM397.4,121.0a1.6,1.6 0 1,0 3.2,0a1.6,1.6 0 1,0 -3.2,0ZM393.2,114.0a1.3,1.3 0 1,0 2.7,0a1.3,1.3 0 1,0 -2.7,0ZM394.0,104.0a1.0,1.0 0 1,0 2.0,0a1.0,1.0 0 1,0 -2.0,0Z"/><path d="M415.3,131.7L415.6,130.6L416.0,129.0L416.5,127.1L416.9,125.1L417.1,123.2L417.0,121.3L416.9,119.5L416.6,117.7L416.2,116.1L415.7,114.5L415.1,113.0L414.3,111.8L413.6,110.8L413.0,109.8L412.4,108.5L411.9,106.8L411.3,104.6L410.8,102.3L410.4,100.2L410.1,98.8A1.1,1.1 0 0 0 407.9,99.2L407.9,99.2L408.1,100.6L408.4,102.7L408.7,105.1L409.1,107.4L409.6,109.5L410.2,111.1L410.8,112.4L411.5,113.5L412.0,114.5L412.3,115.5L412.6,116.9L412.8,118.4L413.0,119.9L413.0,121.4L412.9,122.8L412.7,124.3L412.2,126.0L411.6,127.7L411.1,129.2L410.7,130.3A2.4,2.4 0 0 0 415.3,131.7ZM410.6,131.0a2.4,2.4 0 1,0 4.8,0a2.4,2.4 0 1,0 -4.8,0ZM412.9,123.0a2.1,2.1 0 1,0 4.2,0a2.1,2.1 0 1,0 -4.2,0ZM412.2,115.0a1.8,1.8 0 1,0 3.5,0a1.8,1.8 0 1,0 -3.5,0ZM409.5,109.0a1.5,1.5 0 1,0 3.0,0a1.5,1.5 0 1,0 -3.0,0ZM407.9,99.0a1.1,1.1 0 1,0 2.2,0a1.1,1.1 0 1,0 -2.2,0Z"/><path d="M416.6,113.4L416.9,111.9L417.3,109.9L417.9,107.6L418.5,105.4L419.2,103.7L420.1,102.6L421.3,101.6L422.7,100.6L424.1,99.3L425.2,97.4L425.6,95.1L425.6,92.4L425.4,89.8L425.1,87.5L425.0,85.9A1.0,1.0 0 0 0 423.0,86.1L423.0,86.1L423.1,87.7L423.2,89.9L423.3,92.5L423.2,94.8L422.8,96.6L422.2,97.7L421.1,98.6L419.7,99.5L418.1,100.7L416.8,102.3L415.8,104.4L415.0,106.8L414.4,109.2L413.8,111.2L413.4,112.6A1.6,1.6 0 0 0 416.6,113.4ZM413.4,113.0a1.6,1.6 0 1,0 3.2,0a1.6,1.6 0 1,0 -3.2,0ZM416.6,103.0a1.4,1.4 0 1,0 2.8,0a1.4,1.4 0 1,0 -2.8,0ZM422.8,97.0a1.2,1.2 0 1,0 2.4,0a1.2,1.2 0 1,0 -2.4,0ZM423.0,86.0a1.0,1.0 0 1,0 2.0,0a1.0,1.0 0 1,0 -2.0,0Z"/><path d="M419.4,134.8L420.5,133.8L422.1,132.5L424.0,130.9L425.9,129.1L427.5,127.3L428.9,125.5L430.1,123.6L431.2,121.6L432.1,119.6L432.7,117.4L433.0,115.2L433.0,113.0L432.8,110.9L432.6,108.9L432.5,107.0L432.5,105.1L432.6,103.3L432.6,101.5L432.8,99.9L433.2,98.5L433.9,97.2L434.9,95.9L436.0,94.7L437.1,93.6L437.8,92.8A1.1,1.1 0 0 0 436.2,91.2L436.2,91.2L435.5,92.0L434.3,93.0L433.0,94.3L431.8,95.8L430.8,97.5L430.2,99.3L429.9,101.2L429.7,103.1L429.6,105.0L429.5,107.0L429.4,109.0L429.5,111.1L429.6,113.1L429.6,114.9L429.3,116.6L428.7,118.2L427.8,119.9L426.8,121.6L425.7,123.2L424.5,124.7L423.0,126.1L421.2,127.7L419.4,129.1L417.7,130.3L416.6,131.2A2.3,2.3 0 0 0 419.4,134.8ZM415.7,133.0a2.3,2.3 0 1,0 4.6,0a2.3,2.3 0 1,0 -4.6,0ZM424.0,126.0a2.0,2.0 0 1,0 4.1,0a2.0,2.0 0 1,0 -4.1,0ZM429.2,117.0a1.8,1.8 0 1,0 3.5,0a1.8,1.8 0 1,0 -3.5,0ZM429.5,107.0a1.5,1.5 0 1,0 3.0,0a1.5,1.5 0 1,0 -3.0,0ZM430.7,98.0a1.3,1.3 0 1,0 2.6,0a1.3,1.3 0 1,0 -2.6,0ZM435.9,92.0a1.1,1.1 0 1,0 2.2,0a1.1,1.1 0 1,0 -2.2,0Z"/><path d="M432.9,119.1L433.5,118.5L434.4,117.8L435.4,116.9L436.5,115.9L437.7,115.0L439.2,114.0L441.0,112.8L442.8,111.6L444.4,110.6L445.5,109.9A1.0,1.0 0 0 0 444.5,108.1L444.5,108.1L443.3,108.8L441.7,109.8L439.8,110.9L437.9,112.0L436.3,113.0L435.0,113.9L433.7,114.9L432.6,115.7L431.7,116.4L431.1,116.9A1.4,1.4 0 0 0 432.9,119.1ZM430.6,118.0a1.4,1.4 0 1,0 2.8,0a1.4,1.4 0 1,0 -2.8,0ZM435.8,114.0a1.2,1.2 0 1,0 2.5,0a1.2,1.2 0 1,0 -2.5,0ZM444.0,109.0a1.0,1.0 0 1,0 2.0,0a1.0,1.0 0 1,0 -2.0,0Z"/><path d="M417.3,140.6L418.0,140.4L419.0,140.2L420.2,140.0L421.6,139.7L423.2,139.5L425.1,139.2L427.2,138.8L429.5,138.4L431.9,138.1L434.2,137.8L436.4,137.4L438.5,137.1L440.6,136.8L442.8,136.6L444.9,136.6L447.2,136.8L449.5,137.1L451.9,137.6L454.3,138.1L456.7,138.8L459.3,139.7L462.1,140.7L464.8,141.9L467.1,142.9L468.8,143.5A0.6,0.6 0 0 0 469.2,142.5L469.2,142.5L467.6,141.7L465.3,140.6L462.7,139.4L459.9,138.2L457.3,137.2L454.8,136.4L452.4,135.7L449.9,135.2L447.5,134.7L445.1,134.4L442.7,134.4L440.4,134.5L438.2,134.7L436.0,135.0L433.8,135.2L431.6,135.5L429.2,135.7L426.8,136.0L424.7,136.3L422.8,136.5L421.1,136.8L419.7,137.0L418.5,137.2L417.5,137.3L416.7,137.4A1.6,1.6 0 0 0 417.3,140.6ZM415.4,139.0a1.6,1.6 0 1,0 3.2,0a1.6,1.6 0 1,0 -3.2,0ZM421.5,138.0a1.5,1.5 0 1,0 3.0,0a1.5,1.5 0 1,0 -3.0,0ZM432.7,136.5a1.3,1.3 0 1,0 2.6,0a1.3,1.3 0 1,0 -2.6,0ZM443.9,135.5a1.1,1.1 0 1,0 2.1,0a1.1,1.1 0 1,0 -2.1,0ZM456.2,138.0a0.8,0.8 0 1,0 1.7,0a0.8,0.8 0 1,0 -1.7,0ZM468.4,143.0a0.6,0.6 0 1,0 1.2,0a0.6,0.6 0 1,0 -1.2,0Z"/><path d="M440.4,136.7L440.9,136.4L441.5,136.0L442.3,135.5L443.2,135.1L444.2,134.6L445.5,134.2L447.1,133.7L448.7,133.2L450.1,132.8L451.1,132.5A0.5,0.5 0 0 0 450.9,131.5L450.9,131.5L449.9,131.8L448.4,132.1L446.8,132.5L445.1,132.9L443.8,133.4L442.7,133.8L441.7,134.2L440.8,134.7L440.1,135.1L439.6,135.3A0.8,0.8 0 0 0 440.4,136.7ZM439.2,136.0a0.8,0.8 0 1,0 1.6,0a0.8,0.8 0 1,0 -1.6,0ZM443.3,134.0a0.7,0.7 0 1,0 1.4,0a0.7,0.7 0 1,0 -1.4,0ZM450.5,132.0a0.5,0.5 0 1,0 1.0,0a0.5,0.5 0 1,0 -1.0,0Z"/><path d="M414.9,143.2L416.0,144.1L417.4,145.3L419.2,146.8L421.3,148.3L423.5,149.3L425.9,149.8L428.3,150.0L430.8,150.0L433.3,150.0L435.9,150.2L438.7,150.4L441.8,150.7L444.9,151.1L447.9,151.4L450.8,151.9L453.8,152.4L456.8,153.0L459.7,153.7L462.1,154.2L463.9,154.6A0.6,0.6 0 0 0 464.1,153.4L464.1,153.4L462.4,152.9L460.0,152.3L457.1,151.5L454.1,150.8L451.2,150.1L448.2,149.6L445.1,149.1L442.0,148.6L439.0,148.2L436.1,147.8L433.4,147.6L430.8,147.5L428.4,147.4L426.3,147.2L424.5,146.7L422.8,145.8L421.0,144.5L419.4,143.1L418.1,141.7L417.1,140.8A1.6,1.6 0 0 0 414.9,143.2ZM414.4,142.0a1.6,1.6 0 1,0 3.2,0a1.6,1.6 0 1,0 -3.2,0ZM422.6,148.0a1.4,1.4 0 1,0 2.8,0a1.4,1.4 0 1,0 -2.8,0ZM434.8,149.0a1.2,1.2 0 1,0 2.3,0a1.2,1.2 0 1,0 -2.3,0ZM450.1,151.0a0.9,0.9 0 1,0 1.7,0a0.9,0.9 0 1,0 -1.7,0ZM463.4,154.0a0.6,0.6 0 1,0 1.2,0a0.6,0.6 0 1,0 -1.2,0Z"/><path d="M424.6,151.8L425.6,152.3L427.1,153.2L428.9,154.1L430.8,155.1L432.8,155.7L434.9,156.1L437.3,156.4L439.6,156.5L441.6,156.5L443.0,156.6A0.6,0.6 0 0 0 443.0,155.4L443.0,155.4L441.6,155.3L439.7,155.2L437.4,155.0L435.1,154.7L433.2,154.3L431.5,153.6L429.6,152.7L427.9,151.7L426.5,150.8L425.4,150.2A0.9,0.9 0 0 0 424.6,151.8ZM424.1,151.0a0.9,0.9 0 1,0 1.8,0a0.9,0.9 0 1,0 -1.8,0ZM432.2,155.0a0.8,0.8 0 1,0 1.5,0a0.8,0.8 0 1,0 -1.5,0ZM442.4,156.0a0.6,0.6 0 1,0 1.2,0a0.6,0.6 0 1,0 -1.2,0Z"/><path d="M279.8,162.0L278.8,162.1L277.5,162.2L275.9,162.3L274.0,162.5L271.8,162.6L269.3,162.8L266.2,163.0L263.0,163.2L259.7,163.5L256.6,163.8L253.8,164.3L251.2,164.9L248.8,165.5L246.7,166.1L244.6,166.5L242.5,166.8L240.4,167.1L238.5,167.3L236.7,167.4L235.2,167.4L234.0,167.2L233.0,167.0L232.1,166.7L231.2,166.3L230.2,165.9L229.4,165.4L228.5,164.7L227.5,163.9L226.4,163.0L225.0,162.2L223.7,161.6L222.3,161.2L221.0,160.9L219.6,160.7L218.1,160.6L216.7,160.6L215.2,160.6L213.7,160.8L212.0,161.1L210.4,161.6L208.8,162.3L207.1,163.2L205.4,164.2L203.8,165.4L202.3,166.7L200.8,168.4L199.4,170.4L198.2,172.4L197.1,174.1L196.4,175.3A1.3,1.3 0 0 0 198.6,176.7L198.6,176.7L199.4,175.6L200.5,174.0L201.8,172.1L203.2,170.4L204.5,169.1L205.8,168.0L207.3,167.1L208.7,166.3L210.2,165.7L211.6,165.2L212.9,164.8L214.1,164.7L215.4,164.6L216.6,164.7L217.9,164.8L219.0,164.9L220.1,165.1L221.1,165.4L222.1,165.8L223.0,166.2L223.7,166.7L224.5,167.4L225.4,168.3L226.5,169.3L227.8,170.1L229.0,170.8L230.2,171.4L231.5,171.9L233.0,172.4L234.8,172.6L236.7,172.8L238.7,172.8L240.9,172.7L243.1,172.5L245.4,172.3L247.8,172.0L250.2,171.5L252.5,171.1L254.9,170.7L257.4,170.4L260.1,170.2L263.3,170.2L266.5,170.2L269.5,170.2L272.2,170.2L274.4,170.1L276.3,170.1L277.9,170.0L279.2,170.0L280.2,170.0A4.0,4.0 0 0 0 279.8,162.0ZM276.0,166.0a4.0,4.0 0 1,0 8.0,0a4.0,4.0 0 1,0 -8.0,0ZM268.2,166.4a3.8,3.8 0 1,0 7.5,0a3.8,3.8 0 1,0 -7.5,0ZM253.7,167.1a3.3,3.3 0 1,0 6.6,0a3.3,3.3 0 1,0 -6.6,0ZM242.1,169.4a2.9,2.9 0 1,0 5.9,0a2.9,2.9 0 1,0 -5.9,0ZM232.4,170.0a2.6,2.6 0 1,0 5.3,0a2.6,2.6 0 1,0 -5.3,0ZM226.5,168.0a2.5,2.5 0 1,0 4.9,0a2.5,2.5 0 1,0 -4.9,0ZM221.7,164.2a2.3,2.3 0 1,0 4.5,0a2.3,2.3 0 1,0 -4.5,0ZM215.9,162.7a2.1,2.1 0 1,0 4.2,0a2.1,2.1 0 1,0 -4.2,0ZM209.1,163.4a1.9,1.9 0 1,0 3.7,0a1.9,1.9 0 1,0 -3.7,0ZM201.8,167.9a1.6,1.6 0 1,0 3.2,0a1.6,1.6 0 1,0 -3.2,0ZM196.2,176.0a1.3,1.3 0 1,0 2.6,0a1.3,1.3 0 1,0 -2.6,0Z"/><path d="M280.4,176.3L279.0,177.0L277.2,178.0L275.0,179.0L272.8,180.0L270.7,180.9L268.8,181.7L266.9,182.4L264.9,183.0L263.0,183.6L261.0,184.1L258.8,184.5L256.5,184.8L254.2,185.0L251.9,185.1L249.7,185.2L247.7,185.1L245.7,184.8L243.6,184.5L241.4,184.2L239.2,184.0L237.1,183.9L235.0,183.9L232.9,183.9L230.8,184.1L228.6,184.4L226.5,184.9L224.5,185.7L222.6,186.4L220.9,187.2L219.4,187.8L218.0,188.3L216.8,188.8L215.7,189.2L214.9,189.4L214.2,189.4L213.6,189.2L212.8,188.8L212.0,188.2L211.1,187.5L210.3,186.9L209.7,186.4L209.2,185.9L208.7,185.4L208.3,185.0L208.0,184.6A1.3,1.3 0 0 0 206.0,186.4L206.0,186.4L206.3,186.7L206.7,187.2L207.2,187.8L207.8,188.4L208.5,189.1L209.2,189.7L210.1,190.5L211.1,191.4L212.3,192.1L213.8,192.6L215.2,192.7L216.6,192.4L217.9,192.1L219.2,191.6L220.6,191.2L222.2,190.7L224.0,190.1L225.9,189.5L227.6,188.9L229.4,188.6L231.1,188.5L232.9,188.5L234.8,188.6L236.8,188.8L238.8,189.0L240.7,189.3L242.7,189.7L244.8,190.2L247.1,190.6L249.5,190.8L251.9,191.0L254.4,191.0L257.0,190.9L259.6,190.8L262.0,190.5L264.4,190.1L266.7,189.6L269.0,189.0L271.1,188.4L273.3,187.7L275.6,186.9L278.0,185.9L280.3,185.0L282.3,184.2L283.6,183.7A4.0,4.0 0 0 0 280.4,176.3ZM278.0,180.0a4.0,4.0 0 1,0 8.0,0a4.0,4.0 0 1,0 -8.0,0ZM268.4,184.3a3.6,3.6 0 1,0 7.3,0a3.6,3.6 0 1,0 -7.3,0ZM258.2,187.3a3.3,3.3 0 1,0 6.5,0a3.3,3.3 0 1,0 -6.5,0ZM246.8,188.0a2.8,2.8 0 1,0 5.7,0a2.8,2.8 0 1,0 -5.7,0ZM236.5,186.5a2.5,2.5 0 1,0 5.0,0a2.5,2.5 0 1,0 -5.0,0ZM226.9,186.5a2.1,2.1 0 1,0 4.3,0a2.1,2.1 0 1,0 -4.3,0ZM218.2,189.5a1.8,1.8 0 1,0 3.6,0a1.8,1.8 0 1,0 -3.6,0ZM212.4,191.0a1.6,1.6 0 1,0 3.2,0a1.6,1.6 0 1,0 -3.2,0ZM208.0,188.0a1.4,1.4 0 1,0 2.8,0a1.4,1.4 0 1,0 -2.8,0ZM205.7,185.5a1.3,1.3 0 1,0 2.6,0a1.3,1.3 0 1,0 -2.6,0Z"/><path d="M251.3,187.4L249.9,188.0L247.9,188.7L245.6,189.6L243.3,190.6L241.2,191.6L239.5,192.5L237.9,193.5L236.5,194.6L235.2,195.5L233.9,196.4L232.6,197.3L231.4,198.1L230.2,199.0L229.1,199.7L228.1,200.3L227.2,200.7L226.2,201.1L225.3,201.5L224.5,201.7L224.0,202.0A1.1,1.1 0 0 0 224.6,204.0L224.6,204.0L225.2,203.9L226.0,203.7L227.0,203.4L228.1,203.0L229.3,202.5L230.4,201.9L231.6,201.3L232.9,200.5L234.2,199.8L235.5,199.0L236.9,198.2L238.3,197.3L239.7,196.4L241.2,195.6L242.8,194.8L244.7,194.1L247.0,193.3L249.3,192.6L251.3,192.0L252.7,191.6A2.2,2.2 0 0 0 251.3,187.4ZM249.8,189.5a2.2,2.2 0 1,0 4.4,0a2.2,2.2 0 1,0 -4.4,0ZM240.2,193.2a1.8,1.8 0 1,0 3.6,0a1.8,1.8 0 1,0 -3.6,0ZM233.2,197.7a1.5,1.5 0 1,0 3.0,0a1.5,1.5 0 1,0 -3.0,0ZM227.4,201.4a1.3,1.3 0 1,0 2.5,0a1.3,1.3 0 1,0 -2.5,0ZM223.2,203.0a1.1,1.1 0 1,0 2.2,0a1.1,1.1 0 1,0 -2.2,0Z"/><path d="M324.1,211.0L322.6,211.0L320.6,211.1L318.1,211.1L315.4,211.2L312.7,211.3L310.1,211.7L307.3,212.1L304.6,212.6L302.0,213.1L299.7,213.4L297.7,213.6L295.8,213.7L293.9,213.8L291.9,213.8L289.7,214.0L287.5,214.4L285.3,214.7L283.1,215.2L281.0,215.6L279.0,216.0L277.1,216.4L275.3,216.7L273.6,217.1L271.9,217.4L270.3,217.6L268.7,217.7L267.0,217.7L265.2,217.6L263.2,217.7L261.2,217.9L259.1,218.4L257.3,219.1L255.5,219.9L253.7,220.6L252.0,221.3L250.3,221.8L248.5,222.4L246.8,223.0L245.2,223.4L243.5,223.7L241.8,223.9L239.9,223.9L237.9,223.8L236.3,223.7L235.1,223.7A1.3,1.3 0 0 0 234.9,226.3L234.9,226.3L236.1,226.4L237.7,226.6L239.7,226.8L241.8,226.9L243.9,226.9L245.8,226.6L247.7,226.2L249.5,225.8L251.3,225.2L253.2,224.7L255.0,224.2L256.9,223.5L258.6,222.9L260.3,222.4L261.8,222.1L263.4,222.0L265.0,222.1L266.8,222.2L268.7,222.4L270.7,222.4L272.6,222.2L274.4,222.0L276.2,221.8L278.0,221.5L279.8,221.2L281.9,221.0L284.0,220.7L286.2,220.4L288.3,220.1L290.3,220.0L292.1,219.9L293.9,220.0L295.8,220.0L297.9,220.0L300.3,220.0L302.9,219.8L305.6,219.4L308.3,219.1L310.9,218.8L313.3,218.7L315.6,218.6L318.1,218.7L320.4,218.8L322.4,218.9L323.9,219.0A4.0,4.0 0 0 0 324.1,211.0ZM320.0,215.0a4.0,4.0 0 1,0 8.0,0a4.0,4.0 0 1,0 -8.0,0ZM309.3,215.0a3.7,3.7 0 1,0 7.3,0a3.7,3.7 0 1,0 -7.3,0ZM296.7,216.7a3.3,3.3 0 1,0 6.6,0a3.3,3.3 0 1,0 -6.6,0ZM287.0,217.0a3.0,3.0 0 1,0 6.0,0a3.0,3.0 0 1,0 -6.0,0ZM276.7,218.6a2.7,2.7 0 1,0 5.3,0a2.7,2.7 0 1,0 -5.3,0ZM268.1,220.0a2.4,2.4 0 1,0 4.8,0a2.4,2.4 0 1,0 -4.8,0ZM259.4,220.0a2.1,2.1 0 1,0 4.2,0a2.1,2.1 0 1,0 -4.2,0ZM250.8,223.0a1.8,1.8 0 1,0 3.7,0a1.8,1.8 0 1,0 -3.7,0ZM242.1,225.3a1.6,1.6 0 1,0 3.1,0a1.6,1.6 0 1,0 -3.1,0ZM233.7,225.0a1.3,1.3 0 1,0 2.6,0a1.3,1.3 0 1,0 -2.6,0Z"/><path d="M274.3,220.1L272.9,220.7L270.7,221.6L268.3,222.6L265.8,223.6L263.8,224.6L262.2,225.7L260.8,226.8L259.6,227.8L258.7,228.7L257.8,229.5L257.0,230.1L256.3,230.7L255.8,231.1L255.3,231.5L255.0,231.8A1.1,1.1 0 0 0 256.2,233.6L256.2,233.6L256.6,233.4L257.1,233.0L257.7,232.6L258.5,232.1L259.4,231.5L260.4,230.7L261.4,229.9L262.6,229.0L263.8,228.1L265.2,227.4L267.1,226.6L269.5,225.8L271.9,225.0L274.1,224.3L275.7,223.9A2.0,2.0 0 0 0 274.3,220.1ZM273.0,222.0a2.0,2.0 0 1,0 4.0,0a2.0,2.0 0 1,0 -4.0,0ZM263.0,226.0a1.5,1.5 0 1,0 3.1,0a1.5,1.5 0 1,0 -3.1,0ZM257.4,230.5a1.2,1.2 0 1,0 2.5,0a1.2,1.2 0 1,0 -2.5,0ZM254.5,232.7a1.1,1.1 0 1,0 2.2,0a1.1,1.1 0 1,0 -2.2,0Z"/><path d="M316.2,214.9L315.2,215.8L313.8,217.1L312.2,218.5L310.5,219.9L308.7,221.1L306.7,222.3L304.4,223.5L302.0,224.7L299.8,225.6L297.9,226.1L296.6,226.3L295.4,226.1L293.9,225.6L292.1,225.2L290.0,225.0L287.8,225.3L285.5,225.8L283.2,226.3L281.1,226.9L279.0,227.4L277.0,227.9L275.2,228.6L273.5,229.2L271.9,229.6L270.5,229.8L269.1,229.7L267.4,229.3L265.9,228.7L264.4,228.2L263.4,227.9A1.2,1.2 0 0 0 262.6,230.1L262.6,230.1L263.5,230.5L264.9,231.1L266.6,231.8L268.5,232.4L270.5,232.6L272.4,232.5L274.3,232.1L276.1,231.6L277.9,231.0L279.8,230.6L281.8,230.2L284.0,229.8L286.2,229.4L288.2,229.1L290.0,229.0L291.4,229.1L292.7,229.5L294.3,230.1L296.3,230.5L298.7,230.5L301.2,229.9L303.8,229.0L306.4,227.9L309.0,226.7L311.3,225.5L313.5,224.1L315.5,222.6L317.3,221.2L318.8,219.9L319.8,219.1A2.8,2.8 0 0 0 316.2,214.9ZM315.2,217.0a2.8,2.8 0 1,0 5.6,0a2.8,2.8 0 1,0 -5.6,0ZM307.5,223.3a2.5,2.5 0 1,0 5.0,0a2.5,2.5 0 1,0 -5.0,0ZM296.1,228.3a2.2,2.2 0 1,0 4.4,0a2.2,2.2 0 1,0 -4.4,0ZM288.0,227.0a2.0,2.0 0 1,0 3.9,0a2.0,2.0 0 1,0 -3.9,0ZM277.7,229.0a1.7,1.7 0 1,0 3.3,0a1.7,1.7 0 1,0 -3.3,0ZM269.1,231.2a1.4,1.4 0 1,0 2.8,0a1.4,1.4 0 1,0 -2.8,0ZM261.8,229.0a1.2,1.2 0 1,0 2.4,0a1.2,1.2 0 1,0 -2.4,0Z"/><path d="M383.1,251.8L383.1,252.9L383.1,254.2L383.1,255.6L382.9,257.2L382.4,259.1L381.4,261.4L380.0,264.3L378.4,267.4L376.8,270.6L375.4,273.6L374.3,276.4L373.2,279.1L372.3,281.7L371.5,284.1L370.9,286.5L370.4,288.7L370.1,290.9L369.9,292.8L369.9,294.3L369.8,295.5A1.3,1.3 0 0 0 372.4,295.7L372.4,295.7L372.6,294.6L372.8,293.1L373.0,291.3L373.4,289.3L373.9,287.3L374.7,285.2L375.6,282.9L376.7,280.5L377.9,278.0L379.2,275.4L380.7,272.6L382.4,269.6L384.2,266.6L385.9,263.6L387.2,260.9L388.1,258.5L388.5,256.3L388.7,254.4L388.8,253.1L388.9,252.2A2.9,2.9 0 0 0 383.1,251.8ZM383.1,252.0a2.9,2.9 0 1,0 5.8,0a2.9,2.9 0 1,0 -5.8,0ZM382.2,260.0a2.6,2.6 0 1,0 5.2,0a2.6,2.6 0 1,0 -5.2,0ZM375.2,274.5a2.1,2.1 0 1,0 4.1,0a2.1,2.1 0 1,0 -4.1,0ZM370.8,286.9a1.6,1.6 0 1,0 3.2,0a1.6,1.6 0 1,0 -3.2,0ZM369.8,295.6a1.3,1.3 0 1,0 2.6,0a1.3,1.3 0 1,0 -2.6,0Z"/><path d="M383.4,255.3L383.2,256.1L382.8,257.5L382.3,259.5L382.2,262.1L382.6,265.5L383.8,269.7L385.5,274.9L387.4,280.4L389.2,285.6L390.6,289.9L391.5,293.1L392.1,295.7L392.6,297.8L393.0,299.8L393.2,301.9L393.2,304.3L393.1,306.8L392.8,309.2L392.5,311.3L392.3,312.8A1.2,1.2 0 0 0 394.7,313.2L394.7,313.2L395.0,311.7L395.4,309.6L395.8,307.1L396.1,304.5L396.2,301.9L396.1,299.5L395.8,297.3L395.4,295.0L394.8,292.3L394.0,288.9L392.9,284.5L391.3,279.1L389.7,273.6L388.3,268.5L387.4,264.5L387.2,262.0L387.4,260.2L387.8,259.0L388.3,257.8L388.6,256.7A2.7,2.7 0 0 0 383.4,255.3ZM383.3,256.0a2.7,2.7 0 1,0 5.4,0a2.7,2.7 0 1,0 -5.4,0ZM382.5,265.0a2.5,2.5 0 1,0 4.9,0a2.5,2.5 0 1,0 -4.9,0ZM390.5,289.4a1.8,1.8 0 1,0 3.6,0a1.8,1.8 0 1,0 -3.6,0ZM393.2,301.9a1.5,1.5 0 1,0 3.0,0a1.5,1.5 0 1,0 -3.0,0ZM392.3,313.0a1.2,1.2 0 1,0 2.4,0a1.2,1.2 0 1,0 -2.4,0Z"/><path d="M392.4,300.5L393.7,301.0L395.4,301.6L397.5,302.4L399.5,303.3L401.3,304.3L402.9,305.2L404.4,306.2L405.8,307.3L407.2,308.5L408.7,310.1L410.3,312.3L412.0,315.0L413.7,317.9L415.1,320.5L416.1,322.2A1.1,1.1 0 0 0 418.1,321.2L418.1,321.2L417.1,319.4L415.7,316.8L414.1,313.8L412.4,310.9L410.7,308.5L409.2,306.7L407.6,305.2L406.0,303.9L404.4,302.8L402.7,301.7L400.8,300.7L398.7,299.7L396.6,298.8L394.8,298.0L393.6,297.5A1.6,1.6 0 0 0 392.4,300.5ZM391.4,299.0a1.6,1.6 0 1,0 3.2,0a1.6,1.6 0 1,0 -3.2,0ZM400.5,303.0a1.5,1.5 0 1,0 2.9,0a1.5,1.5 0 1,0 -2.9,0ZM408.4,309.3a1.3,1.3 0 1,0 2.6,0a1.3,1.3 0 1,0 -2.6,0ZM416.0,321.7a1.1,1.1 0 1,0 2.2,0a1.1,1.1 0 1,0 -2.2,0Z"/><path d="M393.6,304.3L393.9,305.6L394.3,307.5L394.8,309.8L395.3,312.1L395.8,314.3L396.4,316.5L397.1,318.8L397.7,321.1L398.3,323.1L398.7,324.5A1.0,1.0 0 0 0 400.7,323.9L400.7,323.9L400.3,322.5L399.8,320.6L399.2,318.3L398.7,315.9L398.2,313.7L397.7,311.6L397.3,309.3L396.9,307.0L396.6,305.1L396.4,303.7A1.4,1.4 0 0 0 393.6,304.3ZM393.6,304.0a1.4,1.4 0 1,0 2.8,0a1.4,1.4 0 1,0 -2.8,0ZM395.8,314.0a1.2,1.2 0 1,0 2.4,0a1.2,1.2 0 1,0 -2.4,0ZM398.7,324.2a1.0,1.0 0 1,0 2.0,0a1.0,1.0 0 1,0 -2.0,0Z"/><path d="M388.8,263.2L389.8,264.1L391.3,265.1L392.9,266.5L394.5,268.1L396.0,270.2L397.6,273.2L399.4,277.1L401.2,281.1L402.7,284.8L403.8,287.3A1.0,1.0 0 0 0 405.6,286.5L405.6,286.5L404.7,284.0L403.3,280.3L401.7,276.1L400.0,272.1L398.4,268.8L396.7,266.3L394.9,264.4L393.2,262.8L391.8,261.7L390.8,260.8A1.6,1.6 0 0 0 388.8,263.2ZM388.2,262.0a1.6,1.6 0 1,0 3.2,0a1.6,1.6 0 1,0 -3.2,0ZM395.8,269.5a1.4,1.4 0 1,0 2.8,0a1.4,1.4 0 1,0 -2.8,0ZM403.7,286.9a1.0,1.0 0 1,0 2.0,0a1.0,1.0 0 1,0 -2.0,0Z"/><path d="M389.4,239.3L390.7,240.8L392.6,242.9L394.6,245.3L396.6,247.9L398.2,250.5L399.5,253.0L400.5,255.8L401.5,258.7L402.4,261.8L403.4,265.0L404.6,268.5L405.8,272.5L407.0,276.5L408.1,279.9L408.8,282.2A0.9,0.9 0 0 0 410.6,281.8L410.6,281.8L410.0,279.3L409.1,275.9L408.0,271.9L407.0,267.9L406.0,264.2L405.1,261.0L404.3,257.9L403.4,254.8L402.4,251.8L401.2,248.9L399.5,246.0L397.5,243.1L395.5,240.5L393.7,238.3L392.6,236.7A2.0,2.0 0 0 0 389.4,239.3ZM389.0,238.0a2.0,2.0 0 1,0 4.0,0a2.0,2.0 0 1,0 -4.0,0ZM398.0,249.7a1.7,1.7 0 1,0 3.3,0a1.7,1.7 0 1,0 -3.3,0ZM403.4,264.6a1.3,1.3 0 1,0 2.6,0a1.3,1.3 0 1,0 -2.6,0ZM408.8,282.0a0.9,0.9 0 1,0 1.8,0a0.9,0.9 0 1,0 -1.8,0Z"/><path d="M394.0,235.7L394.8,236.1L395.8,236.6L397.0,237.3L398.5,238.0L400.2,238.8L402.2,239.7L404.5,240.5L406.9,241.4L409.2,242.4L411.3,243.5L413.4,244.7L415.5,246.2L417.5,247.8L419.5,249.3L421.4,250.6L423.2,251.8L425.0,253.0L426.7,254.0L428.0,254.8L429.0,255.4A0.9,0.9 0 0 0 430.0,253.8L430.0,253.8L429.0,253.2L427.7,252.3L426.2,251.2L424.5,250.0L422.8,248.8L421.0,247.4L419.1,245.8L417.1,244.1L415.0,242.4L412.9,240.9L410.6,239.6L408.1,238.5L405.8,237.4L403.6,236.4L401.8,235.6L400.2,234.7L398.8,234.0L397.7,233.3L396.7,232.7L396.0,232.3A2.0,2.0 0 0 0 394.0,235.7ZM393.0,234.0a2.0,2.0 0 1,0 4.0,0a2.0,2.0 0 1,0 -4.0,0ZM399.2,237.2a1.8,1.8 0 1,0 3.6,0a1.8,1.8 0 1,0 -3.6,0ZM410.6,242.2a1.5,1.5 0 1,0 3.0,0a1.5,1.5 0 1,0 -3.0,0ZM421.0,249.7a1.1,1.1 0 1,0 2.3,0a1.1,1.1 0 1,0 -2.3,0ZM428.6,254.6a0.9,0.9 0 1,0 1.8,0a0.9,0.9 0 1,0 -1.8,0Z"/><path d="M398.7,247.3L399.3,247.9L400.2,248.7L401.2,249.7L402.4,250.9L403.8,252.2L405.4,253.7L407.1,255.5L409.1,257.4L411.4,259.3L413.9,260.9L416.6,262.1L419.6,263.2L422.7,264.1L425.9,264.9L429.2,265.8L432.8,266.6L436.9,267.4L440.9,268.1L444.3,268.8L446.7,269.2A0.9,0.9 0 0 0 447.1,267.4L447.1,267.4L444.7,266.9L441.3,266.1L437.3,265.3L433.4,264.4L429.8,263.4L426.6,262.5L423.5,261.6L420.5,260.6L417.8,259.6L415.3,258.3L413.2,256.8L411.2,255.1L409.4,253.2L407.7,251.4L406.2,249.8L404.8,248.5L403.7,247.3L402.7,246.2L401.9,245.4L401.3,244.7A1.8,1.8 0 0 0 398.7,247.3ZM398.2,246.0a1.8,1.8 0 1,0 3.6,0a1.8,1.8 0 1,0 -3.6,0ZM403.3,251.0a1.7,1.7 0 1,0 3.4,0a1.7,1.7 0 1,0 -3.4,0ZM413.1,259.6a1.5,1.5 0 1,0 2.9,0a1.5,1.5 0 1,0 -2.9,0ZM428.3,264.6a1.2,1.2 0 1,0 2.4,0a1.2,1.2 0 1,0 -2.4,0ZM446.0,268.3a0.9,0.9 0 1,0 1.8,0a0.9,0.9 0 1,0 -1.8,0Z"/><path d="M424.2,264.0L425.0,264.6L426.2,265.5L427.6,266.6L428.9,267.7L430.2,268.8L431.5,270.0L432.9,271.5L434.3,273.0L435.5,274.2L436.3,275.1A0.9,0.9 0 0 0 437.7,273.9L437.7,273.9L436.9,273.0L435.8,271.6L434.4,270.1L433.1,268.6L431.8,267.2L430.5,266.0L429.1,264.7L427.7,263.6L426.6,262.7L425.8,262.0A1.3,1.3 0 0 0 424.2,264.0ZM423.7,263.0a1.3,1.3 0 1,0 2.6,0a1.3,1.3 0 1,0 -2.6,0ZM429.9,268.0a1.1,1.1 0 1,0 2.2,0a1.1,1.1 0 1,0 -2.2,0ZM436.1,274.5a0.9,0.9 0 1,0 1.8,0a0.9,0.9 0 1,0 -1.8,0Z"/><path d="M396.5,245.7L397.8,246.8L399.6,248.3L401.7,250.1L403.7,251.9L405.4,253.5L406.7,254.9L407.8,256.2L408.8,257.5L409.9,259.1L411.3,261.1L412.9,263.6L414.7,266.6L416.6,269.7L418.6,272.8L420.6,275.6L422.6,278.0L424.6,280.0L426.6,281.8L428.6,283.7L430.8,285.7L433.3,288.0L435.9,290.5L438.6,293.0L441.2,295.4L443.3,297.9L445.2,300.2L446.7,302.4L448.1,304.7L449.4,307.1L450.7,309.8L451.9,313.0L453.1,316.5L454.2,320.2L455.1,323.7L455.8,326.9L456.1,329.8L456.2,332.6L456.1,335.2L456.0,337.4L455.9,339.1A1.0,1.0 0 0 0 457.9,339.1L457.9,339.1L458.0,337.6L458.2,335.3L458.3,332.6L458.3,329.6L458.0,326.5L457.4,323.2L456.6,319.5L455.5,315.8L454.4,312.1L453.1,308.8L451.9,305.9L450.6,303.3L449.2,300.8L447.5,298.4L445.7,295.9L443.4,293.3L440.8,290.7L438.2,288.1L435.6,285.6L433.2,283.3L431.0,281.2L429.0,279.3L427.1,277.4L425.3,275.5L423.6,273.4L421.8,270.7L419.9,267.7L418.1,264.5L416.3,261.5L414.7,258.9L413.4,256.8L412.2,255.1L411.1,253.6L410.0,252.1L408.6,250.5L406.7,248.7L404.6,246.7L402.6,244.9L400.7,243.4L399.5,242.3A2.3,2.3 0 0 0 396.5,245.7ZM395.7,244.0a2.3,2.3 0 1,0 4.6,0a2.3,2.3 0 1,0 -4.6,0ZM404.8,252.0a2.2,2.2 0 1,0 4.3,0a2.2,2.2 0 1,0 -4.3,0ZM410.9,260.0a2.1,2.1 0 1,0 4.1,0a2.1,2.1 0 1,0 -4.1,0ZM420.2,274.5a1.9,1.9 0 1,0 3.7,0a1.9,1.9 0 1,0 -3.7,0ZM430.3,284.5a1.7,1.7 0 1,0 3.4,0a1.7,1.7 0 1,0 -3.4,0ZM443.0,296.9a1.5,1.5 0 1,0 3.0,0a1.5,1.5 0 1,0 -3.0,0ZM450.6,309.3a1.3,1.3 0 1,0 2.7,0a1.3,1.3 0 1,0 -2.7,0ZM455.8,326.7a1.1,1.1 0 1,0 2.3,0a1.1,1.1 0 1,0 -2.3,0ZM455.9,339.1a1.0,1.0 0 1,0 2.0,0a1.0,1.0 0 1,0 -2.0,0Z"/><path d="M450.4,308.4L451.4,308.8L452.8,309.3L454.4,309.9L456.0,310.5L457.4,311.2L458.7,311.9L460.1,312.6L461.4,313.3L462.5,314.1L463.4,315.0L464.0,316.2L464.6,317.7L465.1,319.4L465.5,320.9L465.8,322.0A1.0,1.0 0 0 0 467.8,321.4L467.8,321.4L467.5,320.4L467.2,318.9L466.7,317.1L466.1,315.2L465.2,313.6L464.1,312.3L462.8,311.3L461.4,310.4L460.0,309.6L458.6,308.8L457.1,308.0L455.5,307.3L453.9,306.6L452.5,306.0L451.6,305.6A1.5,1.5 0 0 0 450.4,308.4ZM449.5,307.0a1.5,1.5 0 1,0 3.0,0a1.5,1.5 0 1,0 -3.0,0ZM456.7,310.0a1.3,1.3 0 1,0 2.7,0a1.3,1.3 0 1,0 -2.7,0ZM463.1,314.3a1.2,1.2 0 1,0 2.3,0a1.2,1.2 0 1,0 -2.3,0ZM465.8,321.7a1.0,1.0 0 1,0 2.0,0a1.0,1.0 0 1,0 -2.0,0Z"/></g>
<clipPath id="sc"><path d="M301.0,152.0 L301.7,150.0 L302.4,147.7 L303.2,145.2 L303.7,142.6 L304.0,140.0 L304.0,137.3 L303.8,134.4 L303.3,131.4 L302.7,128.6 L302.0,126.0 L300.8,123.7 L299.3,121.5 L297.7,119.5 L296.4,117.7 L296.0,116.0 L296.6,114.4 L297.8,112.9 L299.5,111.6 L301.3,110.6 L303.0,110.0 L304.5,110.0 L306.1,110.5 L307.8,111.2 L309.4,112.0 L311.0,112.5 L312.6,112.9 L314.1,113.2 L315.7,113.5 L317.3,113.6 L319.0,113.5 L320.9,113.2 L323.0,112.8 L325.1,112.2 L327.2,111.5 L329.0,110.5 L330.6,109.3 L332.0,107.8 L333.3,106.1 L334.6,104.5 L336.0,103.0 L337.5,101.6 L339.1,100.2 L340.8,98.8 L342.4,97.7 L344.0,97.0 L345.7,96.7 L347.4,96.7 L349.2,96.9 L350.7,97.4 L352.0,98.0 L352.9,98.8 L353.4,99.9 L353.8,101.1 L354.3,102.5 L355.0,104.0 L356.0,105.6 L357.0,107.4 L358.2,109.3 L359.6,111.2 L361.0,113.0 L362.6,114.7 L364.3,116.4 L366.2,118.0 L368.1,119.5 L370.0,121.0 L371.9,122.4 L373.7,123.7 L375.6,124.9 L377.7,126.0 L380.0,127.0 L382.7,127.8 L385.6,128.5 L388.8,129.1 L391.9,129.6 L395.0,130.0 L398.1,130.3 L401.2,130.4 L404.3,130.5 L407.3,130.6 L410.0,131.0 L412.6,131.6 L415.3,132.2 L417.7,133.0 L419.6,134.0 L421.0,135.0 L421.8,136.2 L422.0,137.7 L421.8,139.2 L421.2,140.7 L420.0,142.0 L418.0,143.1 L415.3,144.0 L412.2,144.8 L409.3,145.8 L407.0,147.0 L405.4,148.6 L404.1,150.4 L403.2,152.3 L402.5,154.2 L402.0,156.0 L401.7,157.7 L401.7,159.3 L402.0,160.9 L402.4,162.5 L403.0,164.0 L403.8,165.5 L404.8,166.9 L406.1,168.3 L407.5,169.7 L409.0,171.0 L410.7,172.3 L412.5,173.5 L414.4,174.6 L416.6,175.8 L419.0,177.0 L421.6,178.2 L424.4,179.4 L427.5,180.6 L430.7,181.8 L434.0,183.0 L437.5,184.1 L441.3,185.3 L445.1,186.4 L449.1,187.5 L453.0,188.5 L456.8,189.5 L460.6,190.4 L464.4,191.3 L468.5,192.2 L473.0,193.0 L478.0,193.8 L483.5,194.5 L489.2,195.3 L494.8,195.9 L500.0,196.5 L504.8,197.0 L509.4,197.4 L513.9,197.8 L518.1,198.2 L522.0,198.5 L525.8,198.6 L529.6,198.5 L533.0,198.5 L535.9,198.8 L538.0,200.0 L539.3,202.4 L539.9,205.7 L539.9,209.3 L539.3,212.6 L538.0,215.0 L535.9,216.2 L533.0,216.8 L529.6,216.8 L525.8,216.7 L522.0,216.5 L518.0,216.2 L513.5,215.7 L508.9,215.1 L504.4,214.5 L500.0,214.0 L496.0,213.7 L492.3,213.5 L488.6,213.3 L484.6,213.2 L480.0,213.0 L474.6,212.8 L468.5,212.6 L462.1,212.3 L455.8,212.1 L450.0,212.0 L444.6,211.9 L439.5,211.8 L434.5,211.8 L429.7,211.9 L425.0,212.0 L420.2,212.2 L415.3,212.4 L410.6,212.7 L406.4,213.2 L403.0,214.0 L400.7,215.1 L399.2,216.6 L398.2,218.2 L397.2,219.8 L396.0,221.0 L394.4,221.9 L392.8,222.7 L391.2,223.4 L389.6,223.8 L388.0,224.0 L386.6,224.0 L385.2,223.9 L383.8,223.5 L382.4,222.9 L381.0,222.0 L379.5,220.6 L378.1,218.8 L376.6,216.8 L374.9,214.8 L373.0,213.0 L370.7,211.4 L368.2,209.8 L365.5,208.3 L362.7,207.0 L360.0,206.0 L357.2,205.4 L354.3,205.0 L351.4,204.9 L348.6,204.9 L346.0,205.0 L343.6,205.1 L341.3,205.4 L339.1,205.8 L337.0,206.3 L335.0,207.0 L333.0,208.2 L331.1,209.8 L329.3,211.4 L327.6,212.6 L326.0,213.0 L324.5,212.3 L323.1,210.9 L321.8,209.0 L320.8,207.0 L320.0,205.0 L319.7,203.1 L319.7,201.0 L319.9,199.0 L320.1,196.9 L320.0,195.0 L319.7,193.2 L319.2,191.6 L318.6,190.0 L317.9,188.4 L317.0,187.0 L315.9,185.6 L314.6,184.4 L313.2,183.2 L311.7,182.0 L310.0,181.0 L308.2,180.0 L306.2,179.1 L304.1,178.2 L302.0,177.5 L300.0,177.0 L298.0,176.7 L296.0,176.5 L293.9,176.5 L291.9,176.7 L290.0,177.0 L288.1,177.6 L286.3,178.6 L284.5,179.6 L282.7,180.5 L281.0,181.0 L279.2,181.1 L277.4,180.9 L275.6,180.4 L274.1,179.8 L273.0,179.0 L272.3,177.9 L272.0,176.5 L271.8,174.9 L271.9,173.4 L272.0,172.0 L272.1,170.9 L272.3,169.8 L272.6,168.9 L273.2,167.9 L274.0,167.0 L275.2,166.0 L276.7,165.0 L278.4,164.1 L280.2,163.2 L282.0,162.5 L283.9,162.0 L286.0,161.8 L288.2,161.6 L290.2,161.3 L292.0,161.0 L293.5,160.5 L294.8,160.1 L296.0,159.5 L297.1,158.8 L298.0,158.0 L298.8,157.1 L299.4,156.1 L299.9,155.0 L300.4,153.6Z"/><path d="M381.5,211.8L381.6,213.7L381.7,216.4L381.8,219.5L381.8,222.8L381.9,225.8L382.0,228.7L382.1,231.5L382.1,234.4L382.2,237.1L382.3,239.7L382.2,242.4L382.2,245.1L382.1,247.8L382.0,250.0L382.0,251.6A4.0,4.0 0 0 0 390.0,252.4L390.0,252.4L390.3,250.8L390.6,248.5L391.0,245.9L391.4,243.1L391.7,240.3L392.1,237.5L392.3,234.7L392.6,231.9L392.9,229.0L393.1,226.2L393.4,223.2L393.7,219.9L394.0,216.8L394.3,214.1L394.5,212.2A6.5,6.5 0 0 0 381.5,211.8ZM381.5,212.0a6.5,6.5 0 1,0 13.0,0a6.5,6.5 0 1,0 -13.0,0ZM381.9,226.0a5.6,5.6 0 1,0 11.3,0a5.6,5.6 0 1,0 -11.3,0ZM382.2,240.0a4.8,4.8 0 1,0 9.5,0a4.8,4.8 0 1,0 -9.5,0ZM382.0,252.0a4.0,4.0 0 1,0 8.0,0a4.0,4.0 0 1,0 -8.0,0Z"/></clipPath>
<g clip-path="url(#sc)" filter="url(#bl)"><path d="M412.0,176.0 L414.3,177.1 L417.6,178.6 L421.4,180.5 L425.7,182.3 L430.0,184.0 L434.6,185.6 L439.5,187.2 L444.7,188.7 L449.9,190.2 L455.0,191.5 L460.0,192.7 L465.0,193.7 L470.0,194.7 L475.0,195.6 L480.0,196.5 L484.9,197.4 L489.7,198.2 L494.6,199.0 L499.6,199.8 L505.0,200.5 L511.3,201.2 L518.5,201.9 L525.5,202.6 L531.7,203.1 L536.0,203.5" fill="none" stroke="#FBD65E" stroke-width="4.5" stroke-linecap="round"/></g>
<clipPath id="nc"><ellipse transform="translate(346.3,158.1) rotate(43)" rx="26" ry="18.5"/></clipPath>
<g transform="translate(346.3,158.1) rotate(43)">
<ellipse rx="27.2" ry="19.5" fill="#a58bb5" stroke="#5f4455" stroke-width="1"/>
<ellipse rx="24.8" ry="17" fill="none" stroke="#bba6cf" stroke-width="1.6" opacity="0.8"/>
</g>
<g clip-path="url(#nc)" fill="none" stroke="#8c72a0" stroke-width="1.4" opacity="0.7">
<path d="M330,170 c0,-8 -2,-14 2,-18 c4,-4 8,0 8,6 c0,6 -1,10 3,12 c4,2 7,-2 7,-8 c0,-8 -3,-13 1,-16 c4,-3 8,1 8,7 v10 c0,5 4,8 7,5"/>
<path d="M336,140 c5,-2 10,2 10,8 M352,147 c4,-3 9,0 9,6 c0,5 3,9 6,8 M339,178 c2,-6 8,-7 10,-2 c2,5 7,6 9,1"/>
</g>
<path d="M546.0,222.0 L545.1,223.5 L546.5,225.9 L549.4,228.9 L552.6,232.1 L555.0,235.0 L556.7,237.7 L558.2,240.5 L559.8,243.3 L561.5,246.1 L563.4,249.0 L565.5,251.9 L567.8,254.9 L570.2,257.9 L572.8,260.9 L575.7,263.9 L578.9,266.9 L582.5,269.9 L586.2,273.0 L590.1,275.9 L593.9,278.8 L597.7,281.5 L601.6,283.9 L605.5,286.4 L609.6,289.0 L613.8,292.0 L618.5,295.8 L623.7,300.4 L628.8,304.9 L633.4,308.5 L637.0,310.5 L639.8,310.4 L642.0,308.6 L643.5,306.0 L643.9,303.1 L643.0,300.5 L640.3,298.3 L635.9,296.0 L630.6,293.6 L625.2,291.2 L620.4,288.7 L616.2,286.1 L612.0,283.5 L608.0,280.8 L604.1,278.1 L600.5,275.4 L597.0,272.8 L593.7,270.1 L590.6,267.5 L587.9,264.8 L585.6,262.2 L583.9,259.7 L582.6,257.4 L581.7,255.0 L581.0,252.3 L580.4,249.0 L580.6,244.7 L581.5,239.6 L582.3,234.3 L582.2,229.5 L580.0,226.0 L574.7,223.7 L566.8,222.2 L558.1,221.5 L550.6,221.4Z" fill="#b5e2df"/>
<path d="M546.6,224.9 L547.7,226.2 L549.3,228.0 L551.1,230.1 L553.0,232.5 L554.8,234.9 L556.5,237.5 L558.1,240.2 L559.7,243.2 L561.5,246.2 L563.5,249.1 L565.6,252.0 L567.8,255.0 L570.2,257.9 L572.8,260.9 L575.7,263.9 L578.9,266.9 L582.5,269.9 L586.2,273.0 L590.1,275.9 L593.9,278.8 L597.8,281.6 L601.9,284.2 L606.0,286.8 L610.0,289.4 L613.8,292.0 L617.7,294.8 L621.7,297.8 L625.5,300.7 L628.7,303.2 L631.0,305.0" fill="none" stroke="#345f5d" stroke-width="0.9"/>
<path d="M580.0,231.6 L579.9,234.1 L579.8,237.6 L579.7,241.6 L579.7,245.6 L580.1,249.1 L580.7,252.0 L581.5,254.7 L582.5,257.2 L583.8,259.6 L585.6,262.2 L587.9,264.8 L590.6,267.5 L593.7,270.1 L597.0,272.8 L600.5,275.4 L604.2,278.1 L608.3,280.9 L612.4,283.6 L616.6,286.3 L620.4,288.7 L624.2,291.1 L628.1,293.4 L631.7,295.5 L634.8,297.3 L637.0,298.6" fill="none" stroke="#345f5d" stroke-width="0.9"/>
<path d="M640.0,204.0 L641.8,203.1 L645.2,202.5 L649.7,202.0 L654.8,201.7 L660.0,201.5 L665.5,201.4 L671.8,201.4 L678.2,201.6 L684.5,201.8 L690.0,202.0 L694.6,202.2 L698.7,202.4 L702.5,202.6 L706.2,203.0 L710.0,203.5 L714.3,204.2 L719.0,205.0 L723.4,205.9 L727.3,207.0 L730.0,208.0 L731.6,209.3 L732.4,210.8 L732.4,212.3 L731.6,213.4 L730.0,214.0 L727.3,213.7 L723.4,212.8 L719.0,211.6 L714.3,210.3 L710.0,209.5 L705.9,209.0 L701.7,208.7 L697.6,208.5 L693.6,208.4 L690.0,208.5 L686.7,208.8 L683.7,209.2 L681.0,209.7 L678.4,210.3 L676.0,211.0 L674.0,211.8 L672.3,212.8 L670.8,213.8 L669.1,214.6 L667.0,215.0 L664.3,214.9 L661.3,214.5 L658.1,213.9 L654.9,213.0 L652.0,212.0 L648.9,210.6 L645.4,208.9 L642.4,207.0 L640.3,205.3Z" fill="#b5e2df"/>
<path d="M636.0,203.5 L639.2,203.2 L643.6,202.7 L648.8,202.2 L654.4,201.8 L660.0,201.5 L665.8,201.4 L672.0,201.5 L678.4,201.6 L684.5,201.8 L690.0,202.0 L694.7,202.2 L698.8,202.4 L702.6,202.7 L706.3,203.0 L710.0,203.5 L714.0,204.2 L718.2,205.1 L722.2,206.1 L725.6,206.9 L728.0,207.5" fill="none" stroke="#345f5d" stroke-width="0.9"/>
<path d="M668.0,213.5 L669.0,213.1 L670.3,212.5 L672.0,211.8 L673.9,211.1 L676.0,210.5 L678.3,210.0 L680.9,209.5 L683.7,209.0 L686.7,208.7 L690.0,208.5 L693.6,208.5 L697.7,208.5 L701.9,208.7 L706.0,209.0 L710.0,209.5 L714.0,210.2 L718.2,211.3 L722.2,212.4 L725.6,213.3 L728.0,214.0" fill="none" stroke="#345f5d" stroke-width="0.9"/>
<path d="M775.0,247.0 L776.0,247.2 L777.2,247.6 L778.5,248.3 L779.8,249.1 L781.0,250.0 L782.2,250.9 L783.4,251.9 L784.7,253.0 L785.9,254.4 L787.0,256.0 L788.1,257.9 L789.1,260.1 L790.1,262.6 L791.1,265.2 L792.0,268.0 L792.9,271.0 L793.7,274.3 L794.5,277.7 L795.3,281.3 L796.0,285.0 L796.8,289.1 L797.8,293.7 L798.6,298.3 L799.1,302.2 L799.0,305.0 L798.2,306.6 L796.7,307.4 L794.9,307.4 L793.2,306.6 L792.0,305.0 L791.3,302.2 L790.9,298.2 L790.7,293.6 L790.4,289.0 L790.0,285.0 L789.4,281.6 L788.6,278.5 L787.8,275.5 L787.0,272.7 L786.0,270.0 L785.0,267.3 L783.8,264.8 L782.6,262.4 L781.4,260.1 L780.0,258.0 L778.4,256.1 L776.4,254.3 L774.5,252.6 L772.9,251.2 L772.0,250.0 L771.8,249.0 L772.3,248.2 L773.1,247.5 L774.0,247.1Z" fill="#b5e2df"/>
<path d="M781.0,250.0 L781.8,250.7 L783.0,251.7 L784.4,252.9 L785.8,254.3 L787.0,256.0 L788.1,257.9 L789.1,260.1 L790.1,262.6 L791.1,265.2 L792.0,268.0 L792.9,271.1 L793.8,274.5 L794.6,278.1 L795.3,281.6 L796.0,285.0 L796.6,288.4 L797.0,291.9 L797.4,295.2 L797.8,298.0 L798.0,300.0" fill="none" stroke="#345f5d" stroke-width="0.9"/>
<path d="M774.0,249.0 L774.8,250.2 L776.0,251.8 L777.3,253.8 L778.7,255.9 L780.0,258.0 L781.2,260.2 L782.5,262.4 L783.8,264.8 L785.0,267.4 L786.0,270.0 L786.8,272.8 L787.5,275.8 L788.0,278.9 L788.5,282.0 L789.0,285.0 L789.5,288.2 L790.0,291.7 L790.4,295.1 L790.7,298.0 L791.0,300.0" fill="none" stroke="#345f5d" stroke-width="0.9"/>
<path d="M686.0,296.0 L686.2,294.0 L687.5,291.4 L689.3,288.6 L691.3,285.7 L693.0,283.0 L694.5,280.3 L696.0,277.6 L697.5,274.8 L698.9,272.3 L700.0,270.0 L700.5,267.9 L700.3,265.8 L700.3,264.0 L700.9,262.6 L703.0,262.0 L707.1,262.4 L712.9,263.5 L719.3,265.1 L725.3,266.8 L730.0,268.0 L733.5,268.7 L736.4,269.2 L738.6,269.7 L739.9,270.2 L740.0,271.0 L738.6,272.1 L735.7,273.5 L732.1,274.9 L728.3,276.5 L725.0,278.0 L722.3,279.4 L719.8,280.8 L717.2,282.3 L714.7,284.0 L712.0,286.0 L709.1,288.7 L706.0,292.0 L702.8,295.4 L699.8,298.3 L697.0,300.0 L694.3,300.5 L691.4,300.1 L688.9,299.1 L687.0,297.7Z" fill="#b5e2df"/>
<path d="M688.0,294.0 L689.1,292.2 L690.7,289.7 L692.6,286.8 L694.4,283.8 L696.0,281.0 L697.4,278.3 L698.7,275.5 L699.9,272.7 L701.0,270.2 L702.0,268.0 L702.8,266.3 L703.6,264.8 L704.2,263.6 L704.6,262.7 L705.0,262.0" fill="none" stroke="#345f5d" stroke-width="0.9"/>
<path d="M697.0,300.0 L699.0,298.2 L701.9,295.6 L705.2,292.7 L708.7,289.7 L712.0,287.0 L715.2,284.6 L718.5,282.2 L721.8,279.9 L725.0,277.8 L728.0,276.0 L730.8,274.5 L733.7,273.3 L736.3,272.4 L738.4,271.6 L740.0,271.0" fill="none" stroke="#345f5d" stroke-width="0.9"/>
<path d="M688.0,341.0 L689.3,341.6 L691.5,343.2 L694.2,345.4 L697.2,347.8 L700.0,350.0 L702.9,352.0 L706.0,354.1 L709.2,356.2 L712.3,358.2 L715.0,360.0 L717.2,361.6 L719.1,363.0 L720.9,364.3 L722.8,365.5 L725.0,366.6 L727.6,367.7 L730.3,368.6 L733.3,369.5 L736.5,370.3 L740.0,371.0 L744.3,371.3 L749.4,371.3 L754.6,371.4 L759.0,371.8 L762.0,373.0 L763.3,375.4 L763.3,378.8 L762.5,382.4 L761.3,385.7 L760.0,388.0 L758.5,389.1 L756.4,389.4 L754.2,389.1 L751.9,388.7 L749.7,388.1 L747.7,387.4 L745.6,386.4 L743.7,385.3 L741.8,384.1 L740.0,383.0 L738.6,382.1 L737.5,381.3 L736.5,380.5 L735.1,379.4 L733.0,378.0 L730.1,376.0 L726.4,373.6 L722.5,370.9 L718.6,368.3 L715.0,366.0 L711.7,363.9 L708.4,361.9 L705.4,360.0 L702.5,358.2 L700.0,356.6 L697.9,355.3 L696.1,354.3 L694.6,353.4 L693.2,352.3 L692.0,351.0 L690.7,349.0 L689.3,346.4 L688.3,343.8 L687.7,341.9Z" fill="#b5e2df"/>
<path d="M690.0,343.0 L691.3,343.9 L693.0,345.2 L695.2,346.6 L697.5,348.3 L700.0,350.0 L702.8,351.9 L705.9,353.9 L709.1,356.1 L712.2,358.2 L715.0,360.0 L717.2,361.6 L719.1,363.0 L720.9,364.3 L722.8,365.5 L725.0,366.6 L727.6,367.7 L730.4,368.6 L733.4,369.5 L736.6,370.3 L740.0,371.0 L744.0,371.6 L748.6,372.1 L753.2,372.5 L757.2,372.8 L760.0,373.0" fill="none" stroke="#345f5d" stroke-width="0.9"/>
<path d="M692.0,350.0 L693.0,350.9 L694.3,352.0 L695.9,353.4 L697.8,355.0 L700.0,356.6 L702.5,358.3 L705.4,360.0 L708.4,361.9 L711.7,363.9 L715.0,366.0 L718.6,368.3 L722.4,370.9 L726.3,373.5 L729.9,375.9 L733.0,378.0 L735.4,379.6 L737.2,380.9 L738.8,382.0 L740.3,383.0 L742.0,384.0 L744.1,385.1 L746.4,386.3 L748.7,387.4 L750.6,388.3 L752.0,389.0" fill="none" stroke="#345f5d" stroke-width="0.9"/>
<path d="M566.0,248.0 L567.8,250.1 L570.4,253.0 L573.4,256.4 L576.7,259.8 L580.0,263.0 L583.3,265.9 L586.8,268.7 L590.5,271.5 L594.2,274.3 L598.0,277.0 L601.9,279.7 L606.0,282.4 L610.2,285.1 L614.2,287.6 L618.0,290.0 L621.7,292.4 L625.5,294.7 L628.9,296.9 L631.9,298.7 L634.0,300.0" fill="none" stroke="#d6f0ee" stroke-width="2.2" opacity="0.9"/>
<path d="M700.0,353.0 L702.0,354.3 L704.9,356.0 L708.3,358.1 L711.8,360.2 L715.0,362.0 L718.0,363.5 L720.9,364.9 L723.8,366.3 L726.8,367.6 L730.0,369.0 L733.7,370.5 L737.8,372.1 L742.0,373.7 L745.5,375.0 L748.0,376.0" fill="none" stroke="#d6f0ee" stroke-width="2" opacity="0.9"/>
<path d="M655.0,205.0 L659.9,204.9 L667.0,204.7 L675.0,204.5 L683.1,204.4 L690.0,204.5 L696.0,204.8 L701.9,205.4 L707.3,206.0 L711.8,206.6 L715.0,207.0" fill="none" stroke="#d6f0ee" stroke-width="1.8" opacity="0.9"/>
<g transform="translate(761.5,226.7) rotate(22)" opacity="1">
<ellipse rx="36.5" ry="20.5" fill="#c4e9e6" stroke="#345f5d" stroke-width="0.9"/>
<ellipse cx="1.8" cy="-1.0" rx="31.4" ry="16.0" fill="#9fd8d4"/>
<ellipse cx="-5.5" cy="-9.2" rx="10.9" ry="4.1" fill="#c9ece9"/>
</g>
<g transform="translate(673,318) rotate(18)" opacity="1">
<ellipse rx="41" ry="26" fill="#c4e9e6" stroke="#345f5d" stroke-width="0.9"/>
<ellipse cx="2.1" cy="-1.3" rx="35.3" ry="20.3" fill="#9fd8d4"/>
<ellipse cx="8.2" cy="-7.8" rx="12.3" ry="5.2" fill="#c9ece9"/>
</g>
<path d="M536,207.5 L604,216" stroke="#4a3512" stroke-width="18.6" stroke-linecap="round"/><path d="M536,207.5 L604,216" stroke="#F3BE40" stroke-width="17" stroke-linecap="round"/><path d="M536.4,204.5 L604.4,213.0" stroke="#f9d35c" stroke-width="5.9" stroke-linecap="round" opacity="0.9"/>
<g transform="translate(537.0,207.5) rotate(7.13)" opacity="1.0">
<path d="M0,-19.5 L64.5,-19.5 A12,19.5 0 0 1 64.5,19.5 L0,19.5 A10,19.5 0 0 1 0,-19.5Z" fill="url(#mg)" stroke="#345f5d" stroke-width="0.9"/>
<path d="M6.0,-8.2 L53.7,-8.2 L53.7,5.8 L6.0,5.8 A6.0,7.0 0 0 1 6.0,-8.2Z" fill="#e2f1e6" opacity="0.9"/>
<path d="M-5.0,-1.0 L57.3,-1.0" stroke="#ffffff" stroke-width="1.6" opacity="0.8"/>
<path d="M3.0,10.7 L57.3,10.7" stroke="#9dd6d2" stroke-width="7.8" opacity="0.35"/>
<ellipse cx="64.5" cy="0" rx="12" ry="19.5" fill="#a9dedb" stroke="#345f5d" stroke-width="0.9"/>
<ellipse cx="64.5" cy="0" rx="9.4" ry="15.2" fill="#7fcdc8" stroke="#4a9a96" stroke-width="0.5"/>
<ellipse cx="64.5" cy="0" rx="7.2" ry="11.7" fill="#5fbdb7" stroke="#3f8c88" stroke-width="0.5"/>

</g>
<path d="M601,216 L626,221" stroke="#4a3512" stroke-width="17.1" stroke-linecap="round"/><path d="M601,216 L626,221" stroke="#F3BE40" stroke-width="15.5" stroke-linecap="round"/><path d="M601.5,213.3 L626.5,218.3" stroke="#f9d35c" stroke-width="5.4" stroke-linecap="round" opacity="0.9"/>
<g transform="translate(625.0,220.0) rotate(16.28)" opacity="1.0">
<path d="M0,-19.5 L58.9,-19.5 A13,19.5 0 0 1 58.9,19.5 L0,19.5 A10,19.5 0 0 1 0,-19.5Z" fill="url(#mg)" stroke="#345f5d" stroke-width="0.9"/>
<path d="M6.0,-8.2 L47.2,-8.2 L47.2,5.8 L6.0,5.8 A6.0,7.0 0 0 1 6.0,-8.2Z" fill="#e2f1e6" opacity="0.9"/>
<path d="M-5.0,-1.0 L51.1,-1.0" stroke="#ffffff" stroke-width="1.6" opacity="0.8"/>
<path d="M3.0,10.7 L51.1,10.7" stroke="#9dd6d2" stroke-width="7.8" opacity="0.35"/>
<ellipse cx="58.9" cy="0" rx="13" ry="19.5" fill="#a9dedb" stroke="#345f5d" stroke-width="0.9"/>
<ellipse cx="58.9" cy="0" rx="10.1" ry="15.2" fill="#7fcdc8" stroke="#4a9a96" stroke-width="0.5"/>
<ellipse cx="58.9" cy="0" rx="7.8" ry="11.7" fill="#5fbdb7" stroke="#3f8c88" stroke-width="0.5"/>

</g>
<path d="M682,236 L699,245" stroke="#4a3512" stroke-width="15.1" stroke-linecap="round"/><path d="M682,236 L699,245" stroke="#F3BE40" stroke-width="13.5" stroke-linecap="round"/><path d="M683.1,233.9 L700.1,242.9" stroke="#f9d35c" stroke-width="4.7" stroke-linecap="round" opacity="0.9"/>
<g transform="translate(698.0,244.0) rotate(29.14)" opacity="1.0">
<path d="M0,-18 L64.7,-18 A11,18 0 0 1 64.7,18 L0,18 A9,18 0 0 1 0,-18Z" fill="url(#mg)" stroke="#345f5d" stroke-width="0.9"/>
<path d="M5.4,-7.6 L54.8,-7.6 L54.8,5.4 L5.4,5.4 A5.4,6.5 0 0 1 5.4,-7.6Z" fill="#e2f1e6" opacity="0.9"/>
<path d="M-4.5,-0.9 L58.1,-0.9" stroke="#ffffff" stroke-width="1.6" opacity="0.8"/>
<path d="M2.7,9.9 L58.1,9.9" stroke="#9dd6d2" stroke-width="7.2" opacity="0.35"/>
<ellipse cx="64.7" cy="0" rx="11" ry="18" fill="#a9dedb" stroke="#345f5d" stroke-width="0.9"/>
<ellipse cx="64.7" cy="0" rx="8.6" ry="14.0" fill="#7fcdc8" stroke="#4a9a96" stroke-width="0.5"/>
<ellipse cx="64.7" cy="0" rx="6.6" ry="10.8" fill="#5fbdb7" stroke="#3f8c88" stroke-width="0.5"/>

</g>
<path d="M754,275.5 L770,289" stroke="#4a3512" stroke-width="14.1" stroke-linecap="round"/><path d="M754,275.5 L770,289" stroke="#F3BE40" stroke-width="12.5" stroke-linecap="round"/><path d="M755.5,273.8 L771.5,287.3" stroke="#f9d35c" stroke-width="4.4" stroke-linecap="round" opacity="0.9"/>
<g transform="translate(768.5,290.0) rotate(76.22)" opacity="1.0">
<path d="M0,-20.5 L54.6,-20.5 A11,20.5 0 0 1 54.6,20.5 L0,20.5 A9,20.5 0 0 1 0,-20.5Z" fill="url(#mg)" stroke="#345f5d" stroke-width="0.9"/>
<path d="M5.4,-8.6 L44.7,-8.6 L44.7,6.1 L5.4,6.1 A5.4,7.4 0 0 1 5.4,-8.6Z" fill="#e2f1e6" opacity="0.9"/>
<path d="M-4.5,-1.0 L48.0,-1.0" stroke="#ffffff" stroke-width="1.6" opacity="0.8"/>
<path d="M2.7,11.3 L48.0,11.3" stroke="#9dd6d2" stroke-width="8.2" opacity="0.35"/>
<ellipse cx="54.6" cy="0" rx="11" ry="20.5" fill="#a9dedb" stroke="#345f5d" stroke-width="0.9"/>
<ellipse cx="54.6" cy="0" rx="8.6" ry="16.0" fill="#7fcdc8" stroke="#4a9a96" stroke-width="0.5"/>
<ellipse cx="54.6" cy="0" rx="6.6" ry="12.3" fill="#5fbdb7" stroke="#3f8c88" stroke-width="0.5"/>

</g>
<path d="M781,344 L779.5,361" stroke="#4a3512" stroke-width="14.1" stroke-linecap="round"/><path d="M781,344 L779.5,361" stroke="#F3BE40" stroke-width="12.5" stroke-linecap="round"/><path d="M778.8,343.8 L777.3,360.8" stroke="#f9d35c" stroke-width="4.4" stroke-linecap="round" opacity="0.9"/>
<g transform="translate(779.5,362.0) rotate(112.18)" opacity="1.0">
<path d="M0,-18.5 L70.2,-18.5 A10,18.5 0 0 1 70.2,18.5 L0,18.5 A8,18.5 0 0 1 0,-18.5Z" fill="url(#mg)" stroke="#345f5d" stroke-width="0.9"/>
<path d="M4.8,-7.8 L61.2,-7.8 L61.2,5.5 L4.8,5.5 A4.8,6.7 0 0 1 4.8,-7.8Z" fill="#e2f1e6" opacity="0.9"/>
<path d="M-4.0,-0.9 L64.2,-0.9" stroke="#ffffff" stroke-width="1.6" opacity="0.8"/>
<path d="M2.4,10.2 L64.2,10.2" stroke="#9dd6d2" stroke-width="7.4" opacity="0.35"/>
<ellipse cx="70.2" cy="0" rx="10" ry="18.5" fill="#a9dedb" stroke="#345f5d" stroke-width="0.9"/>
<ellipse cx="70.2" cy="0" rx="7.8" ry="14.4" fill="#7fcdc8" stroke="#4a9a96" stroke-width="0.5"/>
<ellipse cx="70.2" cy="0" rx="6.0" ry="11.1" fill="#5fbdb7" stroke="#3f8c88" stroke-width="0.5"/>
<ellipse cx="0" cy="0" rx="8" ry="18.5" fill="#a9dedb" stroke="#345f5d" stroke-width="0.9"/>
<ellipse cx="0" cy="0" rx="6.2" ry="14.4" fill="#7fcdc8" stroke="#4a9a96" stroke-width="0.5"/>
<ellipse cx="0" cy="0" rx="4.8" ry="11.1" fill="#5fbdb7" stroke="#3f8c88" stroke-width="0.5"/>

</g>
<g fill="#2e210b"><path d="M747.0,423.0L746.5,424.9L745.8,427.7L744.9,430.9L744.1,434.3L743.3,437.6L742.5,440.7L741.7,444.0L740.9,447.3L740.2,450.7L739.5,454.0L739.0,457.4L738.5,460.7L738.2,463.9L737.9,466.9L737.6,469.6L737.4,472.0L737.2,474.2L737.0,476.1L736.9,477.6L736.9,478.7A5.0,5.0 0 0 0 746.9,479.3L746.9,479.3L747.0,478.1L747.0,476.6L747.1,474.8L747.2,472.7L747.4,470.4L747.6,467.8L747.8,464.9L748.1,461.8L748.5,458.6L748.9,455.6L749.4,452.5L750.0,449.3L750.7,446.0L751.4,442.8L752.1,439.6L752.8,436.4L753.6,433.0L754.3,429.8L755.0,427.0L755.4,425.0A4.3,4.3 0 0 0 747.0,423.0ZM746.9,424.0a4.3,4.3 0 1,0 8.7,0a4.3,4.3 0 1,0 -8.7,0ZM743.2,438.6a4.5,4.5 0 1,0 9.1,0a4.5,4.5 0 1,0 -9.1,0ZM739.5,454.8a4.7,4.7 0 1,0 9.5,0a4.7,4.7 0 1,0 -9.5,0ZM737.6,470.0a4.9,4.9 0 1,0 9.9,0a4.9,4.9 0 1,0 -9.9,0ZM736.9,479.0a5.0,5.0 0 1,0 10.1,0a5.0,5.0 0 1,0 -10.1,0Z"/><path d="M740.6,475.0L738.8,475.7L736.2,476.6L733.3,477.5L730.4,478.3L727.8,478.7L725.0,478.7L722.0,478.5L718.8,478.1L715.7,477.6L712.9,476.9L710.2,475.8L707.5,474.3L704.6,472.6L701.6,471.1L698.7,470.0L695.9,469.7L693.3,469.7L690.7,470.4L688.4,472.0L686.7,474.5L686.1,477.6L686.3,480.9L686.8,484.2L687.4,487.4L688.0,490.2L688.7,492.9L689.5,495.4L690.4,497.8L691.1,499.6L691.7,501.0A2.8,2.8 0 0 0 696.9,499.0L696.9,499.0L696.5,497.6L695.8,495.8L695.0,493.6L694.3,491.3L693.8,489.0L693.4,486.3L692.9,483.3L692.5,480.3L692.5,478.0L692.7,476.9L692.9,476.7L693.3,476.5L694.1,476.3L695.4,476.3L696.9,476.6L698.7,477.3L701.1,478.7L703.9,480.4L707.1,482.3L710.5,483.7L714.0,484.8L717.5,485.5L721.1,486.1L724.7,486.5L728.2,486.5L731.9,486.1L735.5,485.3L738.7,484.3L741.3,483.5L743.2,483.0A4.2,4.2 0 0 0 740.6,475.0ZM737.7,479.0a4.2,4.2 0 1,0 8.3,0a4.2,4.2 0 1,0 -8.3,0ZM724.1,482.6a3.9,3.9 0 1,0 7.8,0a3.9,3.9 0 1,0 -7.8,0ZM708.1,480.3a3.6,3.6 0 1,0 7.3,0a3.6,3.6 0 1,0 -7.3,0ZM694.4,473.3a3.4,3.4 0 1,0 6.7,0a3.4,3.4 0 1,0 -6.7,0ZM686.5,475.7a3.2,3.2 0 1,0 6.5,0a3.2,3.2 0 1,0 -6.5,0ZM687.9,489.6a3.0,3.0 0 1,0 6.0,0a3.0,3.0 0 1,0 -6.0,0ZM691.5,500.0a2.8,2.8 0 1,0 5.6,0a2.8,2.8 0 1,0 -5.6,0Z"/><path d="M713.2,481.2L712.8,483.3L712.1,486.2L711.4,489.5L710.6,492.8L709.9,495.7L709.3,498.4L708.8,500.8L708.3,502.9L707.7,504.8L706.9,506.5L705.7,508.0L703.9,509.7L701.9,511.4L699.7,513.4L697.7,515.8L696.3,518.5L695.1,521.4L694.2,524.2L693.4,526.5L692.9,528.1A2.7,2.7 0 0 0 698.1,529.9L698.1,529.9L698.7,528.2L699.4,526.0L700.3,523.4L701.4,521.0L702.5,519.0L703.8,517.4L705.7,515.8L707.8,514.1L710.0,512.1L711.9,509.7L713.3,507.1L714.1,504.6L714.8,502.1L715.3,499.7L715.9,497.3L716.7,494.3L717.6,491.0L718.4,487.6L719.1,484.8L719.6,482.8A3.3,3.3 0 0 0 713.2,481.2ZM713.1,482.0a3.3,3.3 0 1,0 6.6,0a3.3,3.3 0 1,0 -6.6,0ZM709.8,496.5a3.1,3.1 0 1,0 6.3,0a3.1,3.1 0 1,0 -6.3,0ZM706.4,508.1a3.0,3.0 0 1,0 6.0,0a3.0,3.0 0 1,0 -6.0,0ZM697.3,517.4a2.8,2.8 0 1,0 5.7,0a2.8,2.8 0 1,0 -5.7,0ZM692.8,529.0a2.7,2.7 0 1,0 5.4,0a2.7,2.7 0 1,0 -5.4,0Z"/><path d="M738.9,477.7L737.9,479.0L736.4,481.0L734.7,483.3L733.0,485.6L731.8,487.6L730.9,489.1L729.9,490.6L729.0,492.6L728.6,495.2L729.4,498.1L731.2,500.6L733.5,502.7L735.8,504.6L737.8,506.3L739.1,507.8L740.0,509.3L740.8,510.9L741.3,512.2L741.4,513.0L741.4,513.3L740.7,514.0L738.7,515.1L736.0,516.4L733.1,517.8L730.7,519.5L728.9,521.1L727.4,522.7L726.2,524.5L725.3,526.5L724.9,528.9L725.2,531.5L726.1,533.8L727.1,535.8L728.0,537.6L728.5,539.1L729.0,540.8L729.3,542.7L729.6,544.5L729.7,546.1L729.8,547.2L729.6,547.9L729.3,548.6L728.9,549.3L728.4,550.0L728.0,550.7A2.8,2.8 0 0 0 732.6,553.7L732.6,553.7L733.0,553.2L733.6,552.5L734.3,551.3L735.0,549.7L735.4,547.8L735.5,545.8L735.4,543.8L735.1,541.7L734.7,539.6L734.3,537.5L733.5,535.3L732.5,533.2L731.7,531.4L731.2,530.0L731.1,529.1L731.3,528.4L731.6,527.6L732.3,526.7L733.3,525.6L734.5,524.5L736.2,523.5L738.8,522.3L741.7,520.9L744.6,519.3L747.0,516.9L748.1,513.8L747.9,510.9L747.1,508.3L746.0,506.1L744.7,503.8L742.8,501.5L740.4,499.3L738.1,497.4L736.5,495.8L735.8,494.9L735.9,494.8L735.9,494.8L736.2,494.3L737.0,493.1L738.0,491.6L739.2,489.8L740.7,487.7L742.4,485.6L743.9,483.7L744.9,482.3A3.8,3.8 0 0 0 738.9,477.7ZM738.1,480.0a3.8,3.8 0 1,0 7.6,0a3.8,3.8 0 1,0 -7.6,0ZM731.2,489.6a3.7,3.7 0 1,0 7.4,0a3.7,3.7 0 1,0 -7.4,0ZM729.0,496.5a3.6,3.6 0 1,0 7.2,0a3.6,3.6 0 1,0 -7.2,0ZM738.5,505.8a3.4,3.4 0 1,0 6.9,0a3.4,3.4 0 1,0 -6.9,0ZM740.9,515.1a3.3,3.3 0 1,0 6.7,0a3.3,3.3 0 1,0 -6.7,0ZM729.4,522.0a3.2,3.2 0 1,0 6.4,0a3.2,3.2 0 1,0 -6.4,0ZM724.9,529.0a3.1,3.1 0 1,0 6.2,0a3.1,3.1 0 1,0 -6.2,0ZM728.4,538.3a3.0,3.0 0 1,0 5.9,0a3.0,3.0 0 1,0 -5.9,0ZM729.7,547.5a2.9,2.9 0 1,0 5.7,0a2.9,2.9 0 1,0 -5.7,0ZM727.5,552.2a2.8,2.8 0 1,0 5.6,0a2.8,2.8 0 1,0 -5.6,0Z"/><path d="M740.2,483.4L741.5,484.0L743.2,484.8L745.1,485.7L747.2,486.8L749.2,488.0L751.4,489.5L753.7,491.0L756.0,492.7L758.3,494.5L760.3,496.5L762.2,498.7L764.0,501.3L765.9,504.2L767.6,507.0L769.4,509.8L771.1,512.3L772.7,514.7L774.2,516.9L775.4,518.9L776.3,520.7L777.0,522.6L777.4,524.4L777.6,526.0L777.6,527.4L777.6,528.1L777.5,528.2L777.2,528.4L776.7,528.6L776.2,528.8L776.5,528.9L777.2,529.4L777.1,529.1L776.9,528.2L776.7,527.2L776.5,526.4A2.5,2.5 0 0 0 771.5,527.6L771.5,527.6L771.7,528.2L771.8,529.3L772.1,530.6L772.8,532.2L774.5,533.7L776.5,534.0L778.1,533.7L779.8,533.1L781.5,531.8L782.6,529.9L783.1,527.8L783.1,525.7L782.9,523.5L782.4,521.1L781.7,518.7L780.6,516.2L779.3,513.8L777.8,511.4L776.2,508.9L774.6,506.4L773.0,503.8L771.3,500.8L769.5,497.7L767.5,494.7L765.3,491.9L762.9,489.5L760.4,487.3L757.9,485.3L755.4,483.5L753.2,482.0L750.9,480.5L748.6,479.2L746.5,478.1L744.8,477.2L743.6,476.6A3.8,3.8 0 0 0 740.2,483.4ZM738.1,480.0a3.8,3.8 0 1,0 7.6,0a3.8,3.8 0 1,0 -7.6,0ZM747.6,485.0a3.6,3.6 0 1,0 7.3,0a3.6,3.6 0 1,0 -7.3,0ZM759.4,494.2a3.4,3.4 0 1,0 6.8,0a3.4,3.4 0 1,0 -6.8,0ZM768.9,508.1a3.1,3.1 0 1,0 6.2,0a3.1,3.1 0 1,0 -6.2,0ZM776.1,519.7a2.9,2.9 0 1,0 5.7,0a2.9,2.9 0 1,0 -5.7,0ZM777.4,529.0a2.7,2.7 0 1,0 5.4,0a2.7,2.7 0 1,0 -5.4,0ZM772.9,531.3a2.6,2.6 0 1,0 5.2,0a2.6,2.6 0 1,0 -5.2,0ZM771.5,527.0a2.5,2.5 0 1,0 5.1,0a2.5,2.5 0 1,0 -5.1,0Z"/><path d="M741.3,482.8L743.7,483.1L747.0,483.5L750.8,484.1L754.5,484.6L757.5,485.0L759.7,485.4L761.7,485.9L763.9,486.5L766.5,486.6L769.5,485.4L771.5,482.9L772.2,480.3L772.6,477.9L772.8,475.8L773.1,473.9L773.4,471.8L773.6,469.7L773.9,468.0L774.1,466.9L774.4,466.4L775.0,465.9L776.2,465.4L777.8,465.0L779.4,464.8L781.0,464.9L782.5,465.1L784.0,465.6L785.5,466.2L786.9,467.2L788.2,468.4L789.5,470.2L790.8,472.6L792.1,475.5L793.5,478.6L794.9,481.5L796.3,484.4L797.7,487.4L799.2,490.4L800.7,493.2L802.2,495.7L803.9,497.9L805.7,499.8L807.4,501.2L808.7,502.4L809.6,503.1A2.6,2.6 0 0 0 813.2,499.3L813.2,499.3L812.2,498.4L810.9,497.2L809.5,495.9L808.1,494.4L806.8,492.7L805.5,490.5L804.2,487.9L802.9,485.0L801.5,482.0L800.1,479.1L798.8,476.2L797.6,473.1L796.2,470.0L794.7,467.0L793.0,464.4L790.9,462.3L788.6,460.8L786.3,459.7L783.9,458.9L781.6,458.5L779.2,458.4L776.7,458.6L774.2,459.2L771.8,460.2L769.6,461.8L768.0,464.1L767.3,466.6L766.9,468.9L766.7,470.9L766.3,472.7L765.9,474.8L765.7,477.1L765.4,478.9L765.1,479.9L765.3,479.8L765.7,479.5L765.1,479.4L763.6,479.0L761.3,478.4L758.7,477.8L755.6,477.3L751.9,476.7L748.1,476.1L744.8,475.6L742.5,475.2A3.8,3.8 0 0 0 741.3,482.8ZM738.1,479.0a3.8,3.8 0 1,0 7.6,0a3.8,3.8 0 1,0 -7.6,0ZM754.5,481.4a3.6,3.6 0 1,0 7.3,0a3.6,3.6 0 1,0 -7.3,0ZM763.9,482.6a3.5,3.5 0 1,0 7.1,0a3.5,3.5 0 1,0 -7.1,0ZM766.3,473.3a3.4,3.4 0 1,0 6.8,0a3.4,3.4 0 1,0 -6.8,0ZM768.7,464.1a3.3,3.3 0 1,0 6.6,0a3.3,3.3 0 1,0 -6.6,0ZM778.1,461.7a3.2,3.2 0 1,0 6.4,0a3.2,3.2 0 1,0 -6.4,0ZM787.5,466.4a3.1,3.1 0 1,0 6.2,0a3.1,3.1 0 1,0 -6.2,0ZM794.6,480.3a2.9,2.9 0 1,0 5.8,0a2.9,2.9 0 1,0 -5.8,0ZM801.8,494.2a2.7,2.7 0 1,0 5.5,0a2.7,2.7 0 1,0 -5.5,0ZM808.8,501.2a2.6,2.6 0 1,0 5.2,0a2.6,2.6 0 1,0 -5.2,0Z"/><path d="M797.3,490.5L798.3,493.2L799.6,497.1L801.2,501.6L802.9,505.9L804.5,509.3L806.3,512.0L808.2,513.9L809.9,515.4L811.3,516.4L812.2,517.1A2.5,2.5 0 0 0 815.4,513.1L815.4,513.1L814.4,512.3L813.1,511.3L811.7,510.2L810.3,508.7L809.1,506.9L807.7,503.8L806.2,499.7L804.7,495.3L803.4,491.4L802.5,488.7A2.8,2.8 0 0 0 797.3,490.5ZM797.1,489.6a2.8,2.8 0 1,0 5.5,0a2.8,2.8 0 1,0 -5.5,0ZM804.2,508.1a2.6,2.6 0 1,0 5.2,0a2.6,2.6 0 1,0 -5.2,0ZM811.3,515.1a2.5,2.5 0 1,0 5.1,0a2.5,2.5 0 1,0 -5.1,0Z"/><path d="M766.3,487.0L767.1,487.2L767.8,487.3L768.4,487.4L769.1,487.7L770.0,488.3L771.5,489.7L773.3,491.5L775.3,493.6L777.2,495.8L778.9,498.1L780.4,500.5L781.8,503.2L783.2,506.0L784.6,508.9L785.8,511.5L786.9,514.1L788.0,516.7L789.0,519.3L789.8,521.4L790.5,522.9A2.6,2.6 0 0 0 795.3,521.1L795.3,521.1L794.8,519.5L794.0,517.4L793.0,514.8L792.0,512.0L790.8,509.3L789.6,506.6L788.3,503.6L786.9,500.6L785.4,497.7L783.7,494.9L781.8,492.2L779.8,489.7L777.7,487.4L775.7,485.3L774.0,483.7L772.2,482.4L770.5,481.6L769.0,481.2L768.1,481.1L767.7,481.0A3.1,3.1 0 0 0 766.3,487.0ZM763.9,484.0a3.1,3.1 0 1,0 6.2,0a3.1,3.1 0 1,0 -6.2,0ZM768.9,486.0a3.1,3.1 0 1,0 6.1,0a3.1,3.1 0 1,0 -6.1,0ZM778.4,496.5a2.9,2.9 0 1,0 5.8,0a2.9,2.9 0 1,0 -5.8,0ZM785.6,510.4a2.7,2.7 0 1,0 5.5,0a2.7,2.7 0 1,0 -5.5,0ZM790.3,522.0a2.6,2.6 0 1,0 5.2,0a2.6,2.6 0 1,0 -5.2,0Z"/></g>
<g fill="#F4BF42"><path d="M748.0,423.2L747.4,425.2L746.7,427.9L745.9,431.1L745.1,434.5L744.3,437.8L743.5,440.9L742.7,444.2L741.9,447.5L741.2,450.9L740.5,454.2L740.0,457.5L739.5,460.8L739.2,464.0L738.9,467.0L738.6,469.7L738.4,472.0L738.2,474.2L738.0,476.1L737.9,477.7L737.9,478.8A4.0,4.0 0 0 0 745.9,479.2L745.9,479.2L746.0,478.1L746.0,476.6L746.1,474.7L746.2,472.6L746.4,470.3L746.6,467.7L746.9,464.8L747.1,461.7L747.5,458.5L747.9,455.4L748.4,452.3L749.0,449.1L749.7,445.8L750.5,442.6L751.1,439.4L751.9,436.1L752.6,432.8L753.4,429.5L754.0,426.8L754.4,424.8A3.3,3.3 0 0 0 748.0,423.2ZM747.9,424.0a3.3,3.3 0 1,0 6.7,0a3.3,3.3 0 1,0 -6.7,0ZM744.2,438.6a3.5,3.5 0 1,0 7.1,0a3.5,3.5 0 1,0 -7.1,0ZM740.5,454.8a3.7,3.7 0 1,0 7.5,0a3.7,3.7 0 1,0 -7.5,0ZM738.6,470.0a3.9,3.9 0 1,0 7.9,0a3.9,3.9 0 1,0 -7.9,0ZM737.9,479.0a4.0,4.0 0 1,0 8.1,0a4.0,4.0 0 1,0 -8.1,0Z"/><path d="M740.9,476.0L739.1,476.6L736.5,477.5L733.6,478.5L730.6,479.3L727.8,479.7L725.0,479.7L721.9,479.5L718.6,479.1L715.5,478.5L712.6,477.8L709.8,476.7L707.0,475.2L704.1,473.5L701.2,472.0L698.4,471.0L695.8,470.7L693.4,470.7L691.1,471.4L689.1,472.7L687.6,474.9L687.1,477.7L687.3,480.8L687.8,484.1L688.4,487.2L689.0,490.0L689.6,492.6L690.5,495.1L691.3,497.4L692.1,499.3L692.6,500.6A1.8,1.8 0 0 0 696.0,499.4L696.0,499.4L695.5,498.0L694.8,496.1L694.1,493.9L693.4,491.5L692.8,489.2L692.4,486.5L691.9,483.4L691.5,480.4L691.5,477.9L691.8,476.5L692.2,475.9L692.9,475.6L694.0,475.3L695.5,475.3L697.2,475.6L699.1,476.4L701.6,477.8L704.4,479.6L707.5,481.4L710.8,482.8L714.2,483.8L717.7,484.6L721.2,485.1L724.7,485.5L728.2,485.5L731.7,485.1L735.2,484.3L738.4,483.4L741.0,482.5L742.9,482.0A3.2,3.2 0 0 0 740.9,476.0ZM738.7,479.0a3.2,3.2 0 1,0 6.3,0a3.2,3.2 0 1,0 -6.3,0ZM725.1,482.6a2.9,2.9 0 1,0 5.8,0a2.9,2.9 0 1,0 -5.8,0ZM709.1,480.3a2.6,2.6 0 1,0 5.3,0a2.6,2.6 0 1,0 -5.3,0ZM695.4,473.3a2.4,2.4 0 1,0 4.7,0a2.4,2.4 0 1,0 -4.7,0ZM687.5,475.7a2.2,2.2 0 1,0 4.5,0a2.2,2.2 0 1,0 -4.5,0ZM688.9,489.6a2.0,2.0 0 1,0 4.0,0a2.0,2.0 0 1,0 -4.0,0ZM692.5,500.0a1.8,1.8 0 1,0 3.6,0a1.8,1.8 0 1,0 -3.6,0Z"/><path d="M714.2,481.5L713.7,483.5L713.1,486.4L712.3,489.7L711.6,493.0L710.8,496.0L710.2,498.6L709.8,501.0L709.3,503.2L708.6,505.2L707.7,507.0L706.4,508.7L704.6,510.4L702.5,512.2L700.4,514.1L698.6,516.4L697.2,519.0L696.0,521.8L695.1,524.5L694.4,526.8L693.9,528.4A1.7,1.7 0 0 0 697.1,529.6L697.1,529.6L697.7,527.9L698.5,525.6L699.4,523.1L700.4,520.5L701.6,518.4L703.1,516.7L705.0,515.1L707.1,513.3L709.3,511.4L711.1,509.2L712.3,506.8L713.2,504.3L713.8,501.9L714.3,499.5L715.0,497.0L715.8,494.1L716.6,490.7L717.4,487.4L718.1,484.5L718.6,482.5A2.3,2.3 0 0 0 714.2,481.5ZM714.1,482.0a2.3,2.3 0 1,0 4.6,0a2.3,2.3 0 1,0 -4.6,0ZM710.8,496.5a2.1,2.1 0 1,0 4.3,0a2.1,2.1 0 1,0 -4.3,0ZM707.4,508.1a2.0,2.0 0 1,0 4.0,0a2.0,2.0 0 1,0 -4.0,0ZM698.3,517.4a1.8,1.8 0 1,0 3.7,0a1.8,1.8 0 1,0 -3.7,0ZM693.8,529.0a1.7,1.7 0 1,0 3.4,0a1.7,1.7 0 1,0 -3.4,0Z"/><path d="M739.7,478.3L738.7,479.6L737.2,481.6L735.5,483.9L733.9,486.2L732.6,488.2L731.7,489.7L730.8,491.1L730.0,492.9L729.6,495.1L730.3,497.7L731.9,499.9L734.2,502.0L736.5,503.9L738.5,505.6L739.9,507.2L740.9,508.9L741.8,510.5L742.3,512.0L742.4,513.1L742.2,513.8L741.3,514.8L739.2,516.0L736.4,517.3L733.6,518.7L731.3,520.3L729.6,521.8L728.2,523.3L727.1,525.0L726.3,526.8L725.9,528.9L726.2,531.2L727.0,533.4L728.0,535.3L728.9,537.2L729.5,538.8L729.9,540.6L730.3,542.5L730.6,544.4L730.7,546.0L730.7,547.3L730.6,548.2L730.2,549.1L729.7,549.9L729.2,550.6L728.8,551.2A1.8,1.8 0 0 0 731.8,553.2L731.8,553.2L732.2,552.7L732.7,551.9L733.4,550.8L734.1,549.4L734.5,547.7L734.5,545.9L734.4,543.9L734.1,541.9L733.7,539.8L733.3,537.8L732.6,535.6L731.6,533.6L730.8,531.8L730.2,530.2L730.1,529.1L730.3,528.1L730.8,527.1L731.5,526.0L732.6,524.9L733.9,523.7L735.8,522.6L738.4,521.4L741.3,520.0L744.0,518.5L746.2,516.4L747.1,513.7L747.0,511.1L746.2,508.7L745.2,506.5L743.9,504.4L742.1,502.2L739.8,500.1L737.5,498.1L735.7,496.5L734.9,495.3L734.9,494.9L735.0,494.5L735.4,493.8L736.2,492.6L737.2,491.0L738.4,489.2L739.9,487.1L741.6,485.0L743.1,483.1L744.1,481.7A2.8,2.8 0 0 0 739.7,478.3ZM739.1,480.0a2.8,2.8 0 1,0 5.6,0a2.8,2.8 0 1,0 -5.6,0ZM732.2,489.6a2.7,2.7 0 1,0 5.4,0a2.7,2.7 0 1,0 -5.4,0ZM730.0,496.5a2.6,2.6 0 1,0 5.2,0a2.6,2.6 0 1,0 -5.2,0ZM739.5,505.8a2.4,2.4 0 1,0 4.9,0a2.4,2.4 0 1,0 -4.9,0ZM741.9,515.1a2.3,2.3 0 1,0 4.7,0a2.3,2.3 0 1,0 -4.7,0ZM730.4,522.0a2.2,2.2 0 1,0 4.4,0a2.2,2.2 0 1,0 -4.4,0ZM725.9,529.0a2.1,2.1 0 1,0 4.2,0a2.1,2.1 0 1,0 -4.2,0ZM729.4,538.3a2.0,2.0 0 1,0 3.9,0a2.0,2.0 0 1,0 -3.9,0ZM730.7,547.5a1.9,1.9 0 1,0 3.7,0a1.9,1.9 0 1,0 -3.7,0ZM728.5,552.2a1.8,1.8 0 1,0 3.6,0a1.8,1.8 0 1,0 -3.6,0Z"/><path d="M740.6,482.5L741.9,483.1L743.6,483.9L745.6,484.9L747.7,486.0L749.8,487.2L751.9,488.6L754.3,490.2L756.7,491.9L758.9,493.8L761.0,495.8L763.0,498.1L764.9,500.8L766.7,503.6L768.5,506.5L770.2,509.2L771.9,511.7L773.6,514.1L775.1,516.4L776.3,518.4L777.3,520.4L777.9,522.3L778.4,524.2L778.6,526.0L778.6,527.5L778.5,528.4L778.3,528.9L777.7,529.3L776.9,529.6L776.2,529.8L776.1,529.8L776.3,530.0L776.1,529.4L775.9,528.4L775.7,527.4L775.5,526.7A1.5,1.5 0 0 0 772.5,527.3L772.5,527.3L772.6,528.0L772.8,529.0L773.1,530.3L773.6,531.6L774.9,532.8L776.4,533.0L777.8,532.8L779.3,532.2L780.7,531.1L781.7,529.6L782.1,527.8L782.1,525.8L781.9,523.6L781.5,521.3L780.7,519.0L779.7,516.7L778.4,514.3L776.9,511.9L775.3,509.5L773.8,507.0L772.2,504.3L770.5,501.3L768.7,498.3L766.7,495.3L764.6,492.6L762.2,490.2L759.8,488.0L757.3,486.1L754.9,484.4L752.6,482.8L750.4,481.3L748.1,480.1L746.1,479.0L744.4,478.1L743.2,477.5A2.8,2.8 0 0 0 740.6,482.5ZM739.1,480.0a2.8,2.8 0 1,0 5.6,0a2.8,2.8 0 1,0 -5.6,0ZM748.6,485.0a2.6,2.6 0 1,0 5.3,0a2.6,2.6 0 1,0 -5.3,0ZM760.4,494.2a2.4,2.4 0 1,0 4.8,0a2.4,2.4 0 1,0 -4.8,0ZM769.9,508.1a2.1,2.1 0 1,0 4.2,0a2.1,2.1 0 1,0 -4.2,0ZM777.1,519.7a1.9,1.9 0 1,0 3.7,0a1.9,1.9 0 1,0 -3.7,0ZM778.4,529.0a1.7,1.7 0 1,0 3.4,0a1.7,1.7 0 1,0 -3.4,0ZM773.9,531.3a1.6,1.6 0 1,0 3.2,0a1.6,1.6 0 1,0 -3.2,0ZM772.5,527.0a1.5,1.5 0 1,0 3.1,0a1.5,1.5 0 1,0 -3.1,0Z"/><path d="M741.5,481.8L743.8,482.1L747.1,482.6L750.9,483.1L754.7,483.6L757.7,484.0L759.9,484.4L762.0,485.0L764.1,485.5L766.4,485.6L768.9,484.6L770.6,482.5L771.3,480.1L771.6,477.8L771.8,475.7L772.1,473.7L772.4,471.7L772.6,469.6L772.9,467.8L773.2,466.5L773.7,465.7L774.5,465.1L775.9,464.5L777.6,464.0L779.4,463.8L781.1,463.9L782.7,464.2L784.4,464.6L786.0,465.4L787.6,466.4L789.0,467.7L790.4,469.6L791.7,472.2L793.0,475.1L794.4,478.2L795.8,481.1L797.2,484.0L798.6,487.0L800.1,489.9L801.6,492.7L803.1,495.2L804.7,497.3L806.4,499.0L808.0,500.5L809.4,501.6L810.3,502.4A1.6,1.6 0 0 0 812.5,500.0L812.5,500.0L811.5,499.1L810.2,498.0L808.8,496.6L807.3,495.0L805.9,493.2L804.7,491.0L803.3,488.3L802.0,485.4L800.6,482.4L799.2,479.5L797.9,476.6L796.7,473.5L795.3,470.4L793.9,467.5L792.2,465.1L790.2,463.1L788.1,461.7L785.9,460.6L783.7,459.9L781.5,459.5L779.3,459.4L776.9,459.6L774.5,460.2L772.3,461.1L770.3,462.5L769.0,464.6L768.3,466.8L767.9,469.0L767.7,471.0L767.3,472.9L766.9,475.0L766.7,477.2L766.4,479.1L766.0,480.3L765.9,480.6L765.8,480.5L764.9,480.4L763.3,480.0L761.1,479.3L758.5,478.8L755.4,478.3L751.7,477.7L748.0,477.1L744.6,476.6L742.3,476.2A2.8,2.8 0 0 0 741.5,481.8ZM739.1,479.0a2.8,2.8 0 1,0 5.6,0a2.8,2.8 0 1,0 -5.6,0ZM755.5,481.4a2.6,2.6 0 1,0 5.3,0a2.6,2.6 0 1,0 -5.3,0ZM764.9,482.6a2.5,2.5 0 1,0 5.1,0a2.5,2.5 0 1,0 -5.1,0ZM767.3,473.3a2.4,2.4 0 1,0 4.8,0a2.4,2.4 0 1,0 -4.8,0ZM769.7,464.1a2.3,2.3 0 1,0 4.6,0a2.3,2.3 0 1,0 -4.6,0ZM779.1,461.7a2.2,2.2 0 1,0 4.4,0a2.2,2.2 0 1,0 -4.4,0ZM788.5,466.4a2.1,2.1 0 1,0 4.2,0a2.1,2.1 0 1,0 -4.2,0ZM795.6,480.3a1.9,1.9 0 1,0 3.8,0a1.9,1.9 0 1,0 -3.8,0ZM802.8,494.2a1.7,1.7 0 1,0 3.5,0a1.7,1.7 0 1,0 -3.5,0ZM809.8,501.2a1.6,1.6 0 1,0 3.2,0a1.6,1.6 0 1,0 -3.2,0Z"/><path d="M798.2,490.2L799.2,492.9L800.6,496.8L802.1,501.2L803.8,505.5L805.4,508.9L807.1,511.3L808.8,513.2L810.5,514.6L811.9,515.6L812.8,516.3A1.5,1.5 0 0 0 814.8,513.9L814.8,513.9L813.8,513.1L812.5,512.1L811.0,510.9L809.6,509.4L808.2,507.3L806.8,504.2L805.3,500.1L803.8,495.7L802.5,491.7L801.6,489.0A1.8,1.8 0 0 0 798.2,490.2ZM798.1,489.6a1.8,1.8 0 1,0 3.5,0a1.8,1.8 0 1,0 -3.5,0ZM805.2,508.1a1.6,1.6 0 1,0 3.2,0a1.6,1.6 0 1,0 -3.2,0ZM812.3,515.1a1.5,1.5 0 1,0 3.1,0a1.5,1.5 0 1,0 -3.1,0Z"/><path d="M766.5,486.1L767.3,486.2L768.0,486.3L768.8,486.5L769.6,486.8L770.7,487.6L772.2,489.0L774.1,490.8L776.1,492.9L778.0,495.2L779.7,497.6L781.3,500.0L782.7,502.8L784.1,505.6L785.5,508.4L786.7,511.1L787.9,513.7L789.0,516.4L789.9,518.9L790.8,521.0L791.4,522.6A1.6,1.6 0 0 0 794.4,521.4L794.4,521.4L793.9,519.9L793.1,517.7L792.1,515.1L791.0,512.4L789.9,509.7L788.7,507.0L787.4,504.1L786.0,501.1L784.5,498.2L782.9,495.4L781.1,492.9L779.0,490.4L777.0,488.1L775.0,486.0L773.3,484.4L771.7,483.2L770.1,482.5L768.8,482.2L768.0,482.1L767.5,481.9A2.1,2.1 0 0 0 766.5,486.1ZM764.9,484.0a2.1,2.1 0 1,0 4.2,0a2.1,2.1 0 1,0 -4.2,0ZM769.9,486.0a2.1,2.1 0 1,0 4.1,0a2.1,2.1 0 1,0 -4.1,0ZM779.4,496.5a1.9,1.9 0 1,0 3.8,0a1.9,1.9 0 1,0 -3.8,0ZM786.6,510.4a1.7,1.7 0 1,0 3.5,0a1.7,1.7 0 1,0 -3.5,0ZM791.3,522.0a1.6,1.6 0 1,0 3.2,0a1.6,1.6 0 1,0 -3.2,0Z"/></g>
<line x1="448.9" y1="24.1" x2="353" y2="126.5" stroke="#000" stroke-width="2.9"/>
<line x1="557.8" y1="106.4" x2="474.4" y2="203.0" stroke="#000" stroke-width="2.9"/>
<line x1="817.2" y1="121.9" x2="755" y2="212.5" stroke="#000" stroke-width="2.9"/>
<line x1="608.3" y1="304.5" x2="685" y2="242.3" stroke="#000" stroke-width="2.9"/>
<line x1="159.2" y1="153.3" x2="298.5" y2="153.3" stroke="#000" stroke-width="2.9"/>
<line x1="100.5" y1="226.6" x2="236.4" y2="226.0" stroke="#000" stroke-width="2.9"/>
<line x1="667.8" y1="396.4" x2="756.1" y2="396.4" stroke="#000" stroke-width="2.9"/>
<line x1="613.1" y1="552.5" x2="731.7" y2="552.5" stroke="#000" stroke-width="2.9"/>
<text x="454.2" y="25.6">Cell body (soma)</text>
<text x="566.2" y="109.4">Axon</text>
<text x="773.2" y="114.3">Oligodendrocyte</text>
<text x="44.4" y="159.2">Cell membrane</text>
<text x="31.2" y="232.1">Dendrite</text>
<text x="489" y="316.4">Node of Ranvier</text>
<text x="558.6" y="402">Myelin sheath</text>
<text x="538.6" y="558.1">Synapse</text>
</svg></body></html>
